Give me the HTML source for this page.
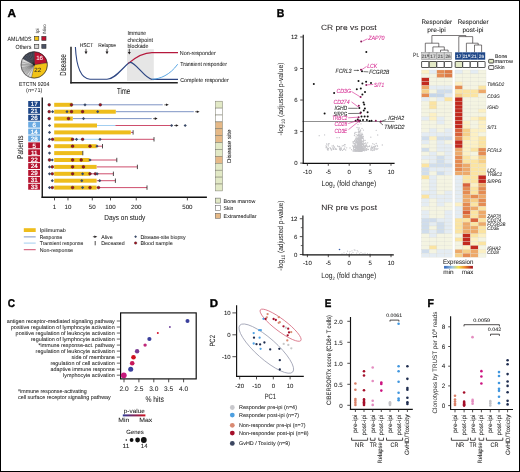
<!DOCTYPE html>
<html><head><meta charset="utf-8"><style>
html,body{margin:0;padding:0;background:#fff;}
svg{display:block;font-family:"Liberation Sans", sans-serif;will-change:transform;text-rendering:geometricPrecision;}
</style></head><body>
<svg width="520" height="472" viewBox="0 0 520 472">
<rect width="520" height="472" fill="#fff"/>
<rect x="0.5" y="0.5" width="519" height="471" fill="none" stroke="#000" stroke-width="1" />
<text x="7.4" y="16.6" font-size="11.5" fill="#000" stroke="#000" stroke-width="0.35" font-weight="bold" textLength="8.5" lengthAdjust="spacingAndGlyphs">A</text>
<text transform="translate(39.0,33.4) rotate(-90)" font-size="4.6" fill="#444" stroke="#444" stroke-width="0.05">Ipi</text>
<text transform="translate(45.6,33.4) rotate(-90)" font-size="4.6" fill="#444" stroke="#444" stroke-width="0.05">Nivo</text>
<text x="31.5" y="40.8" font-size="6.0" text-anchor="end" fill="#1a1a1a" stroke="#1a1a1a" stroke-width="0.05" textLength="24" lengthAdjust="spacingAndGlyphs">AML/MDS</text>
<text x="31.5" y="48.6" font-size="6.0" text-anchor="end" fill="#1a1a1a" stroke="#1a1a1a" stroke-width="0.05" textLength="16" lengthAdjust="spacingAndGlyphs">Others</text>
<rect x="34.6" y="36.4" width="4.2" height="4.0" fill="#f2c318" stroke="#333" stroke-width="0.6" />
<rect x="41.8" y="36.4" width="4.2" height="4.0" fill="#c0102e" stroke="#333" stroke-width="0.6" />
<rect x="34.6" y="44.3" width="4.2" height="4.0" fill="#d4d4d4" stroke="#333" stroke-width="0.6" />
<rect x="41.8" y="44.3" width="4.2" height="4.0" fill="#4b5366" stroke="#333" stroke-width="0.6" />
<path d="M34.2,64.9 L34.20,51.70 A13.2,13.2 0 0 1 47.24,62.86 Z" fill="#bb1030" stroke="#231f20" stroke-width="0.35"/>
<path d="M34.2,64.9 L47.24,62.86 A13.2,13.2 0 0 1 31.30,77.78 Z" fill="#f2c318" stroke="#231f20" stroke-width="0.35"/>
<path d="M34.2,64.9 L31.30,77.78 A13.2,13.2 0 0 1 28.03,76.57 Z" fill="#dcdcdc" stroke="#3a3a3a" stroke-width="0.25"/>
<path d="M34.2,64.9 L28.03,76.57 A13.2,13.2 0 0 1 26.07,75.30 Z" fill="#dcdcdc" stroke="#3a3a3a" stroke-width="0.25"/>
<path d="M34.2,64.9 L26.07,75.30 A13.2,13.2 0 0 1 25.18,74.54 Z" fill="#dcdcdc" stroke="#3a3a3a" stroke-width="0.25"/>
<path d="M34.2,64.9 L25.18,74.54 A13.2,13.2 0 0 1 24.36,73.70 Z" fill="#dcdcdc" stroke="#3a3a3a" stroke-width="0.25"/>
<path d="M34.2,64.9 L24.36,73.70 A13.2,13.2 0 0 1 23.62,72.80 Z" fill="#dcdcdc" stroke="#3a3a3a" stroke-width="0.25"/>
<path d="M34.2,64.9 L23.62,72.80 A13.2,13.2 0 0 1 22.97,71.83 Z" fill="#dcdcdc" stroke="#3a3a3a" stroke-width="0.25"/>
<path d="M34.2,64.9 L22.97,71.83 A13.2,13.2 0 0 1 22.40,70.81 Z" fill="#dcdcdc" stroke="#3a3a3a" stroke-width="0.25"/>
<path d="M34.2,64.9 L22.40,70.81 A13.2,13.2 0 0 1 21.92,69.75 Z" fill="#dcdcdc" stroke="#3a3a3a" stroke-width="0.25"/>
<path d="M34.2,64.9 L21.92,69.75 A13.2,13.2 0 0 1 21.54,68.64 Z" fill="#dcdcdc" stroke="#3a3a3a" stroke-width="0.25"/>
<path d="M34.2,64.9 L21.54,68.64 A13.2,13.2 0 0 1 21.26,67.51 Z" fill="#dcdcdc" stroke="#3a3a3a" stroke-width="0.25"/>
<path d="M34.2,64.9 L21.26,67.51 A13.2,13.2 0 0 1 21.00,65.19 Z" fill="#dcdcdc" stroke="#3a3a3a" stroke-width="0.25"/>
<path d="M34.2,64.9 L21.00,65.19 A13.2,13.2 0 0 1 21.03,64.02 Z" fill="#dcdcdc" stroke="#3a3a3a" stroke-width="0.25"/>
<path d="M34.2,64.9 L21.03,64.02 A13.2,13.2 0 0 1 21.39,61.72 Z" fill="#dcdcdc" stroke="#3a3a3a" stroke-width="0.25"/>
<path d="M34.2,64.9 L21.39,61.72 A13.2,13.2 0 0 1 22.67,58.47 Z" fill="#dcdcdc" stroke="#3a3a3a" stroke-width="0.25"/>
<path d="M34.2,64.9 L22.67,58.47 A13.2,13.2 0 0 1 23.98,56.54 Z" fill="#434b5c" stroke="#1a1a1a" stroke-width="0.3"/>
<path d="M34.2,64.9 L23.98,56.54 A13.2,13.2 0 0 1 25.62,54.87 Z" fill="#434b5c" stroke="#1a1a1a" stroke-width="0.3"/>
<path d="M34.2,64.9 L25.62,54.87 A13.2,13.2 0 0 1 26.54,54.15 Z" fill="#434b5c" stroke="#1a1a1a" stroke-width="0.3"/>
<path d="M34.2,64.9 L26.54,54.15 A13.2,13.2 0 0 1 28.55,52.97 Z" fill="#434b5c" stroke="#1a1a1a" stroke-width="0.3"/>
<path d="M34.2,64.9 L28.55,52.97 A13.2,13.2 0 0 1 30.74,52.16 Z" fill="#434b5c" stroke="#1a1a1a" stroke-width="0.3"/>
<path d="M34.2,64.9 L30.74,52.16 A13.2,13.2 0 0 1 33.03,51.75 Z" fill="#434b5c" stroke="#1a1a1a" stroke-width="0.3"/>
<path d="M34.2,64.9 L33.03,51.75 A13.2,13.2 0 0 1 34.20,51.70 Z" fill="#434b5c" stroke="#1a1a1a" stroke-width="0.3"/>
<circle cx="34.2" cy="64.9" r="13.2" fill="none" stroke="#231f20" stroke-width="0.5"/>
<text x="39.6" y="60.2" font-size="6.2" text-anchor="middle" fill="#fff" stroke="#fff" stroke-width="0.05">16</text>
<text x="37.8" y="72.4" font-size="6.2" text-anchor="middle" fill="#231f20" stroke="#231f20" stroke-width="0.05">22</text>
<text x="34.2" y="85.8" font-size="5.7" text-anchor="middle" fill="#1a1a1a" stroke="#1a1a1a" stroke-width="0.05" textLength="30.2" lengthAdjust="spacingAndGlyphs">ETCTN 9204</text>
<text x="34.2" y="92.2" font-size="5.6" text-anchor="middle" fill="#1a1a1a">(<tspan font-style="italic">n</tspan>=71)</text>
<rect x="127" y="49.2" width="26.8" height="31.6" fill="#e6e6e6" />
<line x1="71.0" y1="46.8" x2="71.0" y2="83.5" stroke="#222" stroke-width="1.5" />
<line x1="70.3" y1="82.8" x2="177.8" y2="82.8" stroke="#222" stroke-width="1.5" />
<text transform="translate(65.8,75.8) rotate(-90)" font-size="8.8" fill="#1a1a1a" stroke="#1a1a1a" stroke-width="0.05" textLength="21.7" lengthAdjust="spacingAndGlyphs">Disease</text>
<text x="117" y="93.6" font-size="8.6" fill="#1a1a1a" stroke="#1a1a1a" stroke-width="0.05" textLength="13.2" lengthAdjust="spacingAndGlyphs">Time</text>
<text x="79.7" y="47.1" font-size="5.6" fill="#1a1a1a" stroke="#1a1a1a" stroke-width="0.05" textLength="13.5" lengthAdjust="spacingAndGlyphs">HSCT</text>
<text x="98.2" y="47.1" font-size="5.6" fill="#1a1a1a" stroke="#1a1a1a" stroke-width="0.05" textLength="17.8" lengthAdjust="spacingAndGlyphs">Relapse</text>
<text x="127.4" y="35.2" font-size="5.9" fill="#1a1a1a" stroke="#1a1a1a" stroke-width="0.05" textLength="18.8" lengthAdjust="spacingAndGlyphs">Immune</text>
<text x="127.4" y="41.6" font-size="5.9" fill="#1a1a1a" stroke="#1a1a1a" stroke-width="0.05" textLength="25.6" lengthAdjust="spacingAndGlyphs">checkpoint</text>
<text x="127.4" y="47.9" font-size="5.9" fill="#1a1a1a" stroke="#1a1a1a" stroke-width="0.05" textLength="21.1" lengthAdjust="spacingAndGlyphs">blockade</text>
<line x1="86" y1="48.8" x2="86" y2="52.2" stroke="#231f20" stroke-width="0.8" />
<path d="M84.5,51.6 L87.5,51.6 L86,54.2 Z" fill="#231f20"/>
<line x1="107" y1="48.8" x2="107" y2="52.2" stroke="#231f20" stroke-width="0.8" />
<path d="M105.5,51.6 L108.5,51.6 L107,54.2 Z" fill="#231f20"/>
<line x1="129.3" y1="48.8" x2="129.3" y2="52.6" stroke="#231f20" stroke-width="0.8" />
<path d="M127.80000000000001,52.0 L130.8,52.0 L129.3,54.6 Z" fill="#231f20"/>
<path d="M75.4,47 C76.3,66 80,78.5 90,79.3 L107,79.3 C115,79.3 122,68 129.2,62.8" stroke="#2d4683" stroke-width="1.1" fill="none" />
<path d="M128.3,63.4 C137,56 144,52.6 152,52.6 L178,52.6" stroke="#b5183c" stroke-width="1.1" fill="none" />
<path d="M129.2,62.8 C134,59.5 145,79.3 152,79.3 L178,79.3" stroke="#2d4683" stroke-width="1.2" fill="none" />
<path d="M152,79.3 C160,79 170,75 177.7,64.2" stroke="#4a9de0" stroke-width="0.9" fill="none" />
<text x="179.8" y="54.7" font-size="5.8" fill="#1a1a1a" stroke="#1a1a1a" stroke-width="0.05" textLength="36" lengthAdjust="spacingAndGlyphs">Non-responder</text>
<text x="180.2" y="66.3" font-size="5.8" fill="#1a1a1a" stroke="#1a1a1a" stroke-width="0.05" textLength="46.8" lengthAdjust="spacingAndGlyphs">Transient responder</text>
<text x="180.2" y="82.0" font-size="5.8" fill="#1a1a1a" stroke="#1a1a1a" stroke-width="0.05" textLength="48.6" lengthAdjust="spacingAndGlyphs">Complete responder</text>
<rect x="28.2" y="101.0" width="11.8" height="5.9" fill="#1f4788" />
<text x="34.2" y="106.35" font-size="6.2" text-anchor="middle" fill="#fff" stroke="#fff" stroke-width="0.22">17</text>
<rect x="28.2" y="107.9" width="11.8" height="5.9" fill="#1f4788" />
<text x="34.2" y="113.25" font-size="6.2" text-anchor="middle" fill="#fff" stroke="#fff" stroke-width="0.22">21</text>
<rect x="28.2" y="114.8" width="11.8" height="5.9" fill="#1f4788" />
<text x="34.2" y="120.15" font-size="6.2" text-anchor="middle" fill="#fff" stroke="#fff" stroke-width="0.22">26</text>
<rect x="28.2" y="121.7" width="11.8" height="5.9" fill="#6aaae2" />
<text x="34.2" y="127.05" font-size="6.2" text-anchor="middle" fill="#fff" stroke="#fff" stroke-width="0.22">6</text>
<rect x="28.2" y="128.6" width="11.8" height="5.9" fill="#6aaae2" />
<text x="34.2" y="133.95" font-size="6.2" text-anchor="middle" fill="#fff" stroke="#fff" stroke-width="0.22">14</text>
<rect x="28.2" y="135.5" width="11.8" height="5.9" fill="#6aaae2" />
<text x="34.2" y="140.85" font-size="6.2" text-anchor="middle" fill="#fff" stroke="#fff" stroke-width="0.22">28</text>
<rect x="28.2" y="142.39999999999998" width="11.8" height="5.9" fill="#b5132f" />
<text x="34.2" y="147.75" font-size="6.2" text-anchor="middle" fill="#fff" stroke="#fff" stroke-width="0.22">5</text>
<rect x="28.2" y="149.29999999999998" width="11.8" height="5.9" fill="#b5132f" />
<text x="34.2" y="154.65" font-size="6.2" text-anchor="middle" fill="#fff" stroke="#fff" stroke-width="0.22">11</text>
<rect x="28.2" y="156.2" width="11.8" height="5.9" fill="#b5132f" />
<text x="34.2" y="161.55" font-size="6.2" text-anchor="middle" fill="#fff" stroke="#fff" stroke-width="0.22">22</text>
<rect x="28.2" y="163.1" width="11.8" height="5.9" fill="#b5132f" />
<text x="34.2" y="168.45" font-size="6.2" text-anchor="middle" fill="#fff" stroke="#fff" stroke-width="0.22">24</text>
<rect x="28.2" y="170.0" width="11.8" height="5.9" fill="#b5132f" />
<text x="34.2" y="175.35" font-size="6.2" text-anchor="middle" fill="#fff" stroke="#fff" stroke-width="0.22">29</text>
<rect x="28.2" y="176.89999999999998" width="11.8" height="5.9" fill="#b5132f" />
<text x="34.2" y="182.25" font-size="6.2" text-anchor="middle" fill="#fff" stroke="#fff" stroke-width="0.22">31</text>
<rect x="28.2" y="183.8" width="11.8" height="5.9" fill="#b5132f" />
<text x="34.2" y="189.15" font-size="6.2" text-anchor="middle" fill="#fff" stroke="#fff" stroke-width="0.22">33</text>
<line x1="42.25" y1="97.6" x2="42.25" y2="197.9" stroke="#111" stroke-width="1.35" />
<line x1="41.6" y1="197.2" x2="206.9" y2="197.2" stroke="#111" stroke-width="1.35" />
<text transform="translate(23.4,158.9) rotate(-90)" font-size="8.4" fill="#1a1a1a" stroke="#1a1a1a" stroke-width="0.05" textLength="23.3" lengthAdjust="spacingAndGlyphs">Patients</text>
<line x1="54.519999999999996" y1="197.3" x2="54.519999999999996" y2="200.4" stroke="#231f20" stroke-width="0.8" />
<text x="54.519999999999996" y="208.8" font-size="6.2" text-anchor="middle" fill="#1a1a1a" stroke="#1a1a1a" stroke-width="0.05">1</text>
<line x1="67.96936704624731" y1="197.3" x2="67.96936704624731" y2="200.4" stroke="#231f20" stroke-width="0.8" />
<text x="67.96936704624731" y="208.8" font-size="6.2" text-anchor="middle" fill="#1a1a1a" stroke="#1a1a1a" stroke-width="0.05">10</text>
<line x1="92.28204178980326" y1="197.3" x2="92.28204178980326" y2="200.4" stroke="#231f20" stroke-width="0.8" />
<text x="92.28204178980326" y="208.8" font-size="6.2" text-anchor="middle" fill="#1a1a1a" stroke="#1a1a1a" stroke-width="0.05">50</text>
<line x1="110.5" y1="197.3" x2="110.5" y2="200.4" stroke="#231f20" stroke-width="0.8" />
<text x="110.5" y="208.8" font-size="6.2" text-anchor="middle" fill="#1a1a1a" stroke="#1a1a1a" stroke-width="0.05">100</text>
<line x1="136.2640835796065" y1="197.3" x2="136.2640835796065" y2="200.4" stroke="#231f20" stroke-width="0.8" />
<text x="136.2640835796065" y="208.8" font-size="6.2" text-anchor="middle" fill="#1a1a1a" stroke="#1a1a1a" stroke-width="0.05">200</text>
<line x1="187.3834282004869" y1="197.3" x2="187.3834282004869" y2="200.4" stroke="#231f20" stroke-width="0.8" />
<text x="187.3834282004869" y="208.8" font-size="6.2" text-anchor="middle" fill="#1a1a1a" stroke="#1a1a1a" stroke-width="0.05">500</text>
<text x="104.3" y="219.6" font-size="7.4" fill="#1a1a1a" stroke="#1a1a1a" stroke-width="0.05" textLength="41" lengthAdjust="spacingAndGlyphs">Days on study</text>
<line x1="72.3" y1="104.8" x2="162.7" y2="104.8" stroke="#6f88bd" stroke-width="0.9" />
<rect x="54.2" y="102.8" width="18.099999999999994" height="4.0" fill="#eebd1c" />
<line x1="164.4" y1="104.8" x2="166.6" y2="104.8" stroke="#231f20" stroke-width="0.7" />
<path d="M166.0,103.5 L168.8,104.8 L166.0,106.1 Z" fill="#231f20"/>
<circle cx="49.2" cy="104.8" r="1.4" fill="#a3101f" stroke="#231f20" stroke-width="0.4"/>
<circle cx="71.5" cy="104.8" r="1.4" fill="#a3101f" stroke="#231f20" stroke-width="0.4"/>
<path d="M83.4,104.8 L85,103.2 L86.6,104.8 L85,106.39999999999999 Z" fill="#3b4a68"/>
<circle cx="100.3" cy="104.8" r="1.4" fill="#a3101f" stroke="#231f20" stroke-width="0.4"/>
<line x1="115.8" y1="111.7" x2="193.8" y2="111.7" stroke="#6f88bd" stroke-width="0.9" />
<rect x="54.2" y="109.7" width="61.599999999999994" height="4.0" fill="#eebd1c" />
<line x1="195.2" y1="111.7" x2="197.39999999999998" y2="111.7" stroke="#231f20" stroke-width="0.7" />
<path d="M196.79999999999998,110.4 L199.6,111.7 L196.79999999999998,113.0 Z" fill="#231f20"/>
<circle cx="49.2" cy="111.7" r="1.4" fill="#a3101f" stroke="#231f20" stroke-width="0.4"/>
<path d="M51.0,111.7 L52.6,110.10000000000001 L54.2,111.7 L52.6,113.3 Z" fill="#3b4a68"/>
<path d="M65.4,111.7 L67,110.10000000000001 L68.6,111.7 L67,113.3 Z" fill="#3b4a68"/>
<circle cx="71.5" cy="111.7" r="1.4" fill="#a3101f" stroke="#231f20" stroke-width="0.4"/>
<circle cx="82.6" cy="111.7" r="1.4" fill="#a3101f" stroke="#231f20" stroke-width="0.4"/>
<path d="M96.10000000000001,111.7 L97.7,110.10000000000001 L99.3,111.7 L97.7,113.3 Z" fill="#3b4a68"/>
<line x1="72.8" y1="118.6" x2="151.7" y2="118.6" stroke="#6f88bd" stroke-width="0.9" />
<rect x="54.2" y="116.6" width="18.599999999999994" height="4.0" fill="#eebd1c" />
<line x1="153.2" y1="118.6" x2="155.39999999999998" y2="118.6" stroke="#231f20" stroke-width="0.7" />
<path d="M154.79999999999998,117.3 L157.6,118.6 L154.79999999999998,119.89999999999999 Z" fill="#231f20"/>
<circle cx="49.2" cy="118.6" r="1.4" fill="#a3101f" stroke="#231f20" stroke-width="0.4"/>
<circle cx="68.5" cy="118.6" r="1.4" fill="#a3101f" stroke="#231f20" stroke-width="0.4"/>
<path d="M81.9,118.6 L83.5,117.0 L85.1,118.6 L83.5,120.19999999999999 Z" fill="#3b4a68"/>
<line x1="97" y1="125.5" x2="115.4" y2="125.5" stroke="#98c8ee" stroke-width="0.9" />
<line x1="115.4" y1="125.5" x2="170.8" y2="125.5" stroke="#c83a5c" stroke-width="0.9" />
<rect x="54.2" y="123.5" width="42.8" height="4.0" fill="#eebd1c" />
<path d="M47.9,125.5 L49.5,123.9 L51.1,125.5 L49.5,127.1 Z" fill="#3b4a68"/>
<path d="M170.0,125.5 L171.6,123.9 L173.2,125.5 L171.6,127.1 Z" fill="#3b4a68"/>
<line x1="174.2" y1="125.5" x2="176.39999999999998" y2="125.5" stroke="#231f20" stroke-width="0.7" />
<path d="M175.79999999999998,124.2 L178.6,125.5 L175.79999999999998,126.8 Z" fill="#231f20"/>
<path d="M183.6,125.5 L185.2,123.9 L186.79999999999998,125.5 L185.2,127.1 Z" fill="#3b4a68"/>
<line x1="130.8" y1="132.4" x2="133" y2="132.4" stroke="#c83a5c" stroke-width="0.9" />
<rect x="54.2" y="130.4" width="76.60000000000001" height="4.0" fill="#eebd1c" />
<line x1="133.1" y1="130.20000000000002" x2="133.1" y2="134.6" stroke="#231f20" stroke-width="0.8" />
<path d="M47.9,132.4 L49.5,130.8 L51.1,132.4 L49.5,134.0 Z" fill="#3b4a68"/>
<line x1="72.3" y1="139.3" x2="100" y2="139.3" stroke="#98c8ee" stroke-width="0.9" />
<line x1="100" y1="139.3" x2="154" y2="139.3" stroke="#c83a5c" stroke-width="0.9" />
<line x1="154" y1="137.10000000000002" x2="154" y2="141.5" stroke="#231f20" stroke-width="0.8" />
<rect x="54.2" y="137.3" width="18.099999999999994" height="4.0" fill="#eebd1c" />
<path d="M47.9,139.3 L49.5,137.70000000000002 L51.1,139.3 L49.5,140.9 Z" fill="#3b4a68"/>
<circle cx="52.6" cy="139.3" r="1.4" fill="#a3101f" stroke="#231f20" stroke-width="0.4"/>
<circle cx="72.6" cy="139.3" r="1.4" fill="#a3101f" stroke="#231f20" stroke-width="0.4"/>
<path d="M74.9,139.3 L76.5,137.70000000000002 L78.1,139.3 L76.5,140.9 Z" fill="#3b4a68"/>
<circle cx="82.6" cy="139.3" r="1.4" fill="#a3101f" stroke="#231f20" stroke-width="0.4"/>
<path d="M98.4,139.3 L100,137.70000000000002 L101.6,139.3 L100,140.9 Z" fill="#3b4a68"/>
<line x1="96.6" y1="146.2" x2="102.5" y2="146.2" stroke="#c83a5c" stroke-width="0.9" />
<line x1="102.5" y1="144.0" x2="102.5" y2="148.39999999999998" stroke="#231f20" stroke-width="0.8" />
<rect x="54.2" y="144.2" width="42.39999999999999" height="4.0" fill="#eebd1c" />
<circle cx="49.2" cy="146.2" r="1.4" fill="#a3101f" stroke="#231f20" stroke-width="0.4"/>
<circle cx="72.6" cy="146.2" r="1.4" fill="#a3101f" stroke="#231f20" stroke-width="0.4"/>
<circle cx="90" cy="146.2" r="1.4" fill="#a3101f" stroke="#231f20" stroke-width="0.4"/>
<path d="M95.4,146.2 L97,144.6 L98.6,146.2 L97,147.79999999999998 Z" fill="#3b4a68"/>
<rect x="54.2" y="151.1" width="28.39999999999999" height="4.0" fill="#eebd1c" />
<line x1="82.8" y1="150.9" x2="82.8" y2="155.29999999999998" stroke="#231f20" stroke-width="0.8" />
<path d="M47.9,153.1 L49.5,151.5 L51.1,153.1 L49.5,154.7 Z" fill="#3b4a68"/>
<line x1="89.5" y1="160.0" x2="116.8" y2="160.0" stroke="#c83a5c" stroke-width="0.9" />
<line x1="116.8" y1="157.8" x2="116.8" y2="162.2" stroke="#231f20" stroke-width="0.8" />
<rect x="54.2" y="158.0" width="35.3" height="4.0" fill="#eebd1c" />
<circle cx="49.5" cy="160.0" r="1.4" fill="#a3101f" stroke="#231f20" stroke-width="0.4"/>
<path d="M50.699999999999996,160.0 L52.3,158.4 L53.9,160.0 L52.3,161.6 Z" fill="#3b4a68"/>
<circle cx="72.6" cy="160.0" r="1.4" fill="#a3101f" stroke="#231f20" stroke-width="0.4"/>
<circle cx="81.2" cy="160.0" r="1.4" fill="#a3101f" stroke="#231f20" stroke-width="0.4"/>
<path d="M88.4,160.0 L90,158.4 L91.6,160.0 L90,161.6 Z" fill="#3b4a68"/>
<line x1="96.6" y1="166.9" x2="137.4" y2="166.9" stroke="#c83a5c" stroke-width="0.9" />
<line x1="137.4" y1="164.70000000000002" x2="137.4" y2="169.1" stroke="#231f20" stroke-width="0.8" />
<rect x="54.2" y="164.9" width="42.39999999999999" height="4.0" fill="#eebd1c" />
<path d="M47.9,166.9 L49.5,165.3 L51.1,166.9 L49.5,168.5 Z" fill="#3b4a68"/>
<circle cx="52.3" cy="166.9" r="1.4" fill="#a3101f" stroke="#231f20" stroke-width="0.4"/>
<circle cx="72.6" cy="166.9" r="1.4" fill="#a3101f" stroke="#231f20" stroke-width="0.4"/>
<circle cx="83.4" cy="166.9" r="1.4" fill="#a3101f" stroke="#231f20" stroke-width="0.4"/>
<line x1="90" y1="173.8" x2="113.4" y2="173.8" stroke="#c83a5c" stroke-width="0.9" />
<line x1="113.4" y1="171.60000000000002" x2="113.4" y2="176.0" stroke="#231f20" stroke-width="0.8" />
<rect x="54.2" y="171.8" width="35.8" height="4.0" fill="#eebd1c" />
<path d="M47.9,173.8 L49.5,172.20000000000002 L51.1,173.8 L49.5,175.4 Z" fill="#3b4a68"/>
<circle cx="52.3" cy="173.8" r="1.4" fill="#a3101f" stroke="#231f20" stroke-width="0.4"/>
<circle cx="72.6" cy="173.8" r="1.4" fill="#a3101f" stroke="#231f20" stroke-width="0.4"/>
<path d="M81.0,173.8 L82.6,172.20000000000002 L84.19999999999999,173.8 L82.6,175.4 Z" fill="#3b4a68"/>
<circle cx="90" cy="173.8" r="1.4" fill="#a3101f" stroke="#231f20" stroke-width="0.4"/>
<circle cx="95.4" cy="173.8" r="1.4" fill="#a3101f" stroke="#231f20" stroke-width="0.4"/>
<path d="M95.60000000000001,173.8 L97.2,172.20000000000002 L98.8,173.8 L97.2,175.4 Z" fill="#3b4a68"/>
<line x1="96.6" y1="180.7" x2="115.4" y2="180.7" stroke="#c83a5c" stroke-width="0.9" />
<line x1="115.4" y1="178.5" x2="115.4" y2="182.89999999999998" stroke="#231f20" stroke-width="0.8" />
<rect x="54.2" y="178.7" width="42.39999999999999" height="4.0" fill="#eebd1c" />
<path d="M50.699999999999996,180.7 L52.3,179.1 L53.9,180.7 L52.3,182.29999999999998 Z" fill="#3b4a68"/>
<path d="M80.2,180.7 L81.8,179.1 L83.39999999999999,180.7 L81.8,182.29999999999998 Z" fill="#3b4a68"/>
<path d="M98.10000000000001,180.7 L99.7,179.1 L101.3,180.7 L99.7,182.29999999999998 Z" fill="#3b4a68"/>
<line x1="96.6" y1="187.60000000000002" x2="147" y2="187.60000000000002" stroke="#c83a5c" stroke-width="0.9" />
<line x1="147" y1="185.40000000000003" x2="147" y2="189.8" stroke="#231f20" stroke-width="0.8" />
<rect x="54.2" y="185.60000000000002" width="42.39999999999999" height="4.0" fill="#eebd1c" />
<path d="M47.9,187.60000000000002 L49.5,186.00000000000003 L51.1,187.60000000000002 L49.5,189.20000000000002 Z" fill="#3b4a68"/>
<circle cx="52.3" cy="187.60000000000002" r="1.4" fill="#a3101f" stroke="#231f20" stroke-width="0.4"/>
<circle cx="72.6" cy="187.60000000000002" r="1.4" fill="#a3101f" stroke="#231f20" stroke-width="0.4"/>
<path d="M81.0,187.60000000000002 L82.6,186.00000000000003 L84.19999999999999,187.60000000000002 L82.6,189.20000000000002 Z" fill="#3b4a68"/>
<circle cx="90" cy="187.60000000000002" r="1.4" fill="#a3101f" stroke="#231f20" stroke-width="0.4"/>
<circle cx="98.5" cy="187.60000000000002" r="1.4" fill="#a3101f" stroke="#231f20" stroke-width="0.4"/>
<rect x="215.6" y="101.2" width="6.8" height="6.9" fill="#e2e9c6" stroke="#7a7a6a" stroke-width="0.5" />
<rect x="215.6" y="108.10000000000001" width="6.8" height="6.9" fill="#ffffff" stroke="#7a7a6a" stroke-width="0.5" />
<rect x="215.6" y="115.0" width="6.8" height="6.9" fill="#ffffff" stroke="#7a7a6a" stroke-width="0.5" />
<rect x="215.6" y="121.9" width="6.8" height="6.9" fill="#e6b987" stroke="#7a7a6a" stroke-width="0.5" />
<rect x="215.6" y="128.8" width="6.8" height="6.9" fill="#e6b987" stroke="#7a7a6a" stroke-width="0.5" />
<rect x="215.6" y="135.7" width="6.8" height="6.9" fill="#e6b987" stroke="#7a7a6a" stroke-width="0.5" />
<rect x="215.6" y="142.60000000000002" width="6.8" height="6.9" fill="#e2e9c6" stroke="#7a7a6a" stroke-width="0.5" />
<rect x="215.6" y="149.5" width="6.8" height="6.9" fill="#e2e9c6" stroke="#7a7a6a" stroke-width="0.5" />
<rect x="215.6" y="156.4" width="6.8" height="6.9" fill="#e6b987" stroke="#7a7a6a" stroke-width="0.5" />
<rect x="215.6" y="163.3" width="6.8" height="6.9" fill="#e2e9c6" stroke="#7a7a6a" stroke-width="0.5" />
<rect x="215.6" y="170.2" width="6.8" height="6.9" fill="#e2e9c6" stroke="#7a7a6a" stroke-width="0.5" />
<rect x="215.6" y="177.10000000000002" width="6.8" height="6.9" fill="#e2e9c6" stroke="#7a7a6a" stroke-width="0.5" />
<rect x="215.6" y="184.0" width="6.8" height="6.9" fill="#e2e9c6" stroke="#7a7a6a" stroke-width="0.5" />
<text transform="translate(230.9,163) rotate(-90)" font-size="5.8" fill="#1a1a1a" stroke="#1a1a1a" stroke-width="0.05" textLength="33.5" lengthAdjust="spacingAndGlyphs">Disease site</text>
<rect x="215.3" y="198.1" width="5.2" height="5.0" fill="#e2e9c6" stroke="#555" stroke-width="0.5" />
<text x="223.6" y="202.5" font-size="5.4" fill="#1a1a1a" stroke="#1a1a1a" stroke-width="0.05" textLength="31.8" lengthAdjust="spacingAndGlyphs">Bone marrow</text>
<rect x="215.3" y="205.7" width="5.2" height="5.0" fill="#ffffff" stroke="#555" stroke-width="0.5" />
<text x="223.6" y="210.1" font-size="5.4" fill="#1a1a1a" stroke="#1a1a1a" stroke-width="0.05" textLength="9.8" lengthAdjust="spacingAndGlyphs">Skin</text>
<rect x="215.3" y="213.29999999999998" width="5.2" height="5.0" fill="#e6b987" stroke="#555" stroke-width="0.5" />
<text x="223.6" y="217.7" font-size="5.4" fill="#1a1a1a" stroke="#1a1a1a" stroke-width="0.05" textLength="32.9" lengthAdjust="spacingAndGlyphs">Extramedullar</text>
<rect x="23.8" y="228.2" width="11.9" height="3.8" fill="#eebd1c" />
<line x1="23.8" y1="236.9" x2="35.7" y2="236.9" stroke="#6f88bd" stroke-width="0.9" />
<line x1="23.8" y1="243.1" x2="35.7" y2="243.1" stroke="#98c8ee" stroke-width="0.9" />
<line x1="23.8" y1="249.7" x2="35.7" y2="249.7" stroke="#c83a5c" stroke-width="0.9" />
<text x="39.7" y="231.8" font-size="5.3" fill="#1a1a1a" stroke="#1a1a1a" stroke-width="0.05" textLength="26.1" lengthAdjust="spacingAndGlyphs">Ipilimumab</text>
<text x="39.7" y="238.70000000000002" font-size="5.3" fill="#1a1a1a" stroke="#1a1a1a" stroke-width="0.05" textLength="22.6" lengthAdjust="spacingAndGlyphs">Response</text>
<text x="39.7" y="244.9" font-size="5.3" fill="#1a1a1a" stroke="#1a1a1a" stroke-width="0.05" textLength="43.7" lengthAdjust="spacingAndGlyphs">Transient response</text>
<text x="39.7" y="251.5" font-size="5.3" fill="#1a1a1a" stroke="#1a1a1a" stroke-width="0.05" textLength="33.3" lengthAdjust="spacingAndGlyphs">Non-response</text>
<line x1="92.9" y1="236.7" x2="95" y2="236.7" stroke="#231f20" stroke-width="0.7" />
<path d="M94.4,235.5 L97.3,236.7 L94.4,237.9 Z" fill="#231f20"/>
<line x1="95.2" y1="241.0" x2="95.2" y2="245.3" stroke="#231f20" stroke-width="0.8" />
<text x="101.2" y="238.5" font-size="5.3" fill="#1a1a1a" stroke="#1a1a1a" stroke-width="0.05" textLength="11.5" lengthAdjust="spacingAndGlyphs">Alive</text>
<text x="101.2" y="244.8" font-size="5.3" fill="#1a1a1a" stroke="#1a1a1a" stroke-width="0.05" textLength="23.4" lengthAdjust="spacingAndGlyphs">Deceased</text>
<path d="M134.2,236.7 L135.6,235.3 L137,236.7 L135.6,238.1 Z" fill="#3b4a68"/>
<circle cx="135.6" cy="243" r="1.3" fill="#a3101f" stroke="#231f20" stroke-width="0.3"/>
<text x="140.4" y="238.5" font-size="5.3" fill="#1a1a1a" stroke="#1a1a1a" stroke-width="0.05" textLength="45.2" lengthAdjust="spacingAndGlyphs">Disease-site biopsy</text>
<text x="140.4" y="244.8" font-size="5.3" fill="#1a1a1a" stroke="#1a1a1a" stroke-width="0.05" textLength="32.3" lengthAdjust="spacingAndGlyphs">Blood sample</text>
<text x="276.8" y="16.5" font-size="11.3" fill="#000" stroke="#000" stroke-width="0.35" font-weight="bold" textLength="7.6" lengthAdjust="spacingAndGlyphs">B</text>
<text x="320.9" y="29.5" font-size="7.6" fill="#231f20" stroke="#231f20" stroke-width="0.05" textLength="55.8" lengthAdjust="spacingAndGlyphs">CR pre vs post</text>
<circle cx="360.4" cy="149.0" r="0.65" fill="#c4c4c8"/>
<circle cx="358.2" cy="149.3" r="0.65" fill="#c4c4c8"/>
<circle cx="358.8" cy="143.3" r="0.65" fill="#c4c4c8"/>
<circle cx="360.4" cy="141.7" r="0.65" fill="#c4c4c8"/>
<circle cx="360.0" cy="142.4" r="0.65" fill="#c4c4c8"/>
<circle cx="359.6" cy="147.8" r="0.65" fill="#c4c4c8"/>
<circle cx="361.5" cy="137.0" r="0.65" fill="#c4c4c8"/>
<circle cx="360.5" cy="146.9" r="0.65" fill="#c4c4c8"/>
<circle cx="356.0" cy="136.8" r="0.65" fill="#c4c4c8"/>
<circle cx="358.2" cy="143.6" r="0.65" fill="#c4c4c8"/>
<circle cx="358.9" cy="148.6" r="0.65" fill="#c4c4c8"/>
<circle cx="357.5" cy="146.8" r="0.65" fill="#c4c4c8"/>
<circle cx="360.1" cy="148.6" r="0.65" fill="#c4c4c8"/>
<circle cx="363.6" cy="145.6" r="0.65" fill="#c4c4c8"/>
<circle cx="362.3" cy="146.5" r="0.65" fill="#c4c4c8"/>
<circle cx="357.3" cy="145.9" r="0.65" fill="#c4c4c8"/>
<circle cx="358.8" cy="148.3" r="0.65" fill="#c4c4c8"/>
<circle cx="359.8" cy="145.8" r="0.65" fill="#c4c4c8"/>
<circle cx="356.6" cy="147.4" r="0.65" fill="#c4c4c8"/>
<circle cx="362.3" cy="146.8" r="0.65" fill="#c4c4c8"/>
<circle cx="359.9" cy="144.3" r="0.65" fill="#c4c4c8"/>
<circle cx="355.2" cy="147.6" r="0.65" fill="#c4c4c8"/>
<circle cx="362.6" cy="150.8" r="0.65" fill="#c4c4c8"/>
<circle cx="359.2" cy="134.1" r="0.65" fill="#c4c4c8"/>
<circle cx="356.7" cy="150.3" r="0.65" fill="#c4c4c8"/>
<circle cx="359.0" cy="147.0" r="0.65" fill="#c4c4c8"/>
<circle cx="361.4" cy="138.8" r="0.65" fill="#c4c4c8"/>
<circle cx="361.6" cy="145.5" r="0.65" fill="#c4c4c8"/>
<circle cx="360.4" cy="139.0" r="0.65" fill="#c4c4c8"/>
<circle cx="355.4" cy="150.2" r="0.65" fill="#c4c4c8"/>
<circle cx="357.6" cy="146.0" r="0.65" fill="#c4c4c8"/>
<circle cx="355.8" cy="147.4" r="0.65" fill="#c4c4c8"/>
<circle cx="358.1" cy="143.0" r="0.65" fill="#c4c4c8"/>
<circle cx="354.9" cy="140.2" r="0.65" fill="#c4c4c8"/>
<circle cx="360.1" cy="138.8" r="0.65" fill="#c4c4c8"/>
<circle cx="360.8" cy="138.9" r="0.65" fill="#c4c4c8"/>
<circle cx="354.6" cy="135.1" r="0.65" fill="#c4c4c8"/>
<circle cx="357.1" cy="148.2" r="0.65" fill="#c4c4c8"/>
<circle cx="361.7" cy="141.7" r="0.65" fill="#c4c4c8"/>
<circle cx="359.8" cy="141.8" r="0.65" fill="#c4c4c8"/>
<circle cx="360.2" cy="149.1" r="0.65" fill="#c4c4c8"/>
<circle cx="361.0" cy="137.7" r="0.65" fill="#c4c4c8"/>
<circle cx="360.6" cy="146.8" r="0.65" fill="#c4c4c8"/>
<circle cx="362.4" cy="137.9" r="0.65" fill="#c4c4c8"/>
<circle cx="360.6" cy="143.1" r="0.65" fill="#c4c4c8"/>
<circle cx="358.5" cy="134.4" r="0.65" fill="#c4c4c8"/>
<circle cx="354.8" cy="144.0" r="0.65" fill="#c4c4c8"/>
<circle cx="361.8" cy="149.6" r="0.65" fill="#c4c4c8"/>
<circle cx="363.2" cy="140.1" r="0.65" fill="#c4c4c8"/>
<circle cx="358.8" cy="146.5" r="0.65" fill="#c4c4c8"/>
<circle cx="360.8" cy="148.4" r="0.65" fill="#c4c4c8"/>
<circle cx="362.2" cy="150.2" r="0.65" fill="#c4c4c8"/>
<circle cx="358.2" cy="145.6" r="0.65" fill="#c4c4c8"/>
<circle cx="359.4" cy="142.3" r="0.65" fill="#c4c4c8"/>
<circle cx="361.6" cy="143.7" r="0.65" fill="#c4c4c8"/>
<circle cx="358.6" cy="138.7" r="0.65" fill="#c4c4c8"/>
<circle cx="359.2" cy="139.5" r="0.65" fill="#c4c4c8"/>
<circle cx="358.2" cy="149.9" r="0.65" fill="#c4c4c8"/>
<circle cx="357.2" cy="139.3" r="0.65" fill="#c4c4c8"/>
<circle cx="356.6" cy="140.5" r="0.65" fill="#c4c4c8"/>
<circle cx="360.8" cy="144.5" r="0.65" fill="#c4c4c8"/>
<circle cx="361.4" cy="141.6" r="0.65" fill="#c4c4c8"/>
<circle cx="359.5" cy="148.3" r="0.65" fill="#c4c4c8"/>
<circle cx="360.6" cy="149.9" r="0.65" fill="#c4c4c8"/>
<circle cx="359.8" cy="149.7" r="0.65" fill="#c4c4c8"/>
<circle cx="359.2" cy="146.3" r="0.65" fill="#c4c4c8"/>
<circle cx="360.7" cy="144.7" r="0.65" fill="#c4c4c8"/>
<circle cx="360.4" cy="134.1" r="0.65" fill="#c4c4c8"/>
<circle cx="358.1" cy="147.6" r="0.65" fill="#c4c4c8"/>
<circle cx="361.5" cy="151.1" r="0.65" fill="#c4c4c8"/>
<circle cx="360.1" cy="148.3" r="0.65" fill="#c4c4c8"/>
<circle cx="354.4" cy="135.6" r="0.65" fill="#c4c4c8"/>
<circle cx="360.0" cy="141.6" r="0.65" fill="#c4c4c8"/>
<circle cx="359.7" cy="147.8" r="0.65" fill="#c4c4c8"/>
<circle cx="360.8" cy="147.5" r="0.65" fill="#c4c4c8"/>
<circle cx="357.7" cy="148.8" r="0.65" fill="#c4c4c8"/>
<circle cx="360.6" cy="130.5" r="0.65" fill="#c4c4c8"/>
<circle cx="358.9" cy="146.5" r="0.65" fill="#c4c4c8"/>
<circle cx="358.9" cy="149.3" r="0.65" fill="#c4c4c8"/>
<circle cx="359.3" cy="128.0" r="0.65" fill="#c4c4c8"/>
<circle cx="356.6" cy="142.6" r="0.65" fill="#c4c4c8"/>
<circle cx="361.6" cy="150.6" r="0.65" fill="#c4c4c8"/>
<circle cx="363.0" cy="143.9" r="0.65" fill="#c4c4c8"/>
<circle cx="358.9" cy="136.7" r="0.65" fill="#c4c4c8"/>
<circle cx="360.7" cy="148.3" r="0.65" fill="#c4c4c8"/>
<circle cx="353.1" cy="141.9" r="0.65" fill="#c4c4c8"/>
<circle cx="356.0" cy="141.9" r="0.65" fill="#c4c4c8"/>
<circle cx="355.5" cy="145.4" r="0.65" fill="#c4c4c8"/>
<circle cx="362.3" cy="149.7" r="0.65" fill="#c4c4c8"/>
<circle cx="359.5" cy="149.9" r="0.65" fill="#c4c4c8"/>
<circle cx="359.6" cy="144.4" r="0.65" fill="#c4c4c8"/>
<circle cx="363.2" cy="150.4" r="0.65" fill="#c4c4c8"/>
<circle cx="358.7" cy="142.3" r="0.65" fill="#c4c4c8"/>
<circle cx="358.2" cy="127.9" r="0.65" fill="#c4c4c8"/>
<circle cx="358.7" cy="143.4" r="0.65" fill="#c4c4c8"/>
<circle cx="360.9" cy="150.1" r="0.65" fill="#c4c4c8"/>
<circle cx="360.8" cy="149.3" r="0.65" fill="#c4c4c8"/>
<circle cx="356.3" cy="138.2" r="0.65" fill="#c4c4c8"/>
<circle cx="356.7" cy="146.0" r="0.65" fill="#c4c4c8"/>
<circle cx="355.9" cy="142.5" r="0.65" fill="#c4c4c8"/>
<circle cx="361.2" cy="140.4" r="0.65" fill="#c4c4c8"/>
<circle cx="357.5" cy="138.7" r="0.65" fill="#c4c4c8"/>
<circle cx="355.7" cy="151.2" r="0.65" fill="#c4c4c8"/>
<circle cx="363.2" cy="144.7" r="0.65" fill="#c4c4c8"/>
<circle cx="363.1" cy="143.6" r="0.65" fill="#c4c4c8"/>
<circle cx="358.9" cy="142.8" r="0.65" fill="#c4c4c8"/>
<circle cx="362.6" cy="134.4" r="0.65" fill="#c4c4c8"/>
<circle cx="357.3" cy="150.4" r="0.65" fill="#c4c4c8"/>
<circle cx="360.2" cy="147.8" r="0.65" fill="#c4c4c8"/>
<circle cx="357.3" cy="138.5" r="0.65" fill="#c4c4c8"/>
<circle cx="362.9" cy="141.5" r="0.65" fill="#c4c4c8"/>
<circle cx="359.2" cy="138.9" r="0.65" fill="#c4c4c8"/>
<circle cx="361.8" cy="144.9" r="0.65" fill="#c4c4c8"/>
<circle cx="359.3" cy="150.2" r="0.65" fill="#c4c4c8"/>
<circle cx="359.0" cy="139.1" r="0.65" fill="#c4c4c8"/>
<circle cx="359.2" cy="131.7" r="0.65" fill="#c4c4c8"/>
<circle cx="361.4" cy="135.4" r="0.65" fill="#c4c4c8"/>
<circle cx="357.4" cy="148.5" r="0.65" fill="#c4c4c8"/>
<circle cx="361.3" cy="151.1" r="0.65" fill="#c4c4c8"/>
<circle cx="362.7" cy="150.5" r="0.65" fill="#c4c4c8"/>
<circle cx="361.9" cy="150.7" r="0.65" fill="#c4c4c8"/>
<circle cx="363.1" cy="138.5" r="0.65" fill="#c4c4c8"/>
<circle cx="361.5" cy="145.5" r="0.65" fill="#c4c4c8"/>
<circle cx="357.5" cy="135.3" r="0.65" fill="#c4c4c8"/>
<circle cx="361.9" cy="134.5" r="0.65" fill="#c4c4c8"/>
<circle cx="359.4" cy="140.7" r="0.65" fill="#c4c4c8"/>
<circle cx="358.9" cy="149.6" r="0.65" fill="#c4c4c8"/>
<circle cx="359.8" cy="146.2" r="0.65" fill="#c4c4c8"/>
<circle cx="359.8" cy="136.0" r="0.65" fill="#c4c4c8"/>
<circle cx="361.8" cy="146.7" r="0.65" fill="#c4c4c8"/>
<circle cx="355.6" cy="149.5" r="0.65" fill="#c4c4c8"/>
<circle cx="361.9" cy="146.5" r="0.65" fill="#c4c4c8"/>
<circle cx="358.4" cy="137.2" r="0.65" fill="#c4c4c8"/>
<circle cx="361.3" cy="142.6" r="0.65" fill="#c4c4c8"/>
<circle cx="361.2" cy="151.1" r="0.65" fill="#c4c4c8"/>
<circle cx="355.8" cy="149.8" r="0.65" fill="#c4c4c8"/>
<circle cx="358.2" cy="137.9" r="0.65" fill="#c4c4c8"/>
<circle cx="358.0" cy="143.4" r="0.65" fill="#c4c4c8"/>
<circle cx="357.4" cy="143.5" r="0.65" fill="#c4c4c8"/>
<circle cx="359.3" cy="138.2" r="0.65" fill="#c4c4c8"/>
<circle cx="360.3" cy="141.2" r="0.65" fill="#c4c4c8"/>
<circle cx="360.5" cy="131.1" r="0.65" fill="#c4c4c8"/>
<circle cx="354.3" cy="145.7" r="0.65" fill="#c4c4c8"/>
<circle cx="358.6" cy="145.0" r="0.65" fill="#c4c4c8"/>
<circle cx="358.2" cy="132.2" r="0.65" fill="#c4c4c8"/>
<circle cx="357.8" cy="148.7" r="0.65" fill="#c4c4c8"/>
<circle cx="361.1" cy="144.6" r="0.65" fill="#c4c4c8"/>
<circle cx="360.1" cy="145.5" r="0.65" fill="#c4c4c8"/>
<circle cx="361.0" cy="139.9" r="0.65" fill="#c4c4c8"/>
<circle cx="353.7" cy="147.4" r="0.65" fill="#c4c4c8"/>
<circle cx="362.5" cy="143.6" r="0.65" fill="#c4c4c8"/>
<circle cx="357.8" cy="148.7" r="0.65" fill="#c4c4c8"/>
<circle cx="356.2" cy="134.7" r="0.65" fill="#c4c4c8"/>
<circle cx="365.5" cy="147.2" r="0.65" fill="#c4c4c8"/>
<circle cx="361.0" cy="143.3" r="0.65" fill="#c4c4c8"/>
<circle cx="359.5" cy="135.2" r="0.65" fill="#c4c4c8"/>
<circle cx="361.5" cy="146.4" r="0.65" fill="#c4c4c8"/>
<circle cx="359.1" cy="143.5" r="0.65" fill="#c4c4c8"/>
<circle cx="361.3" cy="148.7" r="0.65" fill="#c4c4c8"/>
<circle cx="358.4" cy="150.9" r="0.65" fill="#c4c4c8"/>
<circle cx="358.5" cy="142.6" r="0.65" fill="#c4c4c8"/>
<circle cx="359.6" cy="143.6" r="0.65" fill="#c4c4c8"/>
<circle cx="357.2" cy="143.9" r="0.65" fill="#c4c4c8"/>
<circle cx="362.0" cy="128.5" r="0.65" fill="#c4c4c8"/>
<circle cx="352.6" cy="145.8" r="0.65" fill="#c4c4c8"/>
<circle cx="360.4" cy="145.9" r="0.65" fill="#c4c4c8"/>
<circle cx="360.6" cy="136.9" r="0.65" fill="#c4c4c8"/>
<circle cx="360.4" cy="150.6" r="0.65" fill="#c4c4c8"/>
<circle cx="361.8" cy="134.7" r="0.65" fill="#c4c4c8"/>
<circle cx="357.2" cy="148.4" r="0.65" fill="#c4c4c8"/>
<circle cx="363.6" cy="139.9" r="0.65" fill="#c4c4c8"/>
<circle cx="358.0" cy="139.3" r="0.65" fill="#c4c4c8"/>
<circle cx="359.6" cy="148.7" r="0.65" fill="#c4c4c8"/>
<circle cx="356.5" cy="147.8" r="0.65" fill="#c4c4c8"/>
<circle cx="361.9" cy="133.2" r="0.65" fill="#c4c4c8"/>
<circle cx="356.3" cy="141.0" r="0.65" fill="#c4c4c8"/>
<circle cx="361.8" cy="136.7" r="0.65" fill="#c4c4c8"/>
<circle cx="361.4" cy="135.7" r="0.65" fill="#c4c4c8"/>
<circle cx="359.9" cy="143.8" r="0.65" fill="#c4c4c8"/>
<circle cx="358.4" cy="132.8" r="0.65" fill="#c4c4c8"/>
<circle cx="360.4" cy="150.7" r="0.65" fill="#c4c4c8"/>
<circle cx="358.9" cy="145.0" r="0.65" fill="#c4c4c8"/>
<circle cx="360.1" cy="147.3" r="0.65" fill="#c4c4c8"/>
<circle cx="359.7" cy="145.8" r="0.65" fill="#c4c4c8"/>
<circle cx="361.2" cy="148.4" r="0.65" fill="#c4c4c8"/>
<circle cx="356.7" cy="150.8" r="0.65" fill="#c4c4c8"/>
<circle cx="359.2" cy="145.9" r="0.65" fill="#c4c4c8"/>
<circle cx="359.4" cy="150.3" r="0.65" fill="#c4c4c8"/>
<circle cx="359.4" cy="151.2" r="0.65" fill="#c4c4c8"/>
<circle cx="355.5" cy="150.1" r="0.65" fill="#c4c4c8"/>
<circle cx="361.9" cy="147.6" r="0.65" fill="#c4c4c8"/>
<circle cx="358.6" cy="147.5" r="0.65" fill="#c4c4c8"/>
<circle cx="356.6" cy="147.4" r="0.65" fill="#c4c4c8"/>
<circle cx="359.9" cy="135.1" r="0.65" fill="#c4c4c8"/>
<circle cx="361.1" cy="143.3" r="0.65" fill="#c4c4c8"/>
<circle cx="353.2" cy="142.0" r="0.65" fill="#c4c4c8"/>
<circle cx="363.1" cy="142.4" r="0.65" fill="#c4c4c8"/>
<circle cx="355.5" cy="148.0" r="0.65" fill="#c4c4c8"/>
<circle cx="360.6" cy="144.7" r="0.65" fill="#c4c4c8"/>
<circle cx="359.6" cy="147.0" r="0.65" fill="#c4c4c8"/>
<circle cx="361.1" cy="138.6" r="0.65" fill="#c4c4c8"/>
<circle cx="360.6" cy="151.0" r="0.65" fill="#c4c4c8"/>
<circle cx="361.7" cy="137.1" r="0.65" fill="#c4c4c8"/>
<circle cx="356.8" cy="142.5" r="0.65" fill="#c4c4c8"/>
<circle cx="361.0" cy="149.9" r="0.65" fill="#c4c4c8"/>
<circle cx="361.9" cy="148.7" r="0.65" fill="#c4c4c8"/>
<circle cx="361.5" cy="146.1" r="0.65" fill="#c4c4c8"/>
<circle cx="366.0" cy="149.4" r="0.65" fill="#c4c4c8"/>
<circle cx="359.0" cy="140.7" r="0.65" fill="#c4c4c8"/>
<circle cx="366.2" cy="150.4" r="0.65" fill="#c4c4c8"/>
<circle cx="361.4" cy="148.3" r="0.65" fill="#c4c4c8"/>
<circle cx="359.4" cy="142.9" r="0.65" fill="#c4c4c8"/>
<circle cx="359.9" cy="141.3" r="0.65" fill="#c4c4c8"/>
<circle cx="362.1" cy="148.1" r="0.65" fill="#c4c4c8"/>
<circle cx="359.3" cy="144.5" r="0.65" fill="#c4c4c8"/>
<circle cx="360.6" cy="143.9" r="0.65" fill="#c4c4c8"/>
<circle cx="359.2" cy="149.4" r="0.65" fill="#c4c4c8"/>
<circle cx="360.9" cy="149.1" r="0.65" fill="#c4c4c8"/>
<circle cx="357.9" cy="142.2" r="0.65" fill="#c4c4c8"/>
<circle cx="354.8" cy="151.2" r="0.65" fill="#c4c4c8"/>
<circle cx="353.8" cy="147.5" r="0.65" fill="#c4c4c8"/>
<circle cx="360.7" cy="145.4" r="0.65" fill="#c4c4c8"/>
<circle cx="359.0" cy="146.4" r="0.65" fill="#c4c4c8"/>
<circle cx="355.2" cy="149.2" r="0.65" fill="#c4c4c8"/>
<circle cx="360.8" cy="135.7" r="0.65" fill="#c4c4c8"/>
<circle cx="357.3" cy="141.9" r="0.65" fill="#c4c4c8"/>
<circle cx="354.0" cy="149.6" r="0.65" fill="#c4c4c8"/>
<circle cx="361.6" cy="144.6" r="0.65" fill="#c4c4c8"/>
<circle cx="359.6" cy="135.1" r="0.65" fill="#c4c4c8"/>
<circle cx="354.7" cy="145.8" r="0.65" fill="#c4c4c8"/>
<circle cx="357.5" cy="135.7" r="0.65" fill="#c4c4c8"/>
<circle cx="355.6" cy="145.9" r="0.65" fill="#c4c4c8"/>
<circle cx="359.7" cy="150.9" r="0.65" fill="#c4c4c8"/>
<circle cx="361.0" cy="145.8" r="0.65" fill="#c4c4c8"/>
<circle cx="362.1" cy="138.4" r="0.65" fill="#c4c4c8"/>
<circle cx="358.3" cy="140.0" r="0.65" fill="#c4c4c8"/>
<circle cx="356.8" cy="142.2" r="0.65" fill="#c4c4c8"/>
<circle cx="359.0" cy="150.5" r="0.65" fill="#c4c4c8"/>
<circle cx="355.0" cy="147.0" r="0.65" fill="#c4c4c8"/>
<circle cx="359.4" cy="140.7" r="0.65" fill="#c4c4c8"/>
<circle cx="358.2" cy="149.5" r="0.65" fill="#c4c4c8"/>
<circle cx="356.9" cy="150.7" r="0.65" fill="#c4c4c8"/>
<circle cx="360.1" cy="145.2" r="0.65" fill="#c4c4c8"/>
<circle cx="357.1" cy="150.5" r="0.65" fill="#c4c4c8"/>
<circle cx="351.6" cy="149.7" r="0.65" fill="#c4c4c8"/>
<circle cx="359.4" cy="142.9" r="0.65" fill="#c4c4c8"/>
<circle cx="360.0" cy="138.4" r="0.65" fill="#c4c4c8"/>
<circle cx="355.2" cy="149.9" r="0.65" fill="#c4c4c8"/>
<circle cx="358.2" cy="149.1" r="0.65" fill="#c4c4c8"/>
<circle cx="360.7" cy="147.3" r="0.65" fill="#c4c4c8"/>
<circle cx="356.6" cy="150.9" r="0.65" fill="#c4c4c8"/>
<circle cx="358.8" cy="150.0" r="0.65" fill="#c4c4c8"/>
<circle cx="360.0" cy="145.0" r="0.65" fill="#c4c4c8"/>
<circle cx="355.8" cy="145.1" r="0.65" fill="#c4c4c8"/>
<circle cx="357.1" cy="148.0" r="0.65" fill="#c4c4c8"/>
<circle cx="359.1" cy="141.7" r="0.65" fill="#c4c4c8"/>
<circle cx="359.4" cy="147.0" r="0.65" fill="#c4c4c8"/>
<circle cx="358.1" cy="146.8" r="0.65" fill="#c4c4c8"/>
<circle cx="359.3" cy="131.4" r="0.65" fill="#c4c4c8"/>
<circle cx="359.7" cy="141.8" r="0.65" fill="#c4c4c8"/>
<circle cx="353.8" cy="141.7" r="0.65" fill="#c4c4c8"/>
<circle cx="359.9" cy="144.8" r="0.65" fill="#c4c4c8"/>
<circle cx="365.2" cy="146.1" r="0.65" fill="#c4c4c8"/>
<circle cx="362.5" cy="148.5" r="0.65" fill="#c4c4c8"/>
<circle cx="361.6" cy="144.7" r="0.65" fill="#c4c4c8"/>
<circle cx="358.8" cy="146.9" r="0.65" fill="#c4c4c8"/>
<circle cx="356.4" cy="146.9" r="0.65" fill="#c4c4c8"/>
<circle cx="357.1" cy="141.2" r="0.65" fill="#c4c4c8"/>
<circle cx="364.8" cy="149.1" r="0.65" fill="#c4c4c8"/>
<circle cx="359.1" cy="149.3" r="0.65" fill="#c4c4c8"/>
<circle cx="359.5" cy="141.3" r="0.65" fill="#c4c4c8"/>
<circle cx="359.9" cy="144.3" r="0.65" fill="#c4c4c8"/>
<circle cx="361.0" cy="146.3" r="0.65" fill="#c4c4c8"/>
<circle cx="363.6" cy="144.6" r="0.65" fill="#c4c4c8"/>
<circle cx="359.7" cy="137.0" r="0.65" fill="#c4c4c8"/>
<circle cx="357.9" cy="148.9" r="0.65" fill="#c4c4c8"/>
<circle cx="358.0" cy="139.2" r="0.65" fill="#c4c4c8"/>
<circle cx="358.0" cy="145.5" r="0.65" fill="#c4c4c8"/>
<circle cx="361.1" cy="145.3" r="0.65" fill="#c4c4c8"/>
<circle cx="359.5" cy="139.9" r="0.65" fill="#c4c4c8"/>
<circle cx="361.3" cy="145.4" r="0.65" fill="#c4c4c8"/>
<circle cx="359.8" cy="150.8" r="0.65" fill="#c4c4c8"/>
<circle cx="362.1" cy="138.3" r="0.65" fill="#c4c4c8"/>
<circle cx="365.1" cy="146.8" r="0.65" fill="#c4c4c8"/>
<circle cx="361.1" cy="151.2" r="0.65" fill="#c4c4c8"/>
<circle cx="359.1" cy="145.7" r="0.65" fill="#c4c4c8"/>
<circle cx="363.4" cy="136.3" r="0.65" fill="#c4c4c8"/>
<circle cx="356.8" cy="139.6" r="0.65" fill="#c4c4c8"/>
<circle cx="356.0" cy="138.4" r="0.65" fill="#c4c4c8"/>
<circle cx="358.4" cy="141.2" r="0.65" fill="#c4c4c8"/>
<circle cx="358.1" cy="150.7" r="0.65" fill="#c4c4c8"/>
<circle cx="356.0" cy="150.2" r="0.65" fill="#c4c4c8"/>
<circle cx="354.9" cy="151.0" r="0.65" fill="#c4c4c8"/>
<circle cx="359.8" cy="150.6" r="0.65" fill="#c4c4c8"/>
<circle cx="358.5" cy="147.2" r="0.65" fill="#c4c4c8"/>
<circle cx="359.7" cy="143.5" r="0.65" fill="#c4c4c8"/>
<circle cx="363.2" cy="147.1" r="0.65" fill="#c4c4c8"/>
<circle cx="359.0" cy="144.7" r="0.65" fill="#c4c4c8"/>
<circle cx="357.3" cy="147.2" r="0.65" fill="#c4c4c8"/>
<circle cx="358.5" cy="143.2" r="0.65" fill="#c4c4c8"/>
<circle cx="360.5" cy="148.7" r="0.65" fill="#c4c4c8"/>
<circle cx="364.6" cy="146.4" r="0.65" fill="#c4c4c8"/>
<circle cx="359.3" cy="145.2" r="0.65" fill="#c4c4c8"/>
<circle cx="357.0" cy="127.4" r="0.65" fill="#c4c4c8"/>
<circle cx="359.6" cy="146.8" r="0.65" fill="#c4c4c8"/>
<circle cx="360.1" cy="149.9" r="0.65" fill="#c4c4c8"/>
<circle cx="360.0" cy="149.2" r="0.65" fill="#c4c4c8"/>
<circle cx="361.1" cy="150.8" r="0.65" fill="#c4c4c8"/>
<circle cx="357.9" cy="135.1" r="0.65" fill="#c4c4c8"/>
<circle cx="356.0" cy="151.2" r="0.65" fill="#c4c4c8"/>
<circle cx="360.9" cy="142.3" r="0.65" fill="#c4c4c8"/>
<circle cx="360.8" cy="145.7" r="0.65" fill="#c4c4c8"/>
<circle cx="360.0" cy="144.9" r="0.65" fill="#c4c4c8"/>
<circle cx="358.9" cy="146.9" r="0.65" fill="#c4c4c8"/>
<circle cx="359.5" cy="139.2" r="0.65" fill="#c4c4c8"/>
<circle cx="357.7" cy="147.3" r="0.65" fill="#c4c4c8"/>
<circle cx="361.1" cy="150.4" r="0.65" fill="#c4c4c8"/>
<circle cx="360.9" cy="143.7" r="0.65" fill="#c4c4c8"/>
<circle cx="358.6" cy="135.4" r="0.65" fill="#c4c4c8"/>
<circle cx="358.6" cy="150.0" r="0.65" fill="#c4c4c8"/>
<circle cx="360.3" cy="138.1" r="0.65" fill="#c4c4c8"/>
<circle cx="357.6" cy="143.6" r="0.65" fill="#c4c4c8"/>
<circle cx="358.9" cy="151.1" r="0.65" fill="#c4c4c8"/>
<circle cx="362.7" cy="136.1" r="0.65" fill="#c4c4c8"/>
<circle cx="355.1" cy="143.6" r="0.65" fill="#c4c4c8"/>
<circle cx="358.9" cy="144.9" r="0.65" fill="#c4c4c8"/>
<circle cx="360.1" cy="147.4" r="0.65" fill="#c4c4c8"/>
<circle cx="359.1" cy="138.5" r="0.65" fill="#c4c4c8"/>
<circle cx="358.3" cy="138.5" r="0.65" fill="#c4c4c8"/>
<circle cx="356.1" cy="142.5" r="0.65" fill="#c4c4c8"/>
<circle cx="360.2" cy="140.8" r="0.65" fill="#c4c4c8"/>
<circle cx="360.6" cy="136.8" r="0.65" fill="#c4c4c8"/>
<circle cx="365.1" cy="149.1" r="0.65" fill="#c4c4c8"/>
<circle cx="357.4" cy="146.8" r="0.65" fill="#c4c4c8"/>
<circle cx="360.6" cy="146.7" r="0.65" fill="#c4c4c8"/>
<circle cx="356.6" cy="142.6" r="0.65" fill="#c4c4c8"/>
<circle cx="359.7" cy="148.7" r="0.65" fill="#c4c4c8"/>
<circle cx="359.0" cy="140.1" r="0.65" fill="#c4c4c8"/>
<circle cx="360.4" cy="146.6" r="0.65" fill="#c4c4c8"/>
<circle cx="358.8" cy="150.2" r="0.65" fill="#c4c4c8"/>
<circle cx="361.9" cy="148.2" r="0.65" fill="#c4c4c8"/>
<circle cx="358.7" cy="139.4" r="0.65" fill="#c4c4c8"/>
<circle cx="357.4" cy="144.0" r="0.65" fill="#c4c4c8"/>
<circle cx="361.1" cy="150.6" r="0.65" fill="#c4c4c8"/>
<circle cx="358.7" cy="138.3" r="0.65" fill="#c4c4c8"/>
<circle cx="359.5" cy="150.6" r="0.65" fill="#c4c4c8"/>
<circle cx="359.6" cy="138.5" r="0.65" fill="#c4c4c8"/>
<circle cx="360.2" cy="145.5" r="0.65" fill="#c4c4c8"/>
<circle cx="354.8" cy="141.6" r="0.65" fill="#c4c4c8"/>
<circle cx="359.7" cy="150.9" r="0.65" fill="#c4c4c8"/>
<circle cx="361.5" cy="146.5" r="0.65" fill="#c4c4c8"/>
<circle cx="357.4" cy="148.9" r="0.65" fill="#c4c4c8"/>
<circle cx="355.0" cy="147.1" r="0.65" fill="#c4c4c8"/>
<circle cx="359.2" cy="145.4" r="0.65" fill="#c4c4c8"/>
<circle cx="358.9" cy="144.0" r="0.65" fill="#c4c4c8"/>
<circle cx="357.3" cy="148.6" r="0.65" fill="#c4c4c8"/>
<circle cx="363.5" cy="148.6" r="0.65" fill="#c4c4c8"/>
<circle cx="365.2" cy="145.4" r="0.65" fill="#c4c4c8"/>
<circle cx="359.3" cy="145.7" r="0.65" fill="#c4c4c8"/>
<circle cx="361.8" cy="149.7" r="0.65" fill="#c4c4c8"/>
<circle cx="354.6" cy="140.7" r="0.65" fill="#c4c4c8"/>
<circle cx="361.2" cy="146.0" r="0.65" fill="#c4c4c8"/>
<circle cx="365.9" cy="145.9" r="0.65" fill="#c4c4c8"/>
<circle cx="359.7" cy="149.5" r="0.65" fill="#c4c4c8"/>
<circle cx="360.2" cy="143.3" r="0.65" fill="#c4c4c8"/>
<circle cx="357.0" cy="137.1" r="0.65" fill="#c4c4c8"/>
<circle cx="350.0" cy="148.0" r="0.65" fill="#c4c4c8"/>
<circle cx="358.4" cy="144.3" r="0.65" fill="#c4c4c8"/>
<circle cx="364.6" cy="143.3" r="0.65" fill="#c4c4c8"/>
<circle cx="358.2" cy="151.1" r="0.65" fill="#c4c4c8"/>
<circle cx="357.0" cy="147.0" r="0.65" fill="#c4c4c8"/>
<circle cx="360.8" cy="145.8" r="0.65" fill="#c4c4c8"/>
<circle cx="359.1" cy="150.9" r="0.65" fill="#c4c4c8"/>
<circle cx="361.5" cy="149.7" r="0.65" fill="#c4c4c8"/>
<circle cx="358.8" cy="147.0" r="0.65" fill="#c4c4c8"/>
<circle cx="358.8" cy="145.5" r="0.65" fill="#c4c4c8"/>
<circle cx="362.8" cy="141.4" r="0.65" fill="#c4c4c8"/>
<circle cx="356.6" cy="147.2" r="0.65" fill="#c4c4c8"/>
<circle cx="360.2" cy="142.0" r="0.65" fill="#c4c4c8"/>
<circle cx="363.1" cy="137.9" r="0.65" fill="#c4c4c8"/>
<circle cx="361.5" cy="148.4" r="0.65" fill="#c4c4c8"/>
<circle cx="358.6" cy="149.5" r="0.65" fill="#c4c4c8"/>
<circle cx="361.7" cy="138.0" r="0.65" fill="#c4c4c8"/>
<circle cx="358.2" cy="150.9" r="0.65" fill="#c4c4c8"/>
<circle cx="359.3" cy="148.2" r="0.65" fill="#c4c4c8"/>
<circle cx="358.3" cy="145.5" r="0.65" fill="#c4c4c8"/>
<circle cx="353.0" cy="150.9" r="0.65" fill="#c4c4c8"/>
<circle cx="360.9" cy="147.6" r="0.65" fill="#c4c4c8"/>
<circle cx="358.7" cy="139.8" r="0.65" fill="#c4c4c8"/>
<circle cx="363.4" cy="150.2" r="0.65" fill="#c4c4c8"/>
<circle cx="361.0" cy="148.4" r="0.65" fill="#c4c4c8"/>
<circle cx="359.7" cy="136.9" r="0.65" fill="#c4c4c8"/>
<circle cx="357.8" cy="140.8" r="0.65" fill="#c4c4c8"/>
<circle cx="358.8" cy="149.4" r="0.65" fill="#c4c4c8"/>
<circle cx="362.1" cy="150.2" r="0.65" fill="#c4c4c8"/>
<circle cx="358.7" cy="130.9" r="0.65" fill="#c4c4c8"/>
<circle cx="360.5" cy="146.3" r="0.65" fill="#c4c4c8"/>
<circle cx="360.6" cy="142.2" r="0.65" fill="#c4c4c8"/>
<circle cx="358.5" cy="146.3" r="0.65" fill="#c4c4c8"/>
<circle cx="355.1" cy="146.7" r="0.65" fill="#c4c4c8"/>
<circle cx="355.4" cy="144.7" r="0.65" fill="#c4c4c8"/>
<circle cx="357.8" cy="145.3" r="0.65" fill="#c4c4c8"/>
<circle cx="361.4" cy="147.8" r="0.65" fill="#c4c4c8"/>
<circle cx="357.9" cy="150.5" r="0.65" fill="#c4c4c8"/>
<circle cx="363.3" cy="146.6" r="0.65" fill="#c4c4c8"/>
<circle cx="360.0" cy="151.1" r="0.65" fill="#c4c4c8"/>
<circle cx="360.1" cy="140.7" r="0.65" fill="#c4c4c8"/>
<circle cx="365.2" cy="140.3" r="0.65" fill="#c4c4c8"/>
<circle cx="356.1" cy="132.4" r="0.65" fill="#c4c4c8"/>
<circle cx="360.1" cy="150.9" r="0.65" fill="#c4c4c8"/>
<circle cx="361.0" cy="143.0" r="0.65" fill="#c4c4c8"/>
<circle cx="356.2" cy="148.9" r="0.65" fill="#c4c4c8"/>
<circle cx="361.8" cy="150.3" r="0.65" fill="#c4c4c8"/>
<circle cx="357.0" cy="141.9" r="0.65" fill="#c4c4c8"/>
<circle cx="353.5" cy="151.0" r="0.65" fill="#c4c4c8"/>
<circle cx="357.9" cy="149.0" r="0.65" fill="#c4c4c8"/>
<circle cx="357.3" cy="147.4" r="0.65" fill="#c4c4c8"/>
<circle cx="358.3" cy="143.7" r="0.65" fill="#c4c4c8"/>
<circle cx="357.1" cy="150.8" r="0.65" fill="#c4c4c8"/>
<circle cx="361.0" cy="151.1" r="0.65" fill="#c4c4c8"/>
<circle cx="363.4" cy="141.1" r="0.65" fill="#c4c4c8"/>
<circle cx="358.2" cy="144.5" r="0.65" fill="#c4c4c8"/>
<circle cx="363.4" cy="130.1" r="0.65" fill="#c4c4c8"/>
<circle cx="359.2" cy="145.0" r="0.65" fill="#c4c4c8"/>
<circle cx="355.6" cy="146.8" r="0.65" fill="#c4c4c8"/>
<circle cx="359.1" cy="147.3" r="0.65" fill="#c4c4c8"/>
<circle cx="360.3" cy="135.7" r="0.65" fill="#c4c4c8"/>
<circle cx="355.1" cy="141.0" r="0.65" fill="#c4c4c8"/>
<circle cx="359.8" cy="144.3" r="0.65" fill="#c4c4c8"/>
<circle cx="360.3" cy="147.2" r="0.65" fill="#c4c4c8"/>
<circle cx="359.0" cy="140.1" r="0.65" fill="#c4c4c8"/>
<circle cx="358.3" cy="143.8" r="0.65" fill="#c4c4c8"/>
<circle cx="357.2" cy="145.0" r="0.65" fill="#c4c4c8"/>
<circle cx="363.8" cy="150.3" r="0.65" fill="#c4c4c8"/>
<circle cx="358.7" cy="147.4" r="0.65" fill="#c4c4c8"/>
<circle cx="357.6" cy="141.5" r="0.65" fill="#c4c4c8"/>
<circle cx="361.6" cy="149.6" r="0.65" fill="#c4c4c8"/>
<circle cx="360.5" cy="147.6" r="0.65" fill="#c4c4c8"/>
<circle cx="362.7" cy="150.8" r="0.65" fill="#c4c4c8"/>
<circle cx="357.6" cy="147.9" r="0.65" fill="#c4c4c8"/>
<circle cx="359.5" cy="143.7" r="0.65" fill="#c4c4c8"/>
<circle cx="357.5" cy="148.8" r="0.65" fill="#c4c4c8"/>
<circle cx="360.7" cy="149.0" r="0.65" fill="#c4c4c8"/>
<circle cx="355.9" cy="148.2" r="0.65" fill="#c4c4c8"/>
<circle cx="359.6" cy="147.6" r="0.65" fill="#c4c4c8"/>
<circle cx="361.2" cy="142.7" r="0.65" fill="#c4c4c8"/>
<circle cx="358.2" cy="148.8" r="0.65" fill="#c4c4c8"/>
<circle cx="362.6" cy="144.4" r="0.65" fill="#c4c4c8"/>
<circle cx="360.3" cy="145.3" r="0.65" fill="#c4c4c8"/>
<circle cx="365.0" cy="143.8" r="0.65" fill="#c4c4c8"/>
<circle cx="362.3" cy="147.0" r="0.65" fill="#c4c4c8"/>
<circle cx="361.3" cy="145.7" r="0.65" fill="#c4c4c8"/>
<circle cx="355.1" cy="132.3" r="0.65" fill="#c4c4c8"/>
<circle cx="360.4" cy="147.5" r="0.65" fill="#c4c4c8"/>
<circle cx="357.1" cy="150.4" r="0.65" fill="#c4c4c8"/>
<circle cx="360.0" cy="132.9" r="0.65" fill="#c4c4c8"/>
<circle cx="361.5" cy="137.2" r="0.65" fill="#c4c4c8"/>
<circle cx="362.1" cy="136.6" r="0.65" fill="#c4c4c8"/>
<circle cx="359.6" cy="146.3" r="0.65" fill="#c4c4c8"/>
<circle cx="359.7" cy="140.5" r="0.65" fill="#c4c4c8"/>
<circle cx="355.7" cy="139.4" r="0.65" fill="#c4c4c8"/>
<circle cx="361.2" cy="141.1" r="0.65" fill="#c4c4c8"/>
<circle cx="361.4" cy="144.3" r="0.65" fill="#c4c4c8"/>
<circle cx="360.8" cy="147.0" r="0.65" fill="#c4c4c8"/>
<circle cx="359.3" cy="132.0" r="0.65" fill="#c4c4c8"/>
<circle cx="361.1" cy="143.5" r="0.65" fill="#c4c4c8"/>
<circle cx="353.3" cy="143.7" r="0.65" fill="#c4c4c8"/>
<circle cx="360.4" cy="149.8" r="0.65" fill="#c4c4c8"/>
<circle cx="358.3" cy="129.5" r="0.65" fill="#c4c4c8"/>
<circle cx="359.2" cy="148.4" r="0.65" fill="#c4c4c8"/>
<circle cx="358.2" cy="143.7" r="0.65" fill="#c4c4c8"/>
<circle cx="357.6" cy="141.4" r="0.65" fill="#c4c4c8"/>
<circle cx="357.6" cy="148.9" r="0.65" fill="#c4c4c8"/>
<circle cx="357.1" cy="149.9" r="0.65" fill="#c4c4c8"/>
<circle cx="362.0" cy="137.6" r="0.65" fill="#c4c4c8"/>
<circle cx="357.6" cy="148.6" r="0.65" fill="#c4c4c8"/>
<circle cx="361.7" cy="149.5" r="0.65" fill="#c4c4c8"/>
<circle cx="359.1" cy="142.9" r="0.65" fill="#c4c4c8"/>
<circle cx="360.5" cy="146.6" r="0.65" fill="#c4c4c8"/>
<circle cx="353.5" cy="148.3" r="0.65" fill="#c4c4c8"/>
<circle cx="360.2" cy="140.6" r="0.65" fill="#c4c4c8"/>
<circle cx="358.2" cy="151.1" r="0.65" fill="#c4c4c8"/>
<circle cx="357.9" cy="149.0" r="0.65" fill="#c4c4c8"/>
<circle cx="357.6" cy="142.5" r="0.65" fill="#c4c4c8"/>
<circle cx="357.6" cy="146.1" r="0.65" fill="#c4c4c8"/>
<circle cx="360.9" cy="141.4" r="0.65" fill="#c4c4c8"/>
<circle cx="361.0" cy="140.1" r="0.65" fill="#c4c4c8"/>
<circle cx="360.2" cy="142.6" r="0.65" fill="#c4c4c8"/>
<circle cx="360.0" cy="139.5" r="0.65" fill="#c4c4c8"/>
<circle cx="359.4" cy="145.0" r="0.65" fill="#c4c4c8"/>
<circle cx="354.2" cy="149.9" r="0.65" fill="#c4c4c8"/>
<circle cx="359.6" cy="146.0" r="0.65" fill="#c4c4c8"/>
<circle cx="359.3" cy="147.2" r="0.65" fill="#c4c4c8"/>
<circle cx="361.2" cy="145.0" r="0.65" fill="#c4c4c8"/>
<circle cx="360.8" cy="143.5" r="0.65" fill="#c4c4c8"/>
<circle cx="359.0" cy="148.8" r="0.65" fill="#c4c4c8"/>
<circle cx="358.2" cy="148.9" r="0.65" fill="#c4c4c8"/>
<circle cx="354.3" cy="149.7" r="0.65" fill="#c4c4c8"/>
<circle cx="359.0" cy="148.4" r="0.65" fill="#c4c4c8"/>
<circle cx="359.3" cy="142.9" r="0.65" fill="#c4c4c8"/>
<circle cx="358.7" cy="146.8" r="0.65" fill="#c4c4c8"/>
<circle cx="354.7" cy="133.5" r="0.65" fill="#c4c4c8"/>
<circle cx="354.1" cy="149.4" r="0.65" fill="#c4c4c8"/>
<circle cx="365.7" cy="142.9" r="0.65" fill="#c4c4c8"/>
<circle cx="360.2" cy="129.9" r="0.65" fill="#c4c4c8"/>
<circle cx="358.4" cy="146.8" r="0.65" fill="#c4c4c8"/>
<circle cx="353.4" cy="146.5" r="0.65" fill="#c4c4c8"/>
<circle cx="360.2" cy="144.0" r="0.65" fill="#c4c4c8"/>
<circle cx="357.3" cy="151.0" r="0.65" fill="#c4c4c8"/>
<circle cx="358.0" cy="145.8" r="0.65" fill="#c4c4c8"/>
<circle cx="357.6" cy="149.3" r="0.65" fill="#c4c4c8"/>
<circle cx="359.8" cy="132.1" r="0.65" fill="#c4c4c8"/>
<circle cx="361.1" cy="149.5" r="0.65" fill="#c4c4c8"/>
<circle cx="359.2" cy="143.8" r="0.65" fill="#c4c4c8"/>
<circle cx="359.6" cy="146.0" r="0.65" fill="#c4c4c8"/>
<circle cx="364.1" cy="140.6" r="0.65" fill="#c4c4c8"/>
<circle cx="354.6" cy="143.5" r="0.65" fill="#c4c4c8"/>
<circle cx="363.1" cy="143.9" r="0.65" fill="#c4c4c8"/>
<circle cx="361.3" cy="143.4" r="0.65" fill="#c4c4c8"/>
<circle cx="357.4" cy="145.9" r="0.65" fill="#c4c4c8"/>
<circle cx="376.1" cy="148.4" r="0.65" fill="#c4c4c8"/>
<circle cx="371.7" cy="150.0" r="0.65" fill="#c4c4c8"/>
<circle cx="364.6" cy="150.8" r="0.65" fill="#c4c4c8"/>
<circle cx="372.4" cy="147.5" r="0.65" fill="#c4c4c8"/>
<circle cx="375.0" cy="146.6" r="0.65" fill="#c4c4c8"/>
<circle cx="377.9" cy="148.6" r="0.65" fill="#c4c4c8"/>
<circle cx="368.4" cy="149.5" r="0.65" fill="#c4c4c8"/>
<circle cx="369.6" cy="145.9" r="0.65" fill="#c4c4c8"/>
<circle cx="374.2" cy="144.3" r="0.65" fill="#c4c4c8"/>
<circle cx="375.3" cy="146.5" r="0.65" fill="#c4c4c8"/>
<circle cx="372.6" cy="150.6" r="0.65" fill="#c4c4c8"/>
<circle cx="371.8" cy="149.0" r="0.65" fill="#c4c4c8"/>
<circle cx="367.7" cy="142.8" r="0.65" fill="#c4c4c8"/>
<circle cx="363.5" cy="145.6" r="0.65" fill="#c4c4c8"/>
<circle cx="372.2" cy="147.7" r="0.65" fill="#c4c4c8"/>
<circle cx="370.7" cy="150.1" r="0.65" fill="#c4c4c8"/>
<circle cx="365.0" cy="146.3" r="0.65" fill="#c4c4c8"/>
<circle cx="372.8" cy="143.7" r="0.65" fill="#c4c4c8"/>
<circle cx="363.0" cy="147.3" r="0.65" fill="#c4c4c8"/>
<circle cx="364.6" cy="147.3" r="0.65" fill="#c4c4c8"/>
<circle cx="366.4" cy="148.6" r="0.65" fill="#c4c4c8"/>
<circle cx="371.8" cy="146.1" r="0.65" fill="#c4c4c8"/>
<circle cx="372.4" cy="148.0" r="0.65" fill="#c4c4c8"/>
<circle cx="365.0" cy="150.3" r="0.65" fill="#c4c4c8"/>
<circle cx="366.7" cy="145.6" r="0.65" fill="#c4c4c8"/>
<circle cx="364.4" cy="148.9" r="0.65" fill="#c4c4c8"/>
<circle cx="376.1" cy="149.6" r="0.65" fill="#c4c4c8"/>
<circle cx="369.0" cy="146.6" r="0.65" fill="#c4c4c8"/>
<circle cx="363.2" cy="148.9" r="0.65" fill="#c4c4c8"/>
<circle cx="371.4" cy="147.2" r="0.65" fill="#c4c4c8"/>
<circle cx="372.7" cy="147.8" r="0.65" fill="#c4c4c8"/>
<circle cx="377.1" cy="149.3" r="0.65" fill="#c4c4c8"/>
<circle cx="366.7" cy="150.1" r="0.65" fill="#c4c4c8"/>
<circle cx="363.7" cy="148.3" r="0.65" fill="#c4c4c8"/>
<circle cx="369.1" cy="146.4" r="0.65" fill="#c4c4c8"/>
<circle cx="363.9" cy="149.5" r="0.65" fill="#c4c4c8"/>
<circle cx="363.2" cy="148.4" r="0.65" fill="#c4c4c8"/>
<circle cx="377.1" cy="145.5" r="0.65" fill="#c4c4c8"/>
<circle cx="366.0" cy="148.7" r="0.65" fill="#c4c4c8"/>
<circle cx="370.6" cy="148.9" r="0.65" fill="#c4c4c8"/>
<circle cx="375.2" cy="145.8" r="0.65" fill="#c4c4c8"/>
<circle cx="367.6" cy="146.9" r="0.65" fill="#c4c4c8"/>
<circle cx="363.7" cy="150.0" r="0.65" fill="#c4c4c8"/>
<circle cx="374.7" cy="149.3" r="0.65" fill="#c4c4c8"/>
<circle cx="363.1" cy="149.8" r="0.65" fill="#c4c4c8"/>
<circle cx="374.2" cy="147.9" r="0.65" fill="#c4c4c8"/>
<circle cx="374.1" cy="147.9" r="0.65" fill="#c4c4c8"/>
<circle cx="366.4" cy="145.1" r="0.65" fill="#c4c4c8"/>
<circle cx="366.5" cy="144.1" r="0.65" fill="#c4c4c8"/>
<circle cx="368.0" cy="149.4" r="0.65" fill="#c4c4c8"/>
<circle cx="373.4" cy="149.8" r="0.65" fill="#c4c4c8"/>
<circle cx="373.7" cy="146.6" r="0.65" fill="#c4c4c8"/>
<circle cx="371.3" cy="147.8" r="0.65" fill="#c4c4c8"/>
<circle cx="374.8" cy="148.3" r="0.65" fill="#c4c4c8"/>
<circle cx="367.0" cy="148.9" r="0.65" fill="#c4c4c8"/>
<circle cx="377.5" cy="146.2" r="0.65" fill="#c4c4c8"/>
<circle cx="376.2" cy="143.5" r="0.65" fill="#c4c4c8"/>
<circle cx="366.9" cy="146.4" r="0.65" fill="#c4c4c8"/>
<circle cx="374.2" cy="150.3" r="0.65" fill="#c4c4c8"/>
<circle cx="374.2" cy="147.1" r="0.65" fill="#c4c4c8"/>
<circle cx="344.9" cy="146.8" r="0.65" fill="#c4c4c8"/>
<circle cx="331.1" cy="149.7" r="0.65" fill="#c4c4c8"/>
<circle cx="339.6" cy="148.7" r="0.65" fill="#c4c4c8"/>
<circle cx="340.3" cy="150.4" r="0.65" fill="#c4c4c8"/>
<circle cx="336.1" cy="149.3" r="0.65" fill="#c4c4c8"/>
<circle cx="341.0" cy="149.4" r="0.65" fill="#c4c4c8"/>
<circle cx="335.4" cy="148.8" r="0.65" fill="#c4c4c8"/>
<circle cx="338.3" cy="146.6" r="0.65" fill="#c4c4c8"/>
<circle cx="330.6" cy="148.4" r="0.65" fill="#c4c4c8"/>
<circle cx="327.7" cy="149.8" r="0.65" fill="#c4c4c8"/>
<circle cx="329.1" cy="143.7" r="0.65" fill="#c4c4c8"/>
<circle cx="328.3" cy="149.9" r="0.65" fill="#c4c4c8"/>
<circle cx="333.4" cy="145.3" r="0.65" fill="#c4c4c8"/>
<circle cx="326.6" cy="144.0" r="0.65" fill="#c4c4c8"/>
<circle cx="340.9" cy="148.4" r="0.65" fill="#c4c4c8"/>
<circle cx="341.0" cy="148.9" r="0.65" fill="#c4c4c8"/>
<circle cx="327.4" cy="148.2" r="0.65" fill="#c4c4c8"/>
<circle cx="333.8" cy="149.2" r="0.65" fill="#c4c4c8"/>
<circle cx="343.6" cy="149.6" r="0.65" fill="#c4c4c8"/>
<circle cx="327.4" cy="149.5" r="0.65" fill="#c4c4c8"/>
<circle cx="345.7" cy="150.0" r="0.65" fill="#c4c4c8"/>
<circle cx="328.3" cy="145.9" r="0.65" fill="#c4c4c8"/>
<circle cx="328.4" cy="143.9" r="0.65" fill="#c4c4c8"/>
<circle cx="344.2" cy="149.2" r="0.65" fill="#c4c4c8"/>
<circle cx="339.6" cy="149.3" r="0.65" fill="#c4c4c8"/>
<circle cx="339.6" cy="146.5" r="0.65" fill="#c4c4c8"/>
<circle cx="328.1" cy="144.8" r="0.65" fill="#c4c4c8"/>
<circle cx="342.3" cy="145.9" r="0.65" fill="#c4c4c8"/>
<circle cx="332.9" cy="147.3" r="0.65" fill="#c4c4c8"/>
<circle cx="326.4" cy="146.3" r="0.65" fill="#c4c4c8"/>
<circle cx="332.1" cy="148.8" r="0.65" fill="#c4c4c8"/>
<circle cx="333.9" cy="146.7" r="0.65" fill="#c4c4c8"/>
<circle cx="346.7" cy="147.8" r="0.65" fill="#c4c4c8"/>
<circle cx="344.3" cy="148.3" r="0.65" fill="#c4c4c8"/>
<circle cx="326.7" cy="147.3" r="0.65" fill="#c4c4c8"/>
<circle cx="335.4" cy="149.0" r="0.65" fill="#c4c4c8"/>
<circle cx="333.5" cy="148.7" r="0.65" fill="#c4c4c8"/>
<circle cx="337.6" cy="146.0" r="0.65" fill="#c4c4c8"/>
<circle cx="344.5" cy="144.7" r="0.65" fill="#c4c4c8"/>
<circle cx="343.6" cy="145.6" r="0.65" fill="#c4c4c8"/>
<circle cx="326.0" cy="145.8" r="0.65" fill="#c4c4c8"/>
<circle cx="342.4" cy="150.4" r="0.65" fill="#c4c4c8"/>
<circle cx="326.1" cy="147.7" r="0.65" fill="#c4c4c8"/>
<circle cx="336.6" cy="149.1" r="0.65" fill="#c4c4c8"/>
<circle cx="330.0" cy="147.7" r="0.65" fill="#c4c4c8"/>
<circle cx="333.5" cy="149.3" r="0.65" fill="#c4c4c8"/>
<circle cx="331.6" cy="150.0" r="0.65" fill="#c4c4c8"/>
<circle cx="332.1" cy="145.9" r="0.65" fill="#c4c4c8"/>
<circle cx="341.0" cy="147.7" r="0.65" fill="#c4c4c8"/>
<circle cx="328.4" cy="148.4" r="0.65" fill="#c4c4c8"/>
<circle cx="327.7" cy="149.1" r="0.65" fill="#c4c4c8"/>
<circle cx="341.0" cy="149.1" r="0.65" fill="#c4c4c8"/>
<circle cx="339.5" cy="146.9" r="0.65" fill="#c4c4c8"/>
<circle cx="334.6" cy="147.2" r="0.65" fill="#c4c4c8"/>
<circle cx="345.1" cy="144.7" r="0.65" fill="#c4c4c8"/>
<circle cx="319.2" cy="135.7" r="0.65" fill="#c4c4c8"/>
<circle cx="324.6" cy="134.9" r="0.65" fill="#c4c4c8"/>
<circle cx="337.0" cy="137.7" r="0.65" fill="#c4c4c8"/>
<circle cx="339.3" cy="137.7" r="0.65" fill="#c4c4c8"/>
<circle cx="370.8" cy="137.2" r="0.65" fill="#c4c4c8"/>
<circle cx="376.2" cy="130.3" r="0.65" fill="#c4c4c8"/>
<circle cx="377.7" cy="135.0" r="0.65" fill="#c4c4c8"/>
<circle cx="382.3" cy="145.0" r="0.65" fill="#c4c4c8"/>
<circle cx="358.0" cy="124.5" r="0.65" fill="#c4c4c8"/>
<circle cx="361.0" cy="123.8" r="0.65" fill="#c4c4c8"/>
<line x1="302.5" y1="121.5" x2="394.6" y2="121.5" stroke="#909090" stroke-width="1.2" />
<circle cx="366.3" cy="52.1" r="1.0" fill="#111"/>
<circle cx="362" cy="71.3" r="1.0" fill="#111"/>
<circle cx="358.5" cy="81" r="1.0" fill="#111"/>
<circle cx="362.4" cy="83.4" r="1.0" fill="#111"/>
<circle cx="366.1" cy="81.8" r="1.0" fill="#111"/>
<circle cx="371" cy="82.9" r="1.0" fill="#111"/>
<circle cx="313.8" cy="84.0" r="1.0" fill="#111"/>
<circle cx="334.1" cy="93" r="1.0" fill="#111"/>
<circle cx="356.8" cy="89.3" r="1.0" fill="#111"/>
<circle cx="360.8" cy="88.5" r="1.0" fill="#111"/>
<circle cx="365" cy="91.9" r="1.0" fill="#111"/>
<circle cx="362.4" cy="94.6" r="1.0" fill="#111"/>
<circle cx="363.5" cy="102.4" r="1.0" fill="#111"/>
<circle cx="364.2" cy="104.6" r="1.0" fill="#111"/>
<circle cx="359.3" cy="108.1" r="1.0" fill="#111"/>
<circle cx="364.9" cy="108.6" r="1.0" fill="#111"/>
<circle cx="367.6" cy="112.2" r="1.0" fill="#111"/>
<circle cx="363.8" cy="110.4" r="1.0" fill="#111"/>
<circle cx="360.8" cy="112.4" r="1.0" fill="#111"/>
<circle cx="361.5" cy="116.5" r="1.0" fill="#111"/>
<circle cx="364.6" cy="116.5" r="1.0" fill="#111"/>
<circle cx="367.7" cy="116.5" r="1.0" fill="#111"/>
<circle cx="357.7" cy="119.6" r="1.0" fill="#111"/>
<circle cx="360" cy="120.4" r="1.0" fill="#111"/>
<circle cx="363" cy="119.9" r="1.0" fill="#111"/>
<circle cx="366.9" cy="119.9" r="1.0" fill="#111"/>
<circle cx="324.6" cy="113.4" r="1.0" fill="#111"/>
<circle cx="369.5" cy="121" r="1.0" fill="#111"/>
<circle cx="371.5" cy="120.8" r="1.0" fill="#111"/>
<circle cx="355.6" cy="120.8" r="1.0" fill="#111"/>
<circle cx="361.2" cy="41.5" r="1.0" fill="#8a1a5a"/>
<circle cx="361.0" cy="69.8" r="1.0" fill="#8a1a5a"/>
<circle cx="366.3" cy="84.9" r="1.0" fill="#8a1a5a"/>
<circle cx="360.6" cy="97.1" r="1.0" fill="#8a1a5a"/>
<circle cx="358.8" cy="105.7" r="1.0" fill="#8a1a5a"/>
<circle cx="360.3" cy="113.3" r="1.0" fill="#8a1a5a"/>
<circle cx="358.6" cy="117.2" r="1.0" fill="#8a1a5a"/>
<circle cx="358.3" cy="120.6" r="1.0" fill="#8a1a5a"/>
<circle cx="359.2" cy="121.4" r="1.0" fill="#8a1a5a"/>
<circle cx="375.8" cy="120.8" r="1.0" fill="#8a1a5a"/>
<circle cx="380.8" cy="121.5" r="1.0" fill="#8a1a5a"/>
<line x1="303.25" y1="34.7" x2="303.25" y2="164.0" stroke="#111" stroke-width="1.15" />
<line x1="302.7" y1="163.4" x2="394.6" y2="163.4" stroke="#111" stroke-width="1.15" />
<line x1="300.2" y1="36.97999999999999" x2="302.9" y2="36.97999999999999" stroke="#231f20" stroke-width="0.8" />
<text x="297.6" y="39.07999999999999" font-size="6.0" text-anchor="end" fill="#1a1a1a" stroke="#1a1a1a" stroke-width="0.05">12</text>
<line x1="300.2" y1="68.50999999999999" x2="302.9" y2="68.50999999999999" stroke="#231f20" stroke-width="0.8" />
<text x="297.6" y="70.60999999999999" font-size="6.0" text-anchor="end" fill="#1a1a1a" stroke="#1a1a1a" stroke-width="0.05">9</text>
<line x1="300.2" y1="100.03999999999999" x2="302.9" y2="100.03999999999999" stroke="#231f20" stroke-width="0.8" />
<text x="297.6" y="102.13999999999999" font-size="6.0" text-anchor="end" fill="#1a1a1a" stroke="#1a1a1a" stroke-width="0.05">6</text>
<line x1="300.2" y1="131.57" x2="302.9" y2="131.57" stroke="#231f20" stroke-width="0.8" />
<text x="297.6" y="133.67" font-size="6.0" text-anchor="end" fill="#1a1a1a" stroke="#1a1a1a" stroke-width="0.05">3</text>
<line x1="300.2" y1="163.1" x2="302.9" y2="163.1" stroke="#231f20" stroke-width="0.8" />
<text x="297.6" y="165.2" font-size="6.0" text-anchor="end" fill="#1a1a1a" stroke="#1a1a1a" stroke-width="0.05">0</text>
<line x1="307.4" y1="163.1" x2="307.4" y2="165.8" stroke="#231f20" stroke-width="0.8" />
<text x="307.4" y="174.0" font-size="6.0" text-anchor="middle" fill="#1a1a1a" stroke="#1a1a1a" stroke-width="0.05">-10</text>
<line x1="328.3" y1="163.1" x2="328.3" y2="165.8" stroke="#231f20" stroke-width="0.8" />
<text x="328.3" y="174.0" font-size="6.0" text-anchor="middle" fill="#1a1a1a" stroke="#1a1a1a" stroke-width="0.05">-5</text>
<line x1="349.2" y1="163.1" x2="349.2" y2="165.8" stroke="#231f20" stroke-width="0.8" />
<text x="349.2" y="174.0" font-size="6.0" text-anchor="middle" fill="#1a1a1a" stroke="#1a1a1a" stroke-width="0.05">0</text>
<line x1="370.09999999999997" y1="163.1" x2="370.09999999999997" y2="165.8" stroke="#231f20" stroke-width="0.8" />
<text x="370.09999999999997" y="174.0" font-size="6.0" text-anchor="middle" fill="#1a1a1a" stroke="#1a1a1a" stroke-width="0.05">5</text>
<line x1="391.0" y1="163.1" x2="391.0" y2="165.8" stroke="#231f20" stroke-width="0.8" />
<text x="391.0" y="174.0" font-size="6.0" text-anchor="middle" fill="#1a1a1a" stroke="#1a1a1a" stroke-width="0.05">10</text>
<text x="321.5" y="186.2" font-size="7.8" fill="#1a1a1a" textLength="54.8" lengthAdjust="spacingAndGlyphs">Log<tspan font-size="4.8" dy="1.5">2</tspan><tspan dy="-1.5"> (fold change)</tspan></text>
<text transform="translate(283.0,135.5) rotate(-90)" font-size="7.4" fill="#1a1a1a" textLength="73" lengthAdjust="spacingAndGlyphs">-log<tspan font-size="5.0" dy="1.5">10</tspan><tspan dy="-1.5"> (adjusted p-value)</tspan></text>
<text x="368.2" y="40.2" font-size="6.1" fill="#d4208c" stroke="#d4208c" stroke-width="0.05" font-style="italic" textLength="16.4" lengthAdjust="spacingAndGlyphs">ZAP70</text>
<line x1="362.5" y1="41.2" x2="367.5" y2="38.8" stroke="#d4208c" stroke-width="0.6" />
<text x="367.2" y="67.89999999999999" font-size="6.1" fill="#d4208c" stroke="#d4208c" stroke-width="0.05" font-style="italic" textLength="10" lengthAdjust="spacingAndGlyphs">LCK</text>
<line x1="362" y1="69.5" x2="366.5" y2="66.5" stroke="#d4208c" stroke-width="0.6" />
<text x="335.6" y="72.5" font-size="6.1" fill="#1a1a1a" stroke="#1a1a1a" stroke-width="0.05" font-style="italic" textLength="15.9" lengthAdjust="spacingAndGlyphs">FCRL3</text>
<line x1="353.8" y1="70.4" x2="358.5" y2="70.4" stroke="#1a1a1a" stroke-width="0.6" />
<path d="M358.9,70.4 l-1.3,-0.8 l0,1.6 Z" fill="#1a1a1a"/>
<text x="369.2" y="74.0" font-size="6.1" fill="#1a1a1a" stroke="#1a1a1a" stroke-width="0.05" font-style="italic" textLength="20.2" lengthAdjust="spacingAndGlyphs">FCGR2B</text>
<line x1="363.5" y1="71.6" x2="368.3" y2="71.9" stroke="#1a1a1a" stroke-width="0.6" />
<text x="374.0" y="86.89999999999999" font-size="6.1" fill="#d4208c" stroke="#d4208c" stroke-width="0.05" font-style="italic" textLength="10.2" lengthAdjust="spacingAndGlyphs">SIT1</text>
<line x1="367.5" y1="84.8" x2="373.2" y2="84.5" stroke="#d4208c" stroke-width="0.6" />
<text x="336.5" y="92.69999999999999" font-size="6.1" fill="#d4208c" stroke="#d4208c" stroke-width="0.05" font-style="italic" textLength="14.5" lengthAdjust="spacingAndGlyphs">CD3G</text>
<line x1="351.5" y1="91.5" x2="359.8" y2="96.6" stroke="#d4208c" stroke-width="0.6" />
<text x="333.4" y="104.0" font-size="6.1" fill="#d4208c" stroke="#d4208c" stroke-width="0.05" font-style="italic" textLength="16.3" lengthAdjust="spacingAndGlyphs">CD274</text>
<line x1="351.5" y1="101.9" x2="358.3" y2="107.0" stroke="#d4208c" stroke-width="0.6" />
<text x="334.6" y="110.19999999999999" font-size="6.1" fill="#1a1a1a" stroke="#1a1a1a" stroke-width="0.05" font-style="italic" textLength="12.6" lengthAdjust="spacingAndGlyphs">IGHD</text>
<line x1="348.2" y1="108.3" x2="357.7" y2="108.3" stroke="#1a1a1a" stroke-width="0.6" />
<text x="333.4" y="115.6" font-size="6.1" fill="#1a1a1a" stroke="#1a1a1a" stroke-width="0.05" font-style="italic" textLength="13.8" lengthAdjust="spacingAndGlyphs">SIRPG</text>
<line x1="348.2" y1="113.5" x2="359.4" y2="113.4" stroke="#1a1a1a" stroke-width="0.6" />
<text x="332.3" y="120.19999999999999" font-size="6.1" fill="#d4208c" stroke="#d4208c" stroke-width="0.05" font-style="italic" textLength="14.9" lengthAdjust="spacingAndGlyphs">TRBC2</text>
<line x1="348.2" y1="117.8" x2="357.8" y2="117.2" stroke="#d4208c" stroke-width="0.6" />
<text x="334.6" y="126.3" font-size="6.1" fill="#d4208c" stroke="#d4208c" stroke-width="0.05" font-style="italic" textLength="12.6" lengthAdjust="spacingAndGlyphs">CD28</text>
<line x1="348.2" y1="123.5" x2="357.7" y2="120.6" stroke="#d4208c" stroke-width="0.6" />
<text x="334.6" y="133.29999999999998" font-size="6.1" fill="#d4208c" stroke="#d4208c" stroke-width="0.05" font-style="italic" textLength="12.6" lengthAdjust="spacingAndGlyphs">CD3E</text>
<line x1="348.5" y1="129.6" x2="358.5" y2="121.6" stroke="#d4208c" stroke-width="0.6" />
<text x="388.2" y="119.69999999999999" font-size="6.1" fill="#1a1a1a" stroke="#1a1a1a" stroke-width="0.05" font-style="italic" textLength="16" lengthAdjust="spacingAndGlyphs">IGHA2</text>
<line x1="386.2" y1="119.6" x2="381.8" y2="121.2" stroke="#1a1a1a" stroke-width="0.6" />
<text x="384.2" y="129.1" font-size="6.1" fill="#1a1a1a" stroke="#1a1a1a" stroke-width="0.05" font-style="italic" textLength="20.4" lengthAdjust="spacingAndGlyphs">TMIGD2</text>
<line x1="383" y1="125" x2="379.4" y2="122" stroke="#1a1a1a" stroke-width="0.6" />
<text x="321.2" y="210.2" font-size="7.6" fill="#231f20" stroke="#231f20" stroke-width="0.05" textLength="55.8" lengthAdjust="spacingAndGlyphs">NR pre vs post</text>
<circle cx="344" cy="252.8" r="0.6" fill="#c4c4c8"/>
<circle cx="346.5" cy="253.5" r="0.6" fill="#c4c4c8"/>
<circle cx="350" cy="251.5" r="0.6" fill="#c4c4c8"/>
<circle cx="351.5" cy="253.8" r="0.6" fill="#c4c4c8"/>
<circle cx="353" cy="252.6" r="0.6" fill="#c4c4c8"/>
<circle cx="355" cy="250.2" r="0.6" fill="#c4c4c8"/>
<circle cx="356.5" cy="253" r="0.6" fill="#c4c4c8"/>
<circle cx="358" cy="251.8" r="0.6" fill="#c4c4c8"/>
<circle cx="359.5" cy="253.9" r="0.6" fill="#c4c4c8"/>
<circle cx="361" cy="252.7" r="0.6" fill="#c4c4c8"/>
<circle cx="363" cy="253.6" r="0.6" fill="#c4c4c8"/>
<circle cx="365" cy="253.2" r="0.6" fill="#c4c4c8"/>
<circle cx="347.5" cy="251.2" r="0.6" fill="#c4c4c8"/>
<circle cx="349.5" cy="253.2" r="0.6" fill="#c4c4c8"/>
<circle cx="352" cy="250.8" r="0.6" fill="#c4c4c8"/>
<circle cx="354.2" cy="249.8" r="0.6" fill="#c4c4c8"/>
<circle cx="357.2" cy="250.6" r="0.6" fill="#c4c4c8"/>
<circle cx="342" cy="253.8" r="0.6" fill="#c4c4c8"/>
<circle cx="367.5" cy="253.6" r="0.6" fill="#c4c4c8"/>
<circle cx="370" cy="253.9" r="0.6" fill="#c4c4c8"/>
<circle cx="339.5" cy="249.5" r="0.8" fill="#3a5da8"/>
<line x1="302.9" y1="215.5" x2="302.9" y2="255.1" stroke="#111" stroke-width="1.15" />
<line x1="302.3" y1="254.9" x2="393.8" y2="254.9" stroke="#111" stroke-width="1.15" />
<line x1="300.8" y1="227.68" x2="302.5" y2="227.68" stroke="#231f20" stroke-width="0.7" />
<line x1="300.8" y1="245.56" x2="302.5" y2="245.56" stroke="#231f20" stroke-width="0.7" />
<line x1="299.8" y1="218.74" x2="302.5" y2="218.74" stroke="#231f20" stroke-width="0.8" />
<text x="297.4" y="220.84" font-size="6.0" text-anchor="end" fill="#1a1a1a" stroke="#1a1a1a" stroke-width="0.05">12</text>
<line x1="299.8" y1="236.62" x2="302.5" y2="236.62" stroke="#231f20" stroke-width="0.8" />
<text x="297.4" y="238.72" font-size="6.0" text-anchor="end" fill="#1a1a1a" stroke="#1a1a1a" stroke-width="0.05">6</text>
<line x1="299.8" y1="254.5" x2="302.5" y2="254.5" stroke="#231f20" stroke-width="0.8" />
<text x="297.4" y="256.6" font-size="6.0" text-anchor="end" fill="#1a1a1a" stroke="#1a1a1a" stroke-width="0.05">0</text>
<line x1="307.4" y1="254.5" x2="307.4" y2="257.2" stroke="#231f20" stroke-width="0.8" />
<text x="307.4" y="265.2" font-size="6.0" text-anchor="middle" fill="#1a1a1a" stroke="#1a1a1a" stroke-width="0.05">-10</text>
<line x1="328.3" y1="254.5" x2="328.3" y2="257.2" stroke="#231f20" stroke-width="0.8" />
<text x="328.3" y="265.2" font-size="6.0" text-anchor="middle" fill="#1a1a1a" stroke="#1a1a1a" stroke-width="0.05">-5</text>
<line x1="349.2" y1="254.5" x2="349.2" y2="257.2" stroke="#231f20" stroke-width="0.8" />
<text x="349.2" y="265.2" font-size="6.0" text-anchor="middle" fill="#1a1a1a" stroke="#1a1a1a" stroke-width="0.05">0</text>
<line x1="370.09999999999997" y1="254.5" x2="370.09999999999997" y2="257.2" stroke="#231f20" stroke-width="0.8" />
<text x="370.09999999999997" y="265.2" font-size="6.0" text-anchor="middle" fill="#1a1a1a" stroke="#1a1a1a" stroke-width="0.05">5</text>
<line x1="391.0" y1="254.5" x2="391.0" y2="257.2" stroke="#231f20" stroke-width="0.8" />
<text x="391.0" y="265.2" font-size="6.0" text-anchor="middle" fill="#1a1a1a" stroke="#1a1a1a" stroke-width="0.05">10</text>
<text x="321.2" y="278.2" font-size="7.8" fill="#1a1a1a" textLength="55" lengthAdjust="spacingAndGlyphs">Log<tspan font-size="4.8" dy="1.5">2</tspan><tspan dy="-1.5"> (fold change)</tspan></text>
<text transform="translate(283.0,270.7) rotate(-90)" font-size="7.4" fill="#1a1a1a" textLength="70.2" lengthAdjust="spacingAndGlyphs">-log<tspan font-size="5.0" dy="1.5">10</tspan><tspan dy="-1.5"> (adjusted p-value)</tspan></text>
<rect x="421.5" y="70.0" width="7.699999999999989" height="3.9" fill="#fcf0c4" stroke="#d9d9cf" stroke-width="0.25" />
<rect x="429.2" y="70.0" width="7.699999999999989" height="3.9" fill="#e4ecf3" stroke="#d9d9cf" stroke-width="0.25" />
<rect x="436.9" y="70.0" width="7.7000000000000455" height="3.9" fill="#e58b52" stroke="#d9d9cf" stroke-width="0.25" />
<rect x="444.6" y="70.0" width="7.699999999999989" height="3.9" fill="#dd7b46" stroke="#d9d9cf" stroke-width="0.25" />
<rect x="455.0" y="70.0" width="7.75" height="3.9" fill="#e4ecf3" stroke="#d9d9cf" stroke-width="0.25" />
<rect x="462.75" y="70.0" width="7.75" height="3.9" fill="#f4f4e2" stroke="#d9d9cf" stroke-width="0.25" />
<rect x="470.5" y="70.0" width="7.75" height="3.9" fill="#e4ecf3" stroke="#d9d9cf" stroke-width="0.25" />
<rect x="478.25" y="70.0" width="7.75" height="3.9" fill="#f4f4e2" stroke="#d9d9cf" stroke-width="0.25" />
<rect x="421.5" y="73.9" width="7.699999999999989" height="3.9" fill="#f4f4e2" stroke="#d9d9cf" stroke-width="0.25" />
<rect x="429.2" y="73.9" width="7.699999999999989" height="3.9" fill="#f4f4e2" stroke="#d9d9cf" stroke-width="0.25" />
<rect x="436.9" y="73.9" width="7.7000000000000455" height="3.9" fill="#e58b52" stroke="#d9d9cf" stroke-width="0.25" />
<rect x="444.6" y="73.9" width="7.699999999999989" height="3.9" fill="#dd7b46" stroke="#d9d9cf" stroke-width="0.25" />
<rect x="455.0" y="73.9" width="7.75" height="3.9" fill="#f4f4e2" stroke="#d9d9cf" stroke-width="0.25" />
<rect x="462.75" y="73.9" width="7.75" height="3.9" fill="#f4f4e2" stroke="#d9d9cf" stroke-width="0.25" />
<rect x="470.5" y="73.9" width="7.75" height="3.9" fill="#f4f4e2" stroke="#d9d9cf" stroke-width="0.25" />
<rect x="478.25" y="73.9" width="7.75" height="3.9" fill="#f4f4e2" stroke="#d9d9cf" stroke-width="0.25" />
<rect x="421.5" y="77.8" width="7.699999999999989" height="3.9" fill="#c2291f" stroke="#d9d9cf" stroke-width="0.25" />
<rect x="429.2" y="77.8" width="7.699999999999989" height="3.9" fill="#f4f4e2" stroke="#d9d9cf" stroke-width="0.25" />
<rect x="436.9" y="77.8" width="7.7000000000000455" height="3.9" fill="#f4f4e2" stroke="#d9d9cf" stroke-width="0.25" />
<rect x="444.6" y="77.8" width="7.699999999999989" height="3.9" fill="#f4f4e2" stroke="#d9d9cf" stroke-width="0.25" />
<rect x="455.0" y="77.8" width="7.75" height="3.9" fill="#f4f4e2" stroke="#d9d9cf" stroke-width="0.25" />
<rect x="462.75" y="77.8" width="7.75" height="3.9" fill="#f4f4e2" stroke="#d9d9cf" stroke-width="0.25" />
<rect x="470.5" y="77.8" width="7.75" height="3.9" fill="#f4f4e2" stroke="#d9d9cf" stroke-width="0.25" />
<rect x="478.25" y="77.8" width="7.75" height="3.9" fill="#f4f4e2" stroke="#d9d9cf" stroke-width="0.25" />
<rect x="421.5" y="81.7" width="7.699999999999989" height="3.9" fill="#c2291f" stroke="#d9d9cf" stroke-width="0.25" />
<rect x="429.2" y="81.7" width="7.699999999999989" height="3.9" fill="#f4f4e2" stroke="#d9d9cf" stroke-width="0.25" />
<rect x="436.9" y="81.7" width="7.7000000000000455" height="3.9" fill="#f4f4e2" stroke="#d9d9cf" stroke-width="0.25" />
<rect x="444.6" y="81.7" width="7.699999999999989" height="3.9" fill="#f4f4e2" stroke="#d9d9cf" stroke-width="0.25" />
<rect x="455.0" y="81.7" width="7.75" height="3.9" fill="#fcf0c4" stroke="#d9d9cf" stroke-width="0.25" />
<rect x="462.75" y="81.7" width="7.75" height="3.9" fill="#f4f4e2" stroke="#d9d9cf" stroke-width="0.25" />
<rect x="470.5" y="81.7" width="7.75" height="3.9" fill="#f4f4e2" stroke="#d9d9cf" stroke-width="0.25" />
<rect x="478.25" y="81.7" width="7.75" height="3.9" fill="#f4f4e2" stroke="#d9d9cf" stroke-width="0.25" />
<rect x="421.5" y="85.6" width="7.699999999999989" height="3.9" fill="#eda96a" stroke="#d9d9cf" stroke-width="0.25" />
<rect x="429.2" y="85.6" width="7.699999999999989" height="3.9" fill="#e4ecf3" stroke="#d9d9cf" stroke-width="0.25" />
<rect x="436.9" y="85.6" width="7.7000000000000455" height="3.9" fill="#e4ecf3" stroke="#d9d9cf" stroke-width="0.25" />
<rect x="444.6" y="85.6" width="7.699999999999989" height="3.9" fill="#e4ecf3" stroke="#d9d9cf" stroke-width="0.25" />
<rect x="455.0" y="85.6" width="7.75" height="3.9" fill="#e58b52" stroke="#d9d9cf" stroke-width="0.25" />
<rect x="462.75" y="85.6" width="7.75" height="3.9" fill="#f4f4e2" stroke="#d9d9cf" stroke-width="0.25" />
<rect x="470.5" y="85.6" width="7.75" height="3.9" fill="#f4f4e2" stroke="#d9d9cf" stroke-width="0.25" />
<rect x="478.25" y="85.6" width="7.75" height="3.9" fill="#fbe4a2" stroke="#d9d9cf" stroke-width="0.25" />
<rect x="421.5" y="89.5" width="7.699999999999989" height="3.9" fill="#f6cf88" stroke="#d9d9cf" stroke-width="0.25" />
<rect x="429.2" y="89.5" width="7.699999999999989" height="3.9" fill="#f4f4e2" stroke="#d9d9cf" stroke-width="0.25" />
<rect x="436.9" y="89.5" width="7.7000000000000455" height="3.9" fill="#d0ddec" stroke="#d9d9cf" stroke-width="0.25" />
<rect x="444.6" y="89.5" width="7.699999999999989" height="3.9" fill="#d0ddec" stroke="#d9d9cf" stroke-width="0.25" />
<rect x="455.0" y="89.5" width="7.75" height="3.9" fill="#fbe4a2" stroke="#d9d9cf" stroke-width="0.25" />
<rect x="462.75" y="89.5" width="7.75" height="3.9" fill="#fbe4a2" stroke="#d9d9cf" stroke-width="0.25" />
<rect x="470.5" y="89.5" width="7.75" height="3.9" fill="#fbe4a2" stroke="#d9d9cf" stroke-width="0.25" />
<rect x="478.25" y="89.5" width="7.75" height="3.9" fill="#eda96a" stroke="#d9d9cf" stroke-width="0.25" />
<rect x="421.5" y="93.4" width="7.699999999999989" height="3.9" fill="#e58b52" stroke="#d9d9cf" stroke-width="0.25" />
<rect x="429.2" y="93.4" width="7.699999999999989" height="3.9" fill="#c5d6e9" stroke="#d9d9cf" stroke-width="0.25" />
<rect x="436.9" y="93.4" width="7.7000000000000455" height="3.9" fill="#c5d6e9" stroke="#d9d9cf" stroke-width="0.25" />
<rect x="444.6" y="93.4" width="7.699999999999989" height="3.9" fill="#e4ecf3" stroke="#d9d9cf" stroke-width="0.25" />
<rect x="455.0" y="93.4" width="7.75" height="3.9" fill="#f6cf88" stroke="#d9d9cf" stroke-width="0.25" />
<rect x="462.75" y="93.4" width="7.75" height="3.9" fill="#fbe4a2" stroke="#d9d9cf" stroke-width="0.25" />
<rect x="470.5" y="93.4" width="7.75" height="3.9" fill="#fbe4a2" stroke="#d9d9cf" stroke-width="0.25" />
<rect x="478.25" y="93.4" width="7.75" height="3.9" fill="#f4f4e2" stroke="#d9d9cf" stroke-width="0.25" />
<rect x="421.5" y="97.3" width="7.699999999999989" height="3.9" fill="#e4ecf3" stroke="#d9d9cf" stroke-width="0.25" />
<rect x="429.2" y="97.3" width="7.699999999999989" height="3.9" fill="#f4f4e2" stroke="#d9d9cf" stroke-width="0.25" />
<rect x="436.9" y="97.3" width="7.7000000000000455" height="3.9" fill="#e4ecf3" stroke="#d9d9cf" stroke-width="0.25" />
<rect x="444.6" y="97.3" width="7.699999999999989" height="3.9" fill="#fbe4a2" stroke="#d9d9cf" stroke-width="0.25" />
<rect x="455.0" y="97.3" width="7.75" height="3.9" fill="#c2291f" stroke="#d9d9cf" stroke-width="0.25" />
<rect x="462.75" y="97.3" width="7.75" height="3.9" fill="#f4f4e2" stroke="#d9d9cf" stroke-width="0.25" />
<rect x="470.5" y="97.3" width="7.75" height="3.9" fill="#f4f4e2" stroke="#d9d9cf" stroke-width="0.25" />
<rect x="478.25" y="97.3" width="7.75" height="3.9" fill="#f4f4e2" stroke="#d9d9cf" stroke-width="0.25" />
<rect x="421.5" y="101.2" width="7.699999999999989" height="3.9" fill="#f4f4e2" stroke="#d9d9cf" stroke-width="0.25" />
<rect x="429.2" y="101.2" width="7.699999999999989" height="3.9" fill="#fbe4a2" stroke="#d9d9cf" stroke-width="0.25" />
<rect x="436.9" y="101.2" width="7.7000000000000455" height="3.9" fill="#f4f4e2" stroke="#d9d9cf" stroke-width="0.25" />
<rect x="444.6" y="101.2" width="7.699999999999989" height="3.9" fill="#f4f4e2" stroke="#d9d9cf" stroke-width="0.25" />
<rect x="455.0" y="101.2" width="7.75" height="3.9" fill="#c2291f" stroke="#d9d9cf" stroke-width="0.25" />
<rect x="462.75" y="101.2" width="7.75" height="3.9" fill="#f4f4e2" stroke="#d9d9cf" stroke-width="0.25" />
<rect x="470.5" y="101.2" width="7.75" height="3.9" fill="#f4f4e2" stroke="#d9d9cf" stroke-width="0.25" />
<rect x="478.25" y="101.2" width="7.75" height="3.9" fill="#f4f4e2" stroke="#d9d9cf" stroke-width="0.25" />
<rect x="421.5" y="105.1" width="7.699999999999989" height="3.9" fill="#f4f4e2" stroke="#d9d9cf" stroke-width="0.25" />
<rect x="429.2" y="105.1" width="7.699999999999989" height="3.9" fill="#fbe4a2" stroke="#d9d9cf" stroke-width="0.25" />
<rect x="436.9" y="105.1" width="7.7000000000000455" height="3.9" fill="#f4f4e2" stroke="#d9d9cf" stroke-width="0.25" />
<rect x="444.6" y="105.1" width="7.699999999999989" height="3.9" fill="#f4f4e2" stroke="#d9d9cf" stroke-width="0.25" />
<rect x="455.0" y="105.1" width="7.75" height="3.9" fill="#c2291f" stroke="#d9d9cf" stroke-width="0.25" />
<rect x="462.75" y="105.1" width="7.75" height="3.9" fill="#f4f4e2" stroke="#d9d9cf" stroke-width="0.25" />
<rect x="470.5" y="105.1" width="7.75" height="3.9" fill="#f4f4e2" stroke="#d9d9cf" stroke-width="0.25" />
<rect x="478.25" y="105.1" width="7.75" height="3.9" fill="#f4f4e2" stroke="#d9d9cf" stroke-width="0.25" />
<rect x="421.5" y="109.0" width="7.699999999999989" height="3.9" fill="#f4f4e2" stroke="#d9d9cf" stroke-width="0.25" />
<rect x="429.2" y="109.0" width="7.699999999999989" height="3.9" fill="#f4f4e2" stroke="#d9d9cf" stroke-width="0.25" />
<rect x="436.9" y="109.0" width="7.7000000000000455" height="3.9" fill="#f4f4e2" stroke="#d9d9cf" stroke-width="0.25" />
<rect x="444.6" y="109.0" width="7.699999999999989" height="3.9" fill="#f4f4e2" stroke="#d9d9cf" stroke-width="0.25" />
<rect x="455.0" y="109.0" width="7.75" height="3.9" fill="#c2291f" stroke="#d9d9cf" stroke-width="0.25" />
<rect x="462.75" y="109.0" width="7.75" height="3.9" fill="#f4f4e2" stroke="#d9d9cf" stroke-width="0.25" />
<rect x="470.5" y="109.0" width="7.75" height="3.9" fill="#f4f4e2" stroke="#d9d9cf" stroke-width="0.25" />
<rect x="478.25" y="109.0" width="7.75" height="3.9" fill="#fcf0c4" stroke="#d9d9cf" stroke-width="0.25" />
<rect x="421.5" y="112.9" width="7.699999999999989" height="3.9" fill="#f4f4e2" stroke="#d9d9cf" stroke-width="0.25" />
<rect x="429.2" y="112.9" width="7.699999999999989" height="3.9" fill="#fcf0c4" stroke="#d9d9cf" stroke-width="0.25" />
<rect x="436.9" y="112.9" width="7.7000000000000455" height="3.9" fill="#f4f4e2" stroke="#d9d9cf" stroke-width="0.25" />
<rect x="444.6" y="112.9" width="7.699999999999989" height="3.9" fill="#f4f4e2" stroke="#d9d9cf" stroke-width="0.25" />
<rect x="455.0" y="112.9" width="7.75" height="3.9" fill="#c2291f" stroke="#d9d9cf" stroke-width="0.25" />
<rect x="462.75" y="112.9" width="7.75" height="3.9" fill="#f4f4e2" stroke="#d9d9cf" stroke-width="0.25" />
<rect x="470.5" y="112.9" width="7.75" height="3.9" fill="#f4f4e2" stroke="#d9d9cf" stroke-width="0.25" />
<rect x="478.25" y="112.9" width="7.75" height="3.9" fill="#f4f4e2" stroke="#d9d9cf" stroke-width="0.25" />
<rect x="421.5" y="116.8" width="7.699999999999989" height="3.9" fill="#e4ecf3" stroke="#d9d9cf" stroke-width="0.25" />
<rect x="429.2" y="116.8" width="7.699999999999989" height="3.9" fill="#fcf0c4" stroke="#d9d9cf" stroke-width="0.25" />
<rect x="436.9" y="116.8" width="7.7000000000000455" height="3.9" fill="#e4ecf3" stroke="#d9d9cf" stroke-width="0.25" />
<rect x="444.6" y="116.8" width="7.699999999999989" height="3.9" fill="#f4f4e2" stroke="#d9d9cf" stroke-width="0.25" />
<rect x="455.0" y="116.8" width="7.75" height="3.9" fill="#c2291f" stroke="#d9d9cf" stroke-width="0.25" />
<rect x="462.75" y="116.8" width="7.75" height="3.9" fill="#f4f4e2" stroke="#d9d9cf" stroke-width="0.25" />
<rect x="470.5" y="116.8" width="7.75" height="3.9" fill="#fcf0c4" stroke="#d9d9cf" stroke-width="0.25" />
<rect x="478.25" y="116.8" width="7.75" height="3.9" fill="#fbe4a2" stroke="#d9d9cf" stroke-width="0.25" />
<rect x="421.5" y="120.7" width="7.699999999999989" height="3.9" fill="#f4f4e2" stroke="#d9d9cf" stroke-width="0.25" />
<rect x="429.2" y="120.7" width="7.699999999999989" height="3.9" fill="#f4f4e2" stroke="#d9d9cf" stroke-width="0.25" />
<rect x="436.9" y="120.7" width="7.7000000000000455" height="3.9" fill="#e4ecf3" stroke="#d9d9cf" stroke-width="0.25" />
<rect x="444.6" y="120.7" width="7.699999999999989" height="3.9" fill="#f4f4e2" stroke="#d9d9cf" stroke-width="0.25" />
<rect x="455.0" y="120.7" width="7.75" height="3.9" fill="#c2291f" stroke="#d9d9cf" stroke-width="0.25" />
<rect x="462.75" y="120.7" width="7.75" height="3.9" fill="#fcf0c4" stroke="#d9d9cf" stroke-width="0.25" />
<rect x="470.5" y="120.7" width="7.75" height="3.9" fill="#f4f4e2" stroke="#d9d9cf" stroke-width="0.25" />
<rect x="478.25" y="120.7" width="7.75" height="3.9" fill="#fcf0c4" stroke="#d9d9cf" stroke-width="0.25" />
<rect x="421.5" y="124.6" width="7.699999999999989" height="3.9" fill="#f4f4e2" stroke="#d9d9cf" stroke-width="0.25" />
<rect x="429.2" y="124.6" width="7.699999999999989" height="3.9" fill="#f4f4e2" stroke="#d9d9cf" stroke-width="0.25" />
<rect x="436.9" y="124.6" width="7.7000000000000455" height="3.9" fill="#f4f4e2" stroke="#d9d9cf" stroke-width="0.25" />
<rect x="444.6" y="124.6" width="7.699999999999989" height="3.9" fill="#f4f4e2" stroke="#d9d9cf" stroke-width="0.25" />
<rect x="455.0" y="124.6" width="7.75" height="3.9" fill="#c2291f" stroke="#d9d9cf" stroke-width="0.25" />
<rect x="462.75" y="124.6" width="7.75" height="3.9" fill="#fcf0c4" stroke="#d9d9cf" stroke-width="0.25" />
<rect x="470.5" y="124.6" width="7.75" height="3.9" fill="#f4f4e2" stroke="#d9d9cf" stroke-width="0.25" />
<rect x="478.25" y="124.6" width="7.75" height="3.9" fill="#fcf0c4" stroke="#d9d9cf" stroke-width="0.25" />
<rect x="421.5" y="128.5" width="7.699999999999989" height="3.9" fill="#f4f4e2" stroke="#d9d9cf" stroke-width="0.25" />
<rect x="429.2" y="128.5" width="7.699999999999989" height="3.9" fill="#e4ecf3" stroke="#d9d9cf" stroke-width="0.25" />
<rect x="436.9" y="128.5" width="7.7000000000000455" height="3.9" fill="#f4f4e2" stroke="#d9d9cf" stroke-width="0.25" />
<rect x="444.6" y="128.5" width="7.699999999999989" height="3.9" fill="#e4ecf3" stroke="#d9d9cf" stroke-width="0.25" />
<rect x="455.0" y="128.5" width="7.75" height="3.9" fill="#d9623b" stroke="#d9d9cf" stroke-width="0.25" />
<rect x="462.75" y="128.5" width="7.75" height="3.9" fill="#f6cf88" stroke="#d9d9cf" stroke-width="0.25" />
<rect x="470.5" y="128.5" width="7.75" height="3.9" fill="#fcf0c4" stroke="#d9d9cf" stroke-width="0.25" />
<rect x="478.25" y="128.5" width="7.75" height="3.9" fill="#fcf0c4" stroke="#d9d9cf" stroke-width="0.25" />
<rect x="421.5" y="132.4" width="7.699999999999989" height="3.9" fill="#e4ecf3" stroke="#d9d9cf" stroke-width="0.25" />
<rect x="429.2" y="132.4" width="7.699999999999989" height="3.9" fill="#e4ecf3" stroke="#d9d9cf" stroke-width="0.25" />
<rect x="436.9" y="132.4" width="7.7000000000000455" height="3.9" fill="#e4ecf3" stroke="#d9d9cf" stroke-width="0.25" />
<rect x="444.6" y="132.4" width="7.699999999999989" height="3.9" fill="#e4ecf3" stroke="#d9d9cf" stroke-width="0.25" />
<rect x="455.0" y="132.4" width="7.75" height="3.9" fill="#d9623b" stroke="#d9d9cf" stroke-width="0.25" />
<rect x="462.75" y="132.4" width="7.75" height="3.9" fill="#f6cf88" stroke="#d9d9cf" stroke-width="0.25" />
<rect x="470.5" y="132.4" width="7.75" height="3.9" fill="#fcf0c4" stroke="#d9d9cf" stroke-width="0.25" />
<rect x="478.25" y="132.4" width="7.75" height="3.9" fill="#f4f4e2" stroke="#d9d9cf" stroke-width="0.25" />
<rect x="421.5" y="136.3" width="7.699999999999989" height="3.9" fill="#d0ddec" stroke="#d9d9cf" stroke-width="0.25" />
<rect x="429.2" y="136.3" width="7.699999999999989" height="3.9" fill="#fcf0c4" stroke="#d9d9cf" stroke-width="0.25" />
<rect x="436.9" y="136.3" width="7.7000000000000455" height="3.9" fill="#d0ddec" stroke="#d9d9cf" stroke-width="0.25" />
<rect x="444.6" y="136.3" width="7.699999999999989" height="3.9" fill="#d0ddec" stroke="#d9d9cf" stroke-width="0.25" />
<rect x="455.0" y="136.3" width="7.75" height="3.9" fill="#e58b52" stroke="#d9d9cf" stroke-width="0.25" />
<rect x="462.75" y="136.3" width="7.75" height="3.9" fill="#fbe4a2" stroke="#d9d9cf" stroke-width="0.25" />
<rect x="470.5" y="136.3" width="7.75" height="3.9" fill="#fcf0c4" stroke="#d9d9cf" stroke-width="0.25" />
<rect x="478.25" y="136.3" width="7.75" height="3.9" fill="#fbe4a2" stroke="#d9d9cf" stroke-width="0.25" />
<rect x="421.5" y="140.2" width="7.699999999999989" height="3.9" fill="#e4ecf3" stroke="#d9d9cf" stroke-width="0.25" />
<rect x="429.2" y="140.2" width="7.699999999999989" height="3.9" fill="#f4f4e2" stroke="#d9d9cf" stroke-width="0.25" />
<rect x="436.9" y="140.2" width="7.7000000000000455" height="3.9" fill="#e4ecf3" stroke="#d9d9cf" stroke-width="0.25" />
<rect x="444.6" y="140.2" width="7.699999999999989" height="3.9" fill="#f4f4e2" stroke="#d9d9cf" stroke-width="0.25" />
<rect x="455.0" y="140.2" width="7.75" height="3.9" fill="#c2291f" stroke="#d9d9cf" stroke-width="0.25" />
<rect x="462.75" y="140.2" width="7.75" height="3.9" fill="#fcf0c4" stroke="#d9d9cf" stroke-width="0.25" />
<rect x="470.5" y="140.2" width="7.75" height="3.9" fill="#fcf0c4" stroke="#d9d9cf" stroke-width="0.25" />
<rect x="478.25" y="140.2" width="7.75" height="3.9" fill="#fbe4a2" stroke="#d9d9cf" stroke-width="0.25" />
<rect x="421.5" y="144.1" width="7.699999999999989" height="3.9" fill="#f4f4e2" stroke="#d9d9cf" stroke-width="0.25" />
<rect x="429.2" y="144.1" width="7.699999999999989" height="3.9" fill="#f4f4e2" stroke="#d9d9cf" stroke-width="0.25" />
<rect x="436.9" y="144.1" width="7.7000000000000455" height="3.9" fill="#e4ecf3" stroke="#d9d9cf" stroke-width="0.25" />
<rect x="444.6" y="144.1" width="7.699999999999989" height="3.9" fill="#e4ecf3" stroke="#d9d9cf" stroke-width="0.25" />
<rect x="455.0" y="144.1" width="7.75" height="3.9" fill="#c2291f" stroke="#d9d9cf" stroke-width="0.25" />
<rect x="462.75" y="144.1" width="7.75" height="3.9" fill="#fcf0c4" stroke="#d9d9cf" stroke-width="0.25" />
<rect x="470.5" y="144.1" width="7.75" height="3.9" fill="#fcf0c4" stroke="#d9d9cf" stroke-width="0.25" />
<rect x="478.25" y="144.1" width="7.75" height="3.9" fill="#fbe4a2" stroke="#d9d9cf" stroke-width="0.25" />
<rect x="421.5" y="148.0" width="7.699999999999989" height="3.9" fill="#d0ddec" stroke="#d9d9cf" stroke-width="0.25" />
<rect x="429.2" y="148.0" width="7.699999999999989" height="3.9" fill="#f4f4e2" stroke="#d9d9cf" stroke-width="0.25" />
<rect x="436.9" y="148.0" width="7.7000000000000455" height="3.9" fill="#e4ecf3" stroke="#d9d9cf" stroke-width="0.25" />
<rect x="444.6" y="148.0" width="7.699999999999989" height="3.9" fill="#e4ecf3" stroke="#d9d9cf" stroke-width="0.25" />
<rect x="455.0" y="148.0" width="7.75" height="3.9" fill="#eda96a" stroke="#d9d9cf" stroke-width="0.25" />
<rect x="462.75" y="148.0" width="7.75" height="3.9" fill="#fcf0c4" stroke="#d9d9cf" stroke-width="0.25" />
<rect x="470.5" y="148.0" width="7.75" height="3.9" fill="#fbe4a2" stroke="#d9d9cf" stroke-width="0.25" />
<rect x="478.25" y="148.0" width="7.75" height="3.9" fill="#e58b52" stroke="#d9d9cf" stroke-width="0.25" />
<rect x="421.5" y="151.9" width="7.699999999999989" height="3.9" fill="#f4f4e2" stroke="#d9d9cf" stroke-width="0.25" />
<rect x="429.2" y="151.9" width="7.699999999999989" height="3.9" fill="#e4ecf3" stroke="#d9d9cf" stroke-width="0.25" />
<rect x="436.9" y="151.9" width="7.7000000000000455" height="3.9" fill="#f4f4e2" stroke="#d9d9cf" stroke-width="0.25" />
<rect x="444.6" y="151.9" width="7.699999999999989" height="3.9" fill="#e4ecf3" stroke="#d9d9cf" stroke-width="0.25" />
<rect x="455.0" y="151.9" width="7.75" height="3.9" fill="#eda96a" stroke="#d9d9cf" stroke-width="0.25" />
<rect x="462.75" y="151.9" width="7.75" height="3.9" fill="#fcf0c4" stroke="#d9d9cf" stroke-width="0.25" />
<rect x="470.5" y="151.9" width="7.75" height="3.9" fill="#f4f4e2" stroke="#d9d9cf" stroke-width="0.25" />
<rect x="478.25" y="151.9" width="7.75" height="3.9" fill="#e58b52" stroke="#d9d9cf" stroke-width="0.25" />
<rect x="421.5" y="155.8" width="7.699999999999989" height="3.9" fill="#e4ecf3" stroke="#d9d9cf" stroke-width="0.25" />
<rect x="429.2" y="155.8" width="7.699999999999989" height="3.9" fill="#e4ecf3" stroke="#d9d9cf" stroke-width="0.25" />
<rect x="436.9" y="155.8" width="7.7000000000000455" height="3.9" fill="#d0ddec" stroke="#d9d9cf" stroke-width="0.25" />
<rect x="444.6" y="155.8" width="7.699999999999989" height="3.9" fill="#e4ecf3" stroke="#d9d9cf" stroke-width="0.25" />
<rect x="455.0" y="155.8" width="7.75" height="3.9" fill="#e58b52" stroke="#d9d9cf" stroke-width="0.25" />
<rect x="462.75" y="155.8" width="7.75" height="3.9" fill="#fbe4a2" stroke="#d9d9cf" stroke-width="0.25" />
<rect x="470.5" y="155.8" width="7.75" height="3.9" fill="#fcf0c4" stroke="#d9d9cf" stroke-width="0.25" />
<rect x="478.25" y="155.8" width="7.75" height="3.9" fill="#f6cf88" stroke="#d9d9cf" stroke-width="0.25" />
<rect x="421.5" y="159.7" width="7.699999999999989" height="3.9" fill="#f4f4e2" stroke="#d9d9cf" stroke-width="0.25" />
<rect x="429.2" y="159.7" width="7.699999999999989" height="3.9" fill="#e4ecf3" stroke="#d9d9cf" stroke-width="0.25" />
<rect x="436.9" y="159.7" width="7.7000000000000455" height="3.9" fill="#d0ddec" stroke="#d9d9cf" stroke-width="0.25" />
<rect x="444.6" y="159.7" width="7.699999999999989" height="3.9" fill="#e4ecf3" stroke="#d9d9cf" stroke-width="0.25" />
<rect x="455.0" y="159.7" width="7.75" height="3.9" fill="#e58b52" stroke="#d9d9cf" stroke-width="0.25" />
<rect x="462.75" y="159.7" width="7.75" height="3.9" fill="#fbe4a2" stroke="#d9d9cf" stroke-width="0.25" />
<rect x="470.5" y="159.7" width="7.75" height="3.9" fill="#fbe4a2" stroke="#d9d9cf" stroke-width="0.25" />
<rect x="478.25" y="159.7" width="7.75" height="3.9" fill="#f6cf88" stroke="#d9d9cf" stroke-width="0.25" />
<rect x="421.5" y="163.6" width="7.699999999999989" height="3.9" fill="#fbe4a2" stroke="#d9d9cf" stroke-width="0.25" />
<rect x="429.2" y="163.6" width="7.699999999999989" height="3.9" fill="#d0ddec" stroke="#d9d9cf" stroke-width="0.25" />
<rect x="436.9" y="163.6" width="7.7000000000000455" height="3.9" fill="#d0ddec" stroke="#d9d9cf" stroke-width="0.25" />
<rect x="444.6" y="163.6" width="7.699999999999989" height="3.9" fill="#d0ddec" stroke="#d9d9cf" stroke-width="0.25" />
<rect x="455.0" y="163.6" width="7.75" height="3.9" fill="#e58b52" stroke="#d9d9cf" stroke-width="0.25" />
<rect x="462.75" y="163.6" width="7.75" height="3.9" fill="#eda96a" stroke="#d9d9cf" stroke-width="0.25" />
<rect x="470.5" y="163.6" width="7.75" height="3.9" fill="#fbe4a2" stroke="#d9d9cf" stroke-width="0.25" />
<rect x="478.25" y="163.6" width="7.75" height="3.9" fill="#fbe4a2" stroke="#d9d9cf" stroke-width="0.25" />
<rect x="421.5" y="167.5" width="7.699999999999989" height="3.9" fill="#d0ddec" stroke="#d9d9cf" stroke-width="0.25" />
<rect x="429.2" y="167.5" width="7.699999999999989" height="3.9" fill="#e4ecf3" stroke="#d9d9cf" stroke-width="0.25" />
<rect x="436.9" y="167.5" width="7.7000000000000455" height="3.9" fill="#e4ecf3" stroke="#d9d9cf" stroke-width="0.25" />
<rect x="444.6" y="167.5" width="7.699999999999989" height="3.9" fill="#e4ecf3" stroke="#d9d9cf" stroke-width="0.25" />
<rect x="455.0" y="167.5" width="7.75" height="3.9" fill="#e58b52" stroke="#d9d9cf" stroke-width="0.25" />
<rect x="462.75" y="167.5" width="7.75" height="3.9" fill="#eda96a" stroke="#d9d9cf" stroke-width="0.25" />
<rect x="470.5" y="167.5" width="7.75" height="3.9" fill="#fbe4a2" stroke="#d9d9cf" stroke-width="0.25" />
<rect x="478.25" y="167.5" width="7.75" height="3.9" fill="#fbe4a2" stroke="#d9d9cf" stroke-width="0.25" />
<rect x="421.5" y="171.4" width="7.699999999999989" height="3.9" fill="#d0ddec" stroke="#d9d9cf" stroke-width="0.25" />
<rect x="429.2" y="171.4" width="7.699999999999989" height="3.9" fill="#f4f4e2" stroke="#d9d9cf" stroke-width="0.25" />
<rect x="436.9" y="171.4" width="7.7000000000000455" height="3.9" fill="#d0ddec" stroke="#d9d9cf" stroke-width="0.25" />
<rect x="444.6" y="171.4" width="7.699999999999989" height="3.9" fill="#e4ecf3" stroke="#d9d9cf" stroke-width="0.25" />
<rect x="455.0" y="171.4" width="7.75" height="3.9" fill="#eda96a" stroke="#d9d9cf" stroke-width="0.25" />
<rect x="462.75" y="171.4" width="7.75" height="3.9" fill="#eda96a" stroke="#d9d9cf" stroke-width="0.25" />
<rect x="470.5" y="171.4" width="7.75" height="3.9" fill="#fbe4a2" stroke="#d9d9cf" stroke-width="0.25" />
<rect x="478.25" y="171.4" width="7.75" height="3.9" fill="#fbe4a2" stroke="#d9d9cf" stroke-width="0.25" />
<rect x="421.5" y="175.3" width="7.699999999999989" height="3.9" fill="#fbe4a2" stroke="#d9d9cf" stroke-width="0.25" />
<rect x="429.2" y="175.3" width="7.699999999999989" height="3.9" fill="#e4ecf3" stroke="#d9d9cf" stroke-width="0.25" />
<rect x="436.9" y="175.3" width="7.7000000000000455" height="3.9" fill="#f4f4e2" stroke="#d9d9cf" stroke-width="0.25" />
<rect x="444.6" y="175.3" width="7.699999999999989" height="3.9" fill="#f4f4e2" stroke="#d9d9cf" stroke-width="0.25" />
<rect x="455.0" y="175.3" width="7.75" height="3.9" fill="#e4ecf3" stroke="#d9d9cf" stroke-width="0.25" />
<rect x="462.75" y="175.3" width="7.75" height="3.9" fill="#fbe4a2" stroke="#d9d9cf" stroke-width="0.25" />
<rect x="470.5" y="175.3" width="7.75" height="3.9" fill="#fbe4a2" stroke="#d9d9cf" stroke-width="0.25" />
<rect x="478.25" y="175.3" width="7.75" height="3.9" fill="#c2291f" stroke="#d9d9cf" stroke-width="0.25" />
<rect x="421.5" y="179.2" width="7.699999999999989" height="3.9" fill="#f4f4e2" stroke="#d9d9cf" stroke-width="0.25" />
<rect x="429.2" y="179.2" width="7.699999999999989" height="3.9" fill="#e4ecf3" stroke="#d9d9cf" stroke-width="0.25" />
<rect x="436.9" y="179.2" width="7.7000000000000455" height="3.9" fill="#f4f4e2" stroke="#d9d9cf" stroke-width="0.25" />
<rect x="444.6" y="179.2" width="7.699999999999989" height="3.9" fill="#f4f4e2" stroke="#d9d9cf" stroke-width="0.25" />
<rect x="455.0" y="179.2" width="7.75" height="3.9" fill="#e4ecf3" stroke="#d9d9cf" stroke-width="0.25" />
<rect x="462.75" y="179.2" width="7.75" height="3.9" fill="#fbe4a2" stroke="#d9d9cf" stroke-width="0.25" />
<rect x="470.5" y="179.2" width="7.75" height="3.9" fill="#fbe4a2" stroke="#d9d9cf" stroke-width="0.25" />
<rect x="478.25" y="179.2" width="7.75" height="3.9" fill="#c2291f" stroke="#d9d9cf" stroke-width="0.25" />
<rect x="421.5" y="183.1" width="7.699999999999989" height="3.9" fill="#f4f4e2" stroke="#d9d9cf" stroke-width="0.25" />
<rect x="429.2" y="183.1" width="7.699999999999989" height="3.9" fill="#e4ecf3" stroke="#d9d9cf" stroke-width="0.25" />
<rect x="436.9" y="183.1" width="7.7000000000000455" height="3.9" fill="#f4f4e2" stroke="#d9d9cf" stroke-width="0.25" />
<rect x="444.6" y="183.1" width="7.699999999999989" height="3.9" fill="#f4f4e2" stroke="#d9d9cf" stroke-width="0.25" />
<rect x="455.0" y="183.1" width="7.75" height="3.9" fill="#e4ecf3" stroke="#d9d9cf" stroke-width="0.25" />
<rect x="462.75" y="183.1" width="7.75" height="3.9" fill="#d9623b" stroke="#d9d9cf" stroke-width="0.25" />
<rect x="470.5" y="183.1" width="7.75" height="3.9" fill="#fcf0c4" stroke="#d9d9cf" stroke-width="0.25" />
<rect x="478.25" y="183.1" width="7.75" height="3.9" fill="#eda96a" stroke="#d9d9cf" stroke-width="0.25" />
<rect x="421.5" y="187.0" width="7.699999999999989" height="3.9" fill="#f4f4e2" stroke="#d9d9cf" stroke-width="0.25" />
<rect x="429.2" y="187.0" width="7.699999999999989" height="3.9" fill="#e4ecf3" stroke="#d9d9cf" stroke-width="0.25" />
<rect x="436.9" y="187.0" width="7.7000000000000455" height="3.9" fill="#f4f4e2" stroke="#d9d9cf" stroke-width="0.25" />
<rect x="444.6" y="187.0" width="7.699999999999989" height="3.9" fill="#f4f4e2" stroke="#d9d9cf" stroke-width="0.25" />
<rect x="455.0" y="187.0" width="7.75" height="3.9" fill="#e4ecf3" stroke="#d9d9cf" stroke-width="0.25" />
<rect x="462.75" y="187.0" width="7.75" height="3.9" fill="#e58b52" stroke="#d9d9cf" stroke-width="0.25" />
<rect x="470.5" y="187.0" width="7.75" height="3.9" fill="#fbe4a2" stroke="#d9d9cf" stroke-width="0.25" />
<rect x="478.25" y="187.0" width="7.75" height="3.9" fill="#e58b52" stroke="#d9d9cf" stroke-width="0.25" />
<rect x="421.5" y="190.9" width="7.699999999999989" height="3.9" fill="#e4ecf3" stroke="#d9d9cf" stroke-width="0.25" />
<rect x="429.2" y="190.9" width="7.699999999999989" height="3.9" fill="#e4ecf3" stroke="#d9d9cf" stroke-width="0.25" />
<rect x="436.9" y="190.9" width="7.7000000000000455" height="3.9" fill="#f4f4e2" stroke="#d9d9cf" stroke-width="0.25" />
<rect x="444.6" y="190.9" width="7.699999999999989" height="3.9" fill="#e4ecf3" stroke="#d9d9cf" stroke-width="0.25" />
<rect x="455.0" y="190.9" width="7.75" height="3.9" fill="#e4ecf3" stroke="#d9d9cf" stroke-width="0.25" />
<rect x="462.75" y="190.9" width="7.75" height="3.9" fill="#e58b52" stroke="#d9d9cf" stroke-width="0.25" />
<rect x="470.5" y="190.9" width="7.75" height="3.9" fill="#fbe4a2" stroke="#d9d9cf" stroke-width="0.25" />
<rect x="478.25" y="190.9" width="7.75" height="3.9" fill="#e58b52" stroke="#d9d9cf" stroke-width="0.25" />
<rect x="421.5" y="194.8" width="7.699999999999989" height="3.9" fill="#fbe4a2" stroke="#d9d9cf" stroke-width="0.25" />
<rect x="429.2" y="194.8" width="7.699999999999989" height="3.9" fill="#e4ecf3" stroke="#d9d9cf" stroke-width="0.25" />
<rect x="436.9" y="194.8" width="7.7000000000000455" height="3.9" fill="#e4ecf3" stroke="#d9d9cf" stroke-width="0.25" />
<rect x="444.6" y="194.8" width="7.699999999999989" height="3.9" fill="#e4ecf3" stroke="#d9d9cf" stroke-width="0.25" />
<rect x="455.0" y="194.8" width="7.75" height="3.9" fill="#e4ecf3" stroke="#d9d9cf" stroke-width="0.25" />
<rect x="462.75" y="194.8" width="7.75" height="3.9" fill="#eda96a" stroke="#d9d9cf" stroke-width="0.25" />
<rect x="470.5" y="194.8" width="7.75" height="3.9" fill="#e58b52" stroke="#d9d9cf" stroke-width="0.25" />
<rect x="478.25" y="194.8" width="7.75" height="3.9" fill="#eda96a" stroke="#d9d9cf" stroke-width="0.25" />
<rect x="421.5" y="198.7" width="7.699999999999989" height="3.9" fill="#e4ecf3" stroke="#d9d9cf" stroke-width="0.25" />
<rect x="429.2" y="198.7" width="7.699999999999989" height="3.9" fill="#f4f4e2" stroke="#d9d9cf" stroke-width="0.25" />
<rect x="436.9" y="198.7" width="7.7000000000000455" height="3.9" fill="#e4ecf3" stroke="#d9d9cf" stroke-width="0.25" />
<rect x="444.6" y="198.7" width="7.699999999999989" height="3.9" fill="#e4ecf3" stroke="#d9d9cf" stroke-width="0.25" />
<rect x="455.0" y="198.7" width="7.75" height="3.9" fill="#e4ecf3" stroke="#d9d9cf" stroke-width="0.25" />
<rect x="462.75" y="198.7" width="7.75" height="3.9" fill="#eda96a" stroke="#d9d9cf" stroke-width="0.25" />
<rect x="470.5" y="198.7" width="7.75" height="3.9" fill="#f6cf88" stroke="#d9d9cf" stroke-width="0.25" />
<rect x="478.25" y="198.7" width="7.75" height="3.9" fill="#e58b52" stroke="#d9d9cf" stroke-width="0.25" />
<rect x="421.5" y="202.6" width="7.699999999999989" height="3.9" fill="#e4ecf3" stroke="#d9d9cf" stroke-width="0.25" />
<rect x="429.2" y="202.6" width="7.699999999999989" height="3.9" fill="#f4f4e2" stroke="#d9d9cf" stroke-width="0.25" />
<rect x="436.9" y="202.6" width="7.7000000000000455" height="3.9" fill="#e4ecf3" stroke="#d9d9cf" stroke-width="0.25" />
<rect x="444.6" y="202.6" width="7.699999999999989" height="3.9" fill="#f4f4e2" stroke="#d9d9cf" stroke-width="0.25" />
<rect x="455.0" y="202.6" width="7.75" height="3.9" fill="#fcf0c4" stroke="#d9d9cf" stroke-width="0.25" />
<rect x="462.75" y="202.6" width="7.75" height="3.9" fill="#e58b52" stroke="#d9d9cf" stroke-width="0.25" />
<rect x="470.5" y="202.6" width="7.75" height="3.9" fill="#fbe4a2" stroke="#d9d9cf" stroke-width="0.25" />
<rect x="478.25" y="202.6" width="7.75" height="3.9" fill="#e58b52" stroke="#d9d9cf" stroke-width="0.25" />
<rect x="421.5" y="206.5" width="7.699999999999989" height="3.9" fill="#f4f4e2" stroke="#d9d9cf" stroke-width="0.25" />
<rect x="429.2" y="206.5" width="7.699999999999989" height="3.9" fill="#f4f4e2" stroke="#d9d9cf" stroke-width="0.25" />
<rect x="436.9" y="206.5" width="7.7000000000000455" height="3.9" fill="#f4f4e2" stroke="#d9d9cf" stroke-width="0.25" />
<rect x="444.6" y="206.5" width="7.699999999999989" height="3.9" fill="#f4f4e2" stroke="#d9d9cf" stroke-width="0.25" />
<rect x="455.0" y="206.5" width="7.75" height="3.9" fill="#e4ecf3" stroke="#d9d9cf" stroke-width="0.25" />
<rect x="462.75" y="206.5" width="7.75" height="3.9" fill="#e58b52" stroke="#d9d9cf" stroke-width="0.25" />
<rect x="470.5" y="206.5" width="7.75" height="3.9" fill="#eda96a" stroke="#d9d9cf" stroke-width="0.25" />
<rect x="478.25" y="206.5" width="7.75" height="3.9" fill="#fbe4a2" stroke="#d9d9cf" stroke-width="0.25" />
<rect x="421.5" y="210.4" width="7.699999999999989" height="3.9" fill="#e4ecf3" stroke="#d9d9cf" stroke-width="0.25" />
<rect x="429.2" y="210.4" width="7.699999999999989" height="3.9" fill="#f4f4e2" stroke="#d9d9cf" stroke-width="0.25" />
<rect x="436.9" y="210.4" width="7.7000000000000455" height="3.9" fill="#f4f4e2" stroke="#d9d9cf" stroke-width="0.25" />
<rect x="444.6" y="210.4" width="7.699999999999989" height="3.9" fill="#e4ecf3" stroke="#d9d9cf" stroke-width="0.25" />
<rect x="455.0" y="210.4" width="7.75" height="3.9" fill="#e4ecf3" stroke="#d9d9cf" stroke-width="0.25" />
<rect x="462.75" y="210.4" width="7.75" height="3.9" fill="#d9623b" stroke="#d9d9cf" stroke-width="0.25" />
<rect x="470.5" y="210.4" width="7.75" height="3.9" fill="#fbe4a2" stroke="#d9d9cf" stroke-width="0.25" />
<rect x="478.25" y="210.4" width="7.75" height="3.9" fill="#eda96a" stroke="#d9d9cf" stroke-width="0.25" />
<rect x="421.5" y="214.3" width="7.699999999999989" height="3.9" fill="#e4ecf3" stroke="#d9d9cf" stroke-width="0.25" />
<rect x="429.2" y="214.3" width="7.699999999999989" height="3.9" fill="#f4f4e2" stroke="#d9d9cf" stroke-width="0.25" />
<rect x="436.9" y="214.3" width="7.7000000000000455" height="3.9" fill="#f4f4e2" stroke="#d9d9cf" stroke-width="0.25" />
<rect x="444.6" y="214.3" width="7.699999999999989" height="3.9" fill="#e4ecf3" stroke="#d9d9cf" stroke-width="0.25" />
<rect x="455.0" y="214.3" width="7.75" height="3.9" fill="#e4ecf3" stroke="#d9d9cf" stroke-width="0.25" />
<rect x="462.75" y="214.3" width="7.75" height="3.9" fill="#e58b52" stroke="#d9d9cf" stroke-width="0.25" />
<rect x="470.5" y="214.3" width="7.75" height="3.9" fill="#fbe4a2" stroke="#d9d9cf" stroke-width="0.25" />
<rect x="478.25" y="214.3" width="7.75" height="3.9" fill="#eda96a" stroke="#d9d9cf" stroke-width="0.25" />
<rect x="421.5" y="218.2" width="7.699999999999989" height="3.9" fill="#d0ddec" stroke="#d9d9cf" stroke-width="0.25" />
<rect x="429.2" y="218.2" width="7.699999999999989" height="3.9" fill="#d0ddec" stroke="#d9d9cf" stroke-width="0.25" />
<rect x="436.9" y="218.2" width="7.7000000000000455" height="3.9" fill="#e4ecf3" stroke="#d9d9cf" stroke-width="0.25" />
<rect x="444.6" y="218.2" width="7.699999999999989" height="3.9" fill="#e4ecf3" stroke="#d9d9cf" stroke-width="0.25" />
<rect x="455.0" y="218.2" width="7.75" height="3.9" fill="#fbe4a2" stroke="#d9d9cf" stroke-width="0.25" />
<rect x="462.75" y="218.2" width="7.75" height="3.9" fill="#fbe4a2" stroke="#d9d9cf" stroke-width="0.25" />
<rect x="470.5" y="218.2" width="7.75" height="3.9" fill="#d9623b" stroke="#d9d9cf" stroke-width="0.25" />
<rect x="478.25" y="218.2" width="7.75" height="3.9" fill="#fbe4a2" stroke="#d9d9cf" stroke-width="0.25" />
<rect x="421.5" y="222.1" width="7.699999999999989" height="3.9" fill="#d0ddec" stroke="#d9d9cf" stroke-width="0.25" />
<rect x="429.2" y="222.1" width="7.699999999999989" height="3.9" fill="#e4ecf3" stroke="#d9d9cf" stroke-width="0.25" />
<rect x="436.9" y="222.1" width="7.7000000000000455" height="3.9" fill="#d0ddec" stroke="#d9d9cf" stroke-width="0.25" />
<rect x="444.6" y="222.1" width="7.699999999999989" height="3.9" fill="#e4ecf3" stroke="#d9d9cf" stroke-width="0.25" />
<rect x="455.0" y="222.1" width="7.75" height="3.9" fill="#fbe4a2" stroke="#d9d9cf" stroke-width="0.25" />
<rect x="462.75" y="222.1" width="7.75" height="3.9" fill="#eda96a" stroke="#d9d9cf" stroke-width="0.25" />
<rect x="470.5" y="222.1" width="7.75" height="3.9" fill="#fbe4a2" stroke="#d9d9cf" stroke-width="0.25" />
<rect x="478.25" y="222.1" width="7.75" height="3.9" fill="#eda96a" stroke="#d9d9cf" stroke-width="0.25" />
<rect x="421.5" y="226.0" width="7.699999999999989" height="3.9" fill="#d0ddec" stroke="#d9d9cf" stroke-width="0.25" />
<rect x="429.2" y="226.0" width="7.699999999999989" height="3.9" fill="#f4f4e2" stroke="#d9d9cf" stroke-width="0.25" />
<rect x="436.9" y="226.0" width="7.7000000000000455" height="3.9" fill="#d0ddec" stroke="#d9d9cf" stroke-width="0.25" />
<rect x="444.6" y="226.0" width="7.699999999999989" height="3.9" fill="#e4ecf3" stroke="#d9d9cf" stroke-width="0.25" />
<rect x="455.0" y="226.0" width="7.75" height="3.9" fill="#fbe4a2" stroke="#d9d9cf" stroke-width="0.25" />
<rect x="462.75" y="226.0" width="7.75" height="3.9" fill="#eda96a" stroke="#d9d9cf" stroke-width="0.25" />
<rect x="470.5" y="226.0" width="7.75" height="3.9" fill="#eda96a" stroke="#d9d9cf" stroke-width="0.25" />
<rect x="478.25" y="226.0" width="7.75" height="3.9" fill="#fbe4a2" stroke="#d9d9cf" stroke-width="0.25" />
<rect x="421.5" y="229.9" width="7.699999999999989" height="3.9" fill="#d0ddec" stroke="#d9d9cf" stroke-width="0.25" />
<rect x="429.2" y="229.9" width="7.699999999999989" height="3.9" fill="#e4ecf3" stroke="#d9d9cf" stroke-width="0.25" />
<rect x="436.9" y="229.9" width="7.7000000000000455" height="3.9" fill="#d0ddec" stroke="#d9d9cf" stroke-width="0.25" />
<rect x="444.6" y="229.9" width="7.699999999999989" height="3.9" fill="#e4ecf3" stroke="#d9d9cf" stroke-width="0.25" />
<rect x="455.0" y="229.9" width="7.75" height="3.9" fill="#fbe4a2" stroke="#d9d9cf" stroke-width="0.25" />
<rect x="462.75" y="229.9" width="7.75" height="3.9" fill="#eda96a" stroke="#d9d9cf" stroke-width="0.25" />
<rect x="470.5" y="229.9" width="7.75" height="3.9" fill="#eda96a" stroke="#d9d9cf" stroke-width="0.25" />
<rect x="478.25" y="229.9" width="7.75" height="3.9" fill="#fbe4a2" stroke="#d9d9cf" stroke-width="0.25" />
<rect x="421.5" y="233.8" width="7.699999999999989" height="3.9" fill="#f4f4e2" stroke="#d9d9cf" stroke-width="0.25" />
<rect x="429.2" y="233.8" width="7.699999999999989" height="3.9" fill="#e4ecf3" stroke="#d9d9cf" stroke-width="0.25" />
<rect x="436.9" y="233.8" width="7.7000000000000455" height="3.9" fill="#f4f4e2" stroke="#d9d9cf" stroke-width="0.25" />
<rect x="444.6" y="233.8" width="7.699999999999989" height="3.9" fill="#f4f4e2" stroke="#d9d9cf" stroke-width="0.25" />
<rect x="455.0" y="233.8" width="7.75" height="3.9" fill="#f4f4e2" stroke="#d9d9cf" stroke-width="0.25" />
<rect x="462.75" y="233.8" width="7.75" height="3.9" fill="#c2291f" stroke="#d9d9cf" stroke-width="0.25" />
<rect x="470.5" y="233.8" width="7.75" height="3.9" fill="#fbe4a2" stroke="#d9d9cf" stroke-width="0.25" />
<rect x="478.25" y="233.8" width="7.75" height="3.9" fill="#fcf0c4" stroke="#d9d9cf" stroke-width="0.25" />
<rect x="421.5" y="237.7" width="7.699999999999989" height="3.9" fill="#f4f4e2" stroke="#d9d9cf" stroke-width="0.25" />
<rect x="429.2" y="237.7" width="7.699999999999989" height="3.9" fill="#f4f4e2" stroke="#d9d9cf" stroke-width="0.25" />
<rect x="436.9" y="237.7" width="7.7000000000000455" height="3.9" fill="#f4f4e2" stroke="#d9d9cf" stroke-width="0.25" />
<rect x="444.6" y="237.7" width="7.699999999999989" height="3.9" fill="#f4f4e2" stroke="#d9d9cf" stroke-width="0.25" />
<rect x="455.0" y="237.7" width="7.75" height="3.9" fill="#fbe4a2" stroke="#d9d9cf" stroke-width="0.25" />
<rect x="462.75" y="237.7" width="7.75" height="3.9" fill="#c2291f" stroke="#d9d9cf" stroke-width="0.25" />
<rect x="470.5" y="237.7" width="7.75" height="3.9" fill="#fcf0c4" stroke="#d9d9cf" stroke-width="0.25" />
<rect x="478.25" y="237.7" width="7.75" height="3.9" fill="#f4f4e2" stroke="#d9d9cf" stroke-width="0.25" />
<rect x="421.5" y="241.6" width="7.699999999999989" height="3.9" fill="#f4f4e2" stroke="#d9d9cf" stroke-width="0.25" />
<rect x="429.2" y="241.6" width="7.699999999999989" height="3.9" fill="#f4f4e2" stroke="#d9d9cf" stroke-width="0.25" />
<rect x="436.9" y="241.6" width="7.7000000000000455" height="3.9" fill="#f4f4e2" stroke="#d9d9cf" stroke-width="0.25" />
<rect x="444.6" y="241.6" width="7.699999999999989" height="3.9" fill="#f4f4e2" stroke="#d9d9cf" stroke-width="0.25" />
<rect x="455.0" y="241.6" width="7.75" height="3.9" fill="#f4f4e2" stroke="#d9d9cf" stroke-width="0.25" />
<rect x="462.75" y="241.6" width="7.75" height="3.9" fill="#c2291f" stroke="#d9d9cf" stroke-width="0.25" />
<rect x="470.5" y="241.6" width="7.75" height="3.9" fill="#fcf0c4" stroke="#d9d9cf" stroke-width="0.25" />
<rect x="478.25" y="241.6" width="7.75" height="3.9" fill="#fbe4a2" stroke="#d9d9cf" stroke-width="0.25" />
<rect x="421.5" y="245.5" width="7.699999999999989" height="3.9" fill="#f4f4e2" stroke="#d9d9cf" stroke-width="0.25" />
<rect x="429.2" y="245.5" width="7.699999999999989" height="3.9" fill="#fbe4a2" stroke="#d9d9cf" stroke-width="0.25" />
<rect x="436.9" y="245.5" width="7.7000000000000455" height="3.9" fill="#f4f4e2" stroke="#d9d9cf" stroke-width="0.25" />
<rect x="444.6" y="245.5" width="7.699999999999989" height="3.9" fill="#f4f4e2" stroke="#d9d9cf" stroke-width="0.25" />
<rect x="455.0" y="245.5" width="7.75" height="3.9" fill="#f4f4e2" stroke="#d9d9cf" stroke-width="0.25" />
<rect x="462.75" y="245.5" width="7.75" height="3.9" fill="#fcf0c4" stroke="#d9d9cf" stroke-width="0.25" />
<rect x="470.5" y="245.5" width="7.75" height="3.9" fill="#c2291f" stroke="#d9d9cf" stroke-width="0.25" />
<rect x="478.25" y="245.5" width="7.75" height="3.9" fill="#f4f4e2" stroke="#d9d9cf" stroke-width="0.25" />
<rect x="421.5" y="249.4" width="7.699999999999989" height="3.9" fill="#d0ddec" stroke="#d9d9cf" stroke-width="0.25" />
<rect x="429.2" y="249.4" width="7.699999999999989" height="3.9" fill="#f4f4e2" stroke="#d9d9cf" stroke-width="0.25" />
<rect x="436.9" y="249.4" width="7.7000000000000455" height="3.9" fill="#e4ecf3" stroke="#d9d9cf" stroke-width="0.25" />
<rect x="444.6" y="249.4" width="7.699999999999989" height="3.9" fill="#e4ecf3" stroke="#d9d9cf" stroke-width="0.25" />
<rect x="455.0" y="249.4" width="7.75" height="3.9" fill="#eda96a" stroke="#d9d9cf" stroke-width="0.25" />
<rect x="462.75" y="249.4" width="7.75" height="3.9" fill="#f6cf88" stroke="#d9d9cf" stroke-width="0.25" />
<rect x="470.5" y="249.4" width="7.75" height="3.9" fill="#eda96a" stroke="#d9d9cf" stroke-width="0.25" />
<rect x="478.25" y="249.4" width="7.75" height="3.9" fill="#fcf0c4" stroke="#d9d9cf" stroke-width="0.25" />
<rect x="421.5" y="253.3" width="7.699999999999989" height="3.9" fill="#e4ecf3" stroke="#d9d9cf" stroke-width="0.25" />
<rect x="429.2" y="253.3" width="7.699999999999989" height="3.9" fill="#e4ecf3" stroke="#d9d9cf" stroke-width="0.25" />
<rect x="436.9" y="253.3" width="7.7000000000000455" height="3.9" fill="#e4ecf3" stroke="#d9d9cf" stroke-width="0.25" />
<rect x="444.6" y="253.3" width="7.699999999999989" height="3.9" fill="#e4ecf3" stroke="#d9d9cf" stroke-width="0.25" />
<rect x="455.0" y="253.3" width="7.75" height="3.9" fill="#f6cf88" stroke="#d9d9cf" stroke-width="0.25" />
<rect x="462.75" y="253.3" width="7.75" height="3.9" fill="#e58b52" stroke="#d9d9cf" stroke-width="0.25" />
<rect x="470.5" y="253.3" width="7.75" height="3.9" fill="#eda96a" stroke="#d9d9cf" stroke-width="0.25" />
<rect x="478.25" y="253.3" width="7.75" height="3.9" fill="#f4f4e2" stroke="#d9d9cf" stroke-width="0.25" />
<g transform="translate(487.2,0) scale(0.9,1) translate(-487.2,0)">
<text x="487.2" y="85.8" font-size="5.0" fill="#1a1a1a" stroke="#1a1a1a" stroke-width="0.05" font-style="italic">TMIGD2</text>
<text x="487.2" y="97.5" font-size="5.0" fill="#1a1a1a" stroke="#1a1a1a" stroke-width="0.05" font-style="italic">CD3G</text>
<text x="487.2" y="109.2" font-size="5.0" fill="#1a1a1a" stroke="#1a1a1a" stroke-width="0.05" font-style="italic">IGHD</text>
<text x="487.2" y="128.7" font-size="5.0" fill="#1a1a1a" stroke="#1a1a1a" stroke-width="0.05" font-style="italic">SIT1</text>
<text x="487.2" y="152.1" font-size="5.0" fill="#1a1a1a" stroke="#1a1a1a" stroke-width="0.05" font-style="italic">FCRL3</text>
<text x="487.2" y="171.6" font-size="5.0" fill="#1a1a1a" stroke="#1a1a1a" stroke-width="0.05" font-style="italic">LCK</text>
<text x="487.2" y="175.5" font-size="5.0" fill="#1a1a1a" stroke="#1a1a1a" stroke-width="0.05" font-style="italic">TRBC2</text>
<text x="487.2" y="183.3" font-size="5.0" fill="#1a1a1a" stroke="#1a1a1a" stroke-width="0.05" font-style="italic">SIRPG</text>
<text x="487.2" y="218.4" font-size="5.0" fill="#1a1a1a" stroke="#1a1a1a" stroke-width="0.05" font-style="italic">ZAP70</text>
<text x="487.2" y="222.3" font-size="5.0" fill="#1a1a1a" stroke="#1a1a1a" stroke-width="0.05" font-style="italic">CD274</text>
<text x="487.2" y="226.2" font-size="5.0" fill="#1a1a1a" stroke="#1a1a1a" stroke-width="0.05" font-style="italic">FCGR2B</text>
<text x="487.2" y="230.1" font-size="5.0" fill="#1a1a1a" stroke="#1a1a1a" stroke-width="0.05" font-style="italic">CD3E</text>
<text x="487.2" y="249.6" font-size="5.0" fill="#1a1a1a" stroke="#1a1a1a" stroke-width="0.05" font-style="italic">IGHA2</text>
<text x="487.2" y="253.5" font-size="5.0" fill="#1a1a1a" stroke="#1a1a1a" stroke-width="0.05" font-style="italic">CD28</text>
</g>
<text x="421.5" y="23.8" font-size="6.4" fill="#1a1a1a" stroke="#1a1a1a" stroke-width="0.05" textLength="30.7" lengthAdjust="spacingAndGlyphs">Responder</text>
<text x="427.3" y="31.8" font-size="6.4" fill="#1a1a1a" stroke="#1a1a1a" stroke-width="0.05" textLength="18.5" lengthAdjust="spacingAndGlyphs">pre-ipi</text>
<text x="457.8" y="23.8" font-size="6.4" fill="#1a1a1a" stroke="#1a1a1a" stroke-width="0.05" textLength="30.7" lengthAdjust="spacingAndGlyphs">Responder</text>
<text x="462.4" y="31.8" font-size="6.4" fill="#1a1a1a" stroke="#1a1a1a" stroke-width="0.05" textLength="21.1" lengthAdjust="spacingAndGlyphs">post-ipi</text>
<path d="M431.9,43.2 V35.5 H465.8 V36.6" stroke="#231f20" stroke-width="0.6" fill="none" />
<path d="M425.3,52.2 V43.2 H438.8 V46.9" stroke="#231f20" stroke-width="0.6" fill="none" />
<path d="M432.9,52.2 V46.9 H444.3 V50.1" stroke="#231f20" stroke-width="0.6" fill="none" />
<path d="M440.5,52.2 V50.1 H448.1 V52.2" stroke="#231f20" stroke-width="0.6" fill="none" />
<path d="M458.8,52.2 V36.6 H472.7 V43.2" stroke="#231f20" stroke-width="0.6" fill="none" />
<path d="M466.4,52.2 V43.2 H478.2 V45" stroke="#231f20" stroke-width="0.6" fill="none" />
<path d="M474.5,52.2 V45 H481.6 V52.2" stroke="#231f20" stroke-width="0.6" fill="none" />
<rect x="421.7" y="52.3" width="7.200000000000022" height="7.4" fill="#d3d3d3" stroke="#8a8a8a" stroke-width="0.5" />
<text x="425.3" y="57.8" font-size="4.8" text-anchor="middle" fill="#444" stroke="#444" stroke-width="0.05">21ᴿ</text>
<rect x="429.3" y="52.3" width="7.1999999999999655" height="7.4" fill="#d3d3d3" stroke="#8a8a8a" stroke-width="0.5" />
<text x="432.9" y="57.8" font-size="4.8" text-anchor="middle" fill="#444" stroke="#444" stroke-width="0.05">17</text>
<rect x="436.9" y="52.3" width="7.200000000000022" height="7.4" fill="#d3d3d3" stroke="#8a8a8a" stroke-width="0.5" />
<text x="440.5" y="57.8" font-size="4.8" text-anchor="middle" fill="#444" stroke="#444" stroke-width="0.05">21</text>
<rect x="444.5" y="52.3" width="7.1999999999999655" height="7.4" fill="#d3d3d3" stroke="#8a8a8a" stroke-width="0.5" />
<text x="448.1" y="57.8" font-size="4.8" text-anchor="middle" fill="#444" stroke="#444" stroke-width="0.05">26</text>
<rect x="455.1" y="52.3" width="7.5" height="7.4" fill="#1f4788" />
<text x="458.85" y="57.8" font-size="4.8" text-anchor="middle" fill="#fff" stroke="#fff" stroke-width="0.05">17</text>
<rect x="462.6" y="52.3" width="7.599999999999966" height="7.4" fill="#1f4788" />
<text x="466.4" y="57.8" font-size="4.8" text-anchor="middle" fill="#fff" stroke="#fff" stroke-width="0.05">21ᴿ</text>
<rect x="470.2" y="52.3" width="7.5" height="7.4" fill="#1f4788" />
<text x="473.95" y="57.8" font-size="4.8" text-anchor="middle" fill="#fff" stroke="#fff" stroke-width="0.05">21</text>
<rect x="477.7" y="52.3" width="7.5" height="7.4" fill="#1f4788" />
<text x="481.45" y="57.8" font-size="4.8" text-anchor="middle" fill="#fff" stroke="#fff" stroke-width="0.05">26</text>
<text x="413.1" y="57.3" font-size="6.0" fill="#333" stroke="#333" stroke-width="0.05" textLength="6.2" lengthAdjust="spacingAndGlyphs">Pt.</text>
<rect x="421.6" y="61.5" width="7.400000000000023" height="6.0" fill="#fff" stroke="#2a2a2a" stroke-width="0.8" rx="0.35" />
<rect x="455.20000000000005" y="61.5" width="7.3" height="6.0" fill="#e2e9c6" stroke="#2a2a2a" stroke-width="0.8" rx="0.35" />
<rect x="429.20000000000005" y="61.5" width="7.399999999999966" height="6.0" fill="#e2e9c6" stroke="#2a2a2a" stroke-width="0.8" rx="0.35" />
<rect x="462.70000000000005" y="61.5" width="7.399999999999966" height="6.0" fill="#fff" stroke="#2a2a2a" stroke-width="0.8" rx="0.35" />
<rect x="436.8" y="61.5" width="7.400000000000023" height="6.0" fill="#fff" stroke="#2a2a2a" stroke-width="0.8" rx="0.35" />
<rect x="470.3" y="61.5" width="7.3" height="6.0" fill="#fff" stroke="#2a2a2a" stroke-width="0.8" rx="0.35" />
<rect x="444.40000000000003" y="61.5" width="7.399999999999966" height="6.0" fill="#fff" stroke="#2a2a2a" stroke-width="0.8" rx="0.35" />
<rect x="477.8" y="61.5" width="7.3" height="6.0" fill="#fff" stroke="#2a2a2a" stroke-width="0.8" rx="0.35" />
<rect x="488.7" y="59.4" width="5.0" height="3.6" fill="#e2e9c6" stroke="#231f20" stroke-width="0.8" rx="0.6" />
<rect x="488.7" y="65.6" width="5.2" height="3.8" fill="#fff" stroke="#231f20" stroke-width="0.8" rx="0.6" />
<text x="495" y="58.4" font-size="5.4" fill="#1a1a1a" stroke="#1a1a1a" stroke-width="0.05" textLength="12.3" lengthAdjust="spacingAndGlyphs">Bone</text>
<text x="494.4" y="63.2" font-size="5.4" fill="#1a1a1a" stroke="#1a1a1a" stroke-width="0.05" textLength="18.6" lengthAdjust="spacingAndGlyphs">marrow</text>
<text x="494.8" y="69.2" font-size="5.4" fill="#1a1a1a" stroke="#1a1a1a" stroke-width="0.05" textLength="9.8" lengthAdjust="spacingAndGlyphs">Skin</text>
<text x="442.9" y="263.8" font-size="6.5" fill="#1a1a1a" stroke="#1a1a1a" stroke-width="0.05" textLength="30.5" lengthAdjust="spacingAndGlyphs">Expression</text>
<defs><linearGradient id="expg" x1="0" x2="1" y1="0" y2="0"><stop offset="0" stop-color="#2c62b8"/><stop offset="0.28" stop-color="#9ec6e6"/><stop offset="0.5" stop-color="#f5e24c"/><stop offset="0.72" stop-color="#ec8a2c"/><stop offset="1" stop-color="#9e0d1a"/></linearGradient><linearGradient id="pvg" x1="0" x2="1" y1="0" y2="0"><stop offset="0" stop-color="#2e3a9a"/><stop offset="1" stop-color="#d0101e"/></linearGradient></defs>
<rect x="444.1" y="265.9" width="28.8" height="2.7" fill="url(#expg)" />
<text x="443.3" y="273.6" font-size="6.2" fill="#1a1a1a" stroke="#1a1a1a" stroke-width="0.05" textLength="10.4" lengthAdjust="spacingAndGlyphs">min</text>
<text x="462.0" y="273.6" font-size="6.2" fill="#1a1a1a" stroke="#1a1a1a" stroke-width="0.05" textLength="11.4" lengthAdjust="spacingAndGlyphs">max</text>
<text x="7.8" y="307.4" font-size="11.3" fill="#000" stroke="#000" stroke-width="0.35" font-weight="bold" textLength="7.3" lengthAdjust="spacingAndGlyphs">C</text>
<text x="114.7" y="322.8" font-size="5.4" text-anchor="end" fill="#1a1a1a" stroke="#1a1a1a" stroke-width="0.05" textLength="108.0" lengthAdjust="spacingAndGlyphs">antigen receptor-mediated signaling pathway</text>
<line x1="116.8" y1="321.0" x2="120.4" y2="321.0" stroke="#231f20" stroke-width="0.7" />
<text x="114.7" y="328.82" font-size="5.4" text-anchor="end" fill="#1a1a1a" stroke="#1a1a1a" stroke-width="0.05" textLength="103.9" lengthAdjust="spacingAndGlyphs">positive regulation of lymphocyte activation</text>
<line x1="116.8" y1="327.02" x2="120.4" y2="327.02" stroke="#231f20" stroke-width="0.7" />
<text x="114.7" y="334.84" font-size="5.4" text-anchor="end" fill="#1a1a1a" stroke="#1a1a1a" stroke-width="0.05" textLength="99.1" lengthAdjust="spacingAndGlyphs">positive regulation of leukocyte activation</text>
<line x1="116.8" y1="333.04" x2="120.4" y2="333.04" stroke="#231f20" stroke-width="0.7" />
<text x="114.7" y="340.86" font-size="5.4" text-anchor="end" fill="#1a1a1a" stroke="#1a1a1a" stroke-width="0.05" textLength="83.9" lengthAdjust="spacingAndGlyphs">regulation of lymphocyte activation</text>
<line x1="116.8" y1="339.06" x2="120.4" y2="339.06" stroke="#231f20" stroke-width="0.7" />
<text x="114.7" y="346.88" font-size="5.4" text-anchor="end" fill="#1a1a1a" stroke="#1a1a1a" stroke-width="0.05" textLength="76.2" lengthAdjust="spacingAndGlyphs">*immune response-act. pathway</text>
<line x1="116.8" y1="345.08" x2="120.4" y2="345.08" stroke="#231f20" stroke-width="0.7" />
<text x="114.7" y="352.9" font-size="5.4" text-anchor="end" fill="#1a1a1a" stroke="#1a1a1a" stroke-width="0.05" textLength="79.1" lengthAdjust="spacingAndGlyphs">regulation of leukocyte activation</text>
<line x1="116.8" y1="351.1" x2="120.4" y2="351.1" stroke="#231f20" stroke-width="0.7" />
<text x="114.7" y="358.92" font-size="5.4" text-anchor="end" fill="#1a1a1a" stroke="#1a1a1a" stroke-width="0.05" textLength="43.1" lengthAdjust="spacingAndGlyphs">side of membrane</text>
<line x1="116.8" y1="357.12" x2="120.4" y2="357.12" stroke="#231f20" stroke-width="0.7" />
<text x="114.7" y="364.94" font-size="5.4" text-anchor="end" fill="#1a1a1a" stroke="#1a1a1a" stroke-width="0.05" textLength="64.2" lengthAdjust="spacingAndGlyphs">regulation of cell activation</text>
<line x1="116.8" y1="363.14" x2="120.4" y2="363.14" stroke="#231f20" stroke-width="0.7" />
<text x="114.7" y="370.96" font-size="5.4" text-anchor="end" fill="#1a1a1a" stroke="#1a1a1a" stroke-width="0.05" textLength="64.2" lengthAdjust="spacingAndGlyphs">adaptive immune response</text>
<line x1="116.8" y1="369.15999999999997" x2="120.4" y2="369.15999999999997" stroke="#231f20" stroke-width="0.7" />
<text x="114.7" y="376.98" font-size="5.4" text-anchor="end" fill="#1a1a1a" stroke="#1a1a1a" stroke-width="0.05" textLength="51.7" lengthAdjust="spacingAndGlyphs">lymphocyte activation</text>
<line x1="116.8" y1="375.18" x2="120.4" y2="375.18" stroke="#231f20" stroke-width="0.7" />
<rect x="120.6" y="312.9" width="75.6" height="66" fill="none" stroke="#111" stroke-width="1.2" />
<line x1="124.0" y1="378.9" x2="124.0" y2="382.3" stroke="#231f20" stroke-width="0.8" />
<text x="124.0" y="390.6" font-size="6.6" text-anchor="middle" fill="#1a1a1a" stroke="#1a1a1a" stroke-width="0.05">2.0</text>
<line x1="138.9" y1="378.9" x2="138.9" y2="382.3" stroke="#231f20" stroke-width="0.8" />
<text x="138.9" y="390.6" font-size="6.6" text-anchor="middle" fill="#1a1a1a" stroke="#1a1a1a" stroke-width="0.05">2.5</text>
<line x1="153.8" y1="378.9" x2="153.8" y2="382.3" stroke="#231f20" stroke-width="0.8" />
<text x="153.8" y="390.6" font-size="6.6" text-anchor="middle" fill="#1a1a1a" stroke="#1a1a1a" stroke-width="0.05">3.0</text>
<line x1="168.7" y1="378.9" x2="168.7" y2="382.3" stroke="#231f20" stroke-width="0.8" />
<text x="168.7" y="390.6" font-size="6.6" text-anchor="middle" fill="#1a1a1a" stroke="#1a1a1a" stroke-width="0.05">3.5</text>
<line x1="183.6" y1="378.9" x2="183.6" y2="382.3" stroke="#231f20" stroke-width="0.8" />
<text x="183.6" y="390.6" font-size="6.6" text-anchor="middle" fill="#1a1a1a" stroke="#1a1a1a" stroke-width="0.05">4.0</text>
<text x="145.4" y="402.0" font-size="8.2" fill="#1a1a1a" stroke="#1a1a1a" stroke-width="0.05" textLength="18.4" lengthAdjust="spacingAndGlyphs">% hits</text>
<circle cx="187.5" cy="321" r="2.0" fill="#3a3f9c"/>
<circle cx="169.9" cy="327" r="0.9" fill="#6a3a9a"/>
<circle cx="157.8" cy="333" r="1.0" fill="#d2102a"/>
<circle cx="149.4" cy="339" r="2.1" fill="#3a3f9c"/>
<circle cx="145.1" cy="345.1" r="1.7" fill="#c0287a"/>
<circle cx="137.1" cy="351.2" r="2.2" fill="#7a3a92"/>
<circle cx="133.5" cy="357.2" r="2.3" fill="#d0101e"/>
<circle cx="132.2" cy="363.2" r="2.3" fill="#c8185a"/>
<circle cx="130.7" cy="369.3" r="2.5" fill="#3a3f9c"/>
<circle cx="123.8" cy="375.3" r="2.9" fill="#c4187a"/>
<text x="18" y="392.7" font-size="5.5" fill="#1a1a1a" stroke="#1a1a1a" stroke-width="0.05" textLength="68.8" lengthAdjust="spacingAndGlyphs">*immune response-activating</text>
<text x="18" y="398.9" font-size="5.5" fill="#1a1a1a" stroke="#1a1a1a" stroke-width="0.05" textLength="92.8" lengthAdjust="spacingAndGlyphs">cell surface receptor signaling pathway</text>
<text x="123.8" y="412.6" font-size="6.0" fill="#1a1a1a" stroke="#1a1a1a" stroke-width="0.05" textLength="21.0" lengthAdjust="spacingAndGlyphs">p-value</text>
<rect x="122.8" y="414.4" width="22.6" height="2.0" fill="url(#pvg)" />
<text x="118.3" y="422.4" font-size="6.0" fill="#1a1a1a" stroke="#1a1a1a" stroke-width="0.05" textLength="11.1" lengthAdjust="spacingAndGlyphs">Min</text>
<text x="139.2" y="422.4" font-size="6.0" fill="#1a1a1a" stroke="#1a1a1a" stroke-width="0.05" textLength="13.0" lengthAdjust="spacingAndGlyphs">Max</text>
<text x="126.3" y="434.3" font-size="6.0" fill="#1a1a1a" stroke="#1a1a1a" stroke-width="0.05" textLength="17.5" lengthAdjust="spacingAndGlyphs">Genes</text>
<circle cx="126.3" cy="440" r="0.8" fill="#111"/>
<circle cx="131.6" cy="440" r="1.9" fill="#111"/>
<circle cx="137.6" cy="440" r="2.4" fill="#111"/>
<circle cx="143.8" cy="440" r="2.9" fill="#111"/>
<text x="122.6" y="448.0" font-size="6.0" fill="#1a1a1a" stroke="#1a1a1a" stroke-width="0.05" textLength="6.8" lengthAdjust="spacingAndGlyphs">11</text>
<text x="140.8" y="448.0" font-size="6.0" fill="#1a1a1a" stroke="#1a1a1a" stroke-width="0.05" textLength="6.7" lengthAdjust="spacingAndGlyphs">14</text>
<text x="209.7" y="306.8" font-size="11.3" fill="#000" stroke="#000" stroke-width="0.35" font-weight="bold" textLength="8.3" lengthAdjust="spacingAndGlyphs">D</text>
<ellipse cx="280.6" cy="325.2" rx="25.4" ry="6.0" transform="rotate(37.2 280.6 325.2)" fill="none" stroke="#d6647a" stroke-width="0.75"/>
<ellipse cx="266.3" cy="348.6" rx="35.3" ry="10.4" transform="rotate(41.5 266.3 348.6)" fill="none" stroke="#9a9eb0" stroke-width="0.8"/>
<circle cx="267.6" cy="314.1" r="1.15" fill="#d98a72"/>
<circle cx="266.8" cy="317.3" r="1.15" fill="#d98a72"/>
<circle cx="263.5" cy="318.8" r="1.15" fill="#4da0e4"/>
<circle cx="265.6" cy="319" r="1.15" fill="#a50f2a"/>
<circle cx="273.6" cy="319" r="1.15" fill="#a50f2a"/>
<circle cx="275.8" cy="320" r="1.15" fill="#a50f2a"/>
<circle cx="278.8" cy="317.2" r="1.15" fill="#d98a72"/>
<circle cx="278.7" cy="322.8" r="1.15" fill="#d98a72"/>
<circle cx="279.8" cy="322.2" r="1.15" fill="#d98a72"/>
<circle cx="283.5" cy="326.3" r="1.15" fill="#a50f2a"/>
<circle cx="285.8" cy="327.7" r="1.15" fill="#c8c8c8"/>
<circle cx="288.2" cy="328.7" r="1.15" fill="#a50f2a"/>
<circle cx="289" cy="332.4" r="1.15" fill="#a50f2a"/>
<circle cx="291.2" cy="332.1" r="1.15" fill="#d98a72"/>
<circle cx="287.7" cy="335.3" r="1.15" fill="#a50f2a"/>
<circle cx="287.3" cy="340.4" r="1.15" fill="#d98a72"/>
<circle cx="283.7" cy="343.9" r="1.15" fill="#c8c8c8"/>
<circle cx="288.3" cy="344.9" r="1.15" fill="#c8c8c8"/>
<circle cx="291.3" cy="348.3" r="1.15" fill="#c8c8c8"/>
<circle cx="259.2" cy="330.2" r="1.15" fill="#4da0e4"/>
<circle cx="260.8" cy="330.2" r="1.15" fill="#4da0e4"/>
<circle cx="253.7" cy="333.1" r="1.15" fill="#4da0e4"/>
<circle cx="254" cy="337.7" r="1.15" fill="#1f2d4f"/>
<circle cx="259.6" cy="337.7" r="1.15" fill="#4da0e4"/>
<circle cx="264.4" cy="342.5" r="1.15" fill="#1f2d4f"/>
<circle cx="253.7" cy="343.5" r="1.15" fill="#4da0e4"/>
<circle cx="256.5" cy="344.2" r="1.15" fill="#1f2d4f"/>
<circle cx="260.1" cy="344.4" r="1.15" fill="#1f2d4f"/>
<circle cx="260.6" cy="348.8" r="1.15" fill="#4da0e4"/>
<circle cx="270.2" cy="349.4" r="1.15" fill="#1f2d4f"/>
<circle cx="279.3" cy="348.8" r="1.15" fill="#1f2d4f"/>
<circle cx="279.8" cy="360.2" r="1.15" fill="#1f2d4f"/>
<circle cx="279.8" cy="369.5" r="1.15" fill="#1f2d4f"/>
<line x1="236.6" y1="305.2" x2="236.6" y2="376.9" stroke="#111" stroke-width="1.15" />
<line x1="236.0" y1="376.35" x2="303.8" y2="376.35" stroke="#111" stroke-width="1.15" />
<line x1="232.4" y1="312.90000000000003" x2="236.6" y2="312.90000000000003" stroke="#231f20" stroke-width="0.8" />
<text x="230.6" y="315.00000000000006" font-size="6.0" text-anchor="end" fill="#1a1a1a" stroke="#1a1a1a" stroke-width="0.05">10</text>
<line x1="232.4" y1="334.8" x2="236.6" y2="334.8" stroke="#231f20" stroke-width="0.8" />
<text x="230.6" y="336.90000000000003" font-size="6.0" text-anchor="end" fill="#1a1a1a" stroke="#1a1a1a" stroke-width="0.05">0</text>
<line x1="232.4" y1="356.7" x2="236.6" y2="356.7" stroke="#231f20" stroke-width="0.8" />
<text x="230.6" y="358.8" font-size="6.0" text-anchor="end" fill="#1a1a1a" stroke="#1a1a1a" stroke-width="0.05">-10</text>
<line x1="239.70000000000002" y1="376.2" x2="239.70000000000002" y2="379.4" stroke="#231f20" stroke-width="0.8" />
<text x="239.70000000000002" y="387.9" font-size="6.0" text-anchor="middle" fill="#1a1a1a" stroke="#1a1a1a" stroke-width="0.05">-20</text>
<line x1="256.5" y1="376.2" x2="256.5" y2="379.4" stroke="#231f20" stroke-width="0.8" />
<text x="256.5" y="387.9" font-size="6.0" text-anchor="middle" fill="#1a1a1a" stroke="#1a1a1a" stroke-width="0.05">-10</text>
<line x1="273.3" y1="376.2" x2="273.3" y2="379.4" stroke="#231f20" stroke-width="0.8" />
<text x="273.3" y="387.9" font-size="6.0" text-anchor="middle" fill="#1a1a1a" stroke="#1a1a1a" stroke-width="0.05">0</text>
<line x1="290.1" y1="376.2" x2="290.1" y2="379.4" stroke="#231f20" stroke-width="0.8" />
<text x="290.1" y="387.9" font-size="6.0" text-anchor="middle" fill="#1a1a1a" stroke="#1a1a1a" stroke-width="0.05">10</text>
<text transform="translate(215.2,346.6) rotate(-90)" font-size="7.6" fill="#1a1a1a" stroke="#1a1a1a" stroke-width="0.05" textLength="11.6" lengthAdjust="spacingAndGlyphs">PC2</text>
<text x="264.7" y="399.2" font-size="7.6" fill="#1a1a1a" stroke="#1a1a1a" stroke-width="0.05" textLength="11.3" lengthAdjust="spacingAndGlyphs">PC1</text>
<circle cx="232.3" cy="407.5" r="2.4" fill="#c8c8cc"/>
<text x="239" y="409.4" font-size="5.4" fill="#1a1a1a" stroke="#1a1a1a" stroke-width="0.05" textLength="58" lengthAdjust="spacingAndGlyphs">Responder pre-ipi (n=4)</text>
<circle cx="232.3" cy="415.1" r="2.4" fill="#4d9fe0"/>
<text x="239" y="417.0" font-size="5.4" fill="#1a1a1a" stroke="#1a1a1a" stroke-width="0.05" textLength="60" lengthAdjust="spacingAndGlyphs">Responder post-ipi (n=7)</text>
<circle cx="232.3" cy="425.3" r="2.4" fill="#d98a72"/>
<text x="239" y="427.2" font-size="5.4" fill="#1a1a1a" stroke="#1a1a1a" stroke-width="0.05" textLength="66.5" lengthAdjust="spacingAndGlyphs">Non-responder pre-ipi (n=7)</text>
<circle cx="232.3" cy="433.1" r="2.4" fill="#a50f2a"/>
<text x="239" y="435.0" font-size="5.4" fill="#1a1a1a" stroke="#1a1a1a" stroke-width="0.05" textLength="69.5" lengthAdjust="spacingAndGlyphs">Non-responder post-ipi (n=8)</text>
<circle cx="232.3" cy="443.4" r="2.4" fill="#3b4660"/>
<text x="239" y="445.29999999999995" font-size="5.4" fill="#1a1a1a" stroke="#1a1a1a" stroke-width="0.05" textLength="51" lengthAdjust="spacingAndGlyphs">GvHD / Toxicity (n=9)</text>
<text x="324.8" y="306.8" font-size="11.3" fill="#000" stroke="#000" stroke-width="0.35" font-weight="bold" textLength="6.6" lengthAdjust="spacingAndGlyphs">E</text>
<line x1="350.5" y1="317" x2="350.5" y2="409.9" stroke="#111" stroke-width="1.15" />
<line x1="349.9" y1="409.3" x2="412.8" y2="409.3" stroke="#111" stroke-width="1.15" />
<line x1="347.3" y1="405.3" x2="350.6" y2="405.3" stroke="#231f20" stroke-width="0.8" />
<text x="342.6" y="407.5" font-size="6.2" text-anchor="end" fill="#1a1a1a" stroke="#1a1a1a" stroke-width="0.05">0</text>
<line x1="347.3" y1="384.3" x2="350.6" y2="384.3" stroke="#231f20" stroke-width="0.8" />
<text x="342.6" y="386.5" font-size="6.2" text-anchor="end" fill="#1a1a1a" stroke="#1a1a1a" stroke-width="0.05">0.5</text>
<line x1="347.3" y1="363.3" x2="350.6" y2="363.3" stroke="#231f20" stroke-width="0.8" />
<text x="342.6" y="365.5" font-size="6.2" text-anchor="end" fill="#1a1a1a" stroke="#1a1a1a" stroke-width="0.05">1.0</text>
<line x1="347.3" y1="342.3" x2="350.6" y2="342.3" stroke="#231f20" stroke-width="0.8" />
<text x="342.6" y="344.5" font-size="6.2" text-anchor="end" fill="#1a1a1a" stroke="#1a1a1a" stroke-width="0.05">1.5</text>
<line x1="347.3" y1="321.3" x2="350.6" y2="321.3" stroke="#231f20" stroke-width="0.8" />
<text x="342.6" y="323.5" font-size="6.2" text-anchor="end" fill="#1a1a1a" stroke="#1a1a1a" stroke-width="0.05">2.0</text>
<line x1="355.4" y1="409.2" x2="355.4" y2="412" stroke="#231f20" stroke-width="0.8" />
<line x1="364.0" y1="409.2" x2="364.0" y2="412" stroke="#231f20" stroke-width="0.8" />
<line x1="372.7" y1="409.2" x2="372.7" y2="412" stroke="#231f20" stroke-width="0.8" />
<line x1="381.3" y1="409.2" x2="381.3" y2="412" stroke="#231f20" stroke-width="0.8" />
<line x1="390.0" y1="409.2" x2="390.0" y2="412" stroke="#231f20" stroke-width="0.8" />
<line x1="398.6" y1="409.2" x2="398.6" y2="412" stroke="#231f20" stroke-width="0.8" />
<line x1="407.4" y1="409.2" x2="407.4" y2="412" stroke="#231f20" stroke-width="0.8" />
<text transform="translate(331.3,405) rotate(-90)" font-size="6.4" fill="#1a1a1a" stroke="#1a1a1a" stroke-width="0.05" textLength="90" lengthAdjust="spacingAndGlyphs">CIBERSORTx score (CD8+ T cells)</text>
<circle cx="355.4" cy="383.46000000000004" r="1.3" fill="#d98068"/>
<circle cx="355.4" cy="389.76" r="1.3" fill="#d98068"/>
<circle cx="355.4" cy="399.0" r="1.3" fill="#d98068"/>
<circle cx="355.4" cy="400.68" r="1.3" fill="#d98068"/>
<circle cx="355.4" cy="402.78000000000003" r="1.3" fill="#d98068"/>
<circle cx="355.4" cy="404.88" r="1.3" fill="#d98068"/>
<circle cx="364.0" cy="371.28000000000003" r="1.3" fill="#a50f2a"/>
<circle cx="364.0" cy="375.48" r="1.3" fill="#a50f2a"/>
<circle cx="364.0" cy="390.18" r="1.3" fill="#a50f2a"/>
<circle cx="364.0" cy="399.42" r="1.3" fill="#a50f2a"/>
<circle cx="364.0" cy="401.1" r="1.3" fill="#a50f2a"/>
<circle cx="364.0" cy="402.36" r="1.3" fill="#a50f2a"/>
<circle cx="364.0" cy="403.62" r="1.3" fill="#a50f2a"/>
<circle cx="364.0" cy="404.88" r="1.3" fill="#a50f2a"/>
<circle cx="372.7" cy="367.5" r="1.3" fill="#e48cc0"/>
<circle cx="372.7" cy="380.94" r="1.3" fill="#e48cc0"/>
<circle cx="372.7" cy="400.68" r="1.3" fill="#e48cc0"/>
<circle cx="372.7" cy="404.88" r="1.3" fill="#e48cc0"/>
<circle cx="381.3" cy="382.62" r="1.3" fill="#cc1480"/>
<circle cx="381.3" cy="383.88" r="1.3" fill="#cc1480"/>
<circle cx="381.3" cy="390.6" r="1.3" fill="#cc1480"/>
<circle cx="390.0" cy="402.36" r="1.3" fill="#c4c4c8"/>
<circle cx="390.0" cy="403.2" r="1.3" fill="#c4c4c8"/>
<circle cx="390.0" cy="404.04" r="1.3" fill="#c4c4c8"/>
<circle cx="390.0" cy="404.88" r="1.3" fill="#c4c4c8"/>
<circle cx="398.6" cy="323.82" r="1.3" fill="#4096de"/>
<circle cx="398.6" cy="366.24" r="1.3" fill="#4096de"/>
<circle cx="398.6" cy="371.28000000000003" r="1.3" fill="#4096de"/>
<circle cx="398.6" cy="381.78000000000003" r="1.3" fill="#4096de"/>
<circle cx="398.6" cy="392.7" r="1.3" fill="#4096de"/>
<circle cx="398.6" cy="398.58" r="1.3" fill="#4096de"/>
<circle cx="398.6" cy="400.26" r="1.3" fill="#4096de"/>
<circle cx="407.4" cy="366.24" r="1.3" fill="#1f2d4f"/>
<circle cx="407.4" cy="378.84000000000003" r="1.3" fill="#1f2d4f"/>
<circle cx="407.4" cy="388.08000000000004" r="1.3" fill="#1f2d4f"/>
<circle cx="407.4" cy="389.76" r="1.3" fill="#1f2d4f"/>
<circle cx="407.4" cy="397.74" r="1.3" fill="#1f2d4f"/>
<circle cx="407.4" cy="402.36" r="1.3" fill="#1f2d4f"/>
<circle cx="407.4" cy="404.04" r="1.3" fill="#1f2d4f"/>
<text x="394.2" y="317.4" font-size="5.0" text-anchor="middle" fill="#1a1a1a" stroke="#1a1a1a" stroke-width="0.05" textLength="15.8" lengthAdjust="spacingAndGlyphs">0.0061</text>
<path d="M390,321.6 V320.1 H398.9 V321.6" stroke="#231f20" stroke-width="0.8" fill="none" />
<text transform="translate(357.4,414.6) rotate(-90)" font-size="6.2" text-anchor="end" fill="#1a1a1a" stroke="#1a1a1a" stroke-width="0.05" textLength="18.3" lengthAdjust="spacingAndGlyphs">pre-ipi</text>
<text transform="translate(366.0,414.6) rotate(-90)" font-size="6.2" text-anchor="end" fill="#1a1a1a" stroke="#1a1a1a" stroke-width="0.05" textLength="20.8" lengthAdjust="spacingAndGlyphs">post-ipi</text>
<text transform="translate(374.7,414.6) rotate(-90)" font-size="6.2" text-anchor="end" fill="#1a1a1a" stroke="#1a1a1a" stroke-width="0.05" textLength="18.3" lengthAdjust="spacingAndGlyphs">pre-ipi</text>
<text transform="translate(383.3,414.6) rotate(-90)" font-size="6.2" text-anchor="end" fill="#1a1a1a" stroke="#1a1a1a" stroke-width="0.05" textLength="20.8" lengthAdjust="spacingAndGlyphs">post-ipi</text>
<text transform="translate(392.0,414.6) rotate(-90)" font-size="6.2" text-anchor="end" fill="#1a1a1a" stroke="#1a1a1a" stroke-width="0.05" textLength="18.3" lengthAdjust="spacingAndGlyphs">pre-ipi</text>
<text transform="translate(400.6,414.6) rotate(-90)" font-size="6.2" text-anchor="end" fill="#1a1a1a" stroke="#1a1a1a" stroke-width="0.05" textLength="20.8" lengthAdjust="spacingAndGlyphs">post-ipi</text>
<text transform="translate(409.4,414.6) rotate(-90)" font-size="6.2" text-anchor="end" fill="#1a1a1a" stroke="#1a1a1a" stroke-width="0.05" textLength="40.5" lengthAdjust="spacingAndGlyphs">GvHD/Toxicity</text>
<path d="M351.6,437.7 V440.3 H367.6 V437.7" stroke="#231f20" stroke-width="0.8" fill="none" />
<text x="359.5" y="446.8" font-size="6.4" text-anchor="middle" fill="#1a1a1a" stroke="#1a1a1a" stroke-width="0.05" textLength="8.8" lengthAdjust="spacingAndGlyphs">NR</text>
<path d="M370.4,437.7 V440.3 H375.0 V437.7" stroke="#231f20" stroke-width="0.8" fill="none" />
<text x="373.2" y="446.8" font-size="6.4" text-anchor="middle" fill="#1a1a1a" stroke="#1a1a1a" stroke-width="0.05" textLength="7.0" lengthAdjust="spacingAndGlyphs">TR</text>
<path d="M378.8,437.7 V440.3 H383.5 V437.7" stroke="#231f20" stroke-width="0.8" fill="none" />
<path d="M386.5,437.7 V440.3 H402.6 V437.7" stroke="#231f20" stroke-width="0.8" fill="none" />
<text x="394.4" y="446.8" font-size="6.4" text-anchor="middle" fill="#1a1a1a" stroke="#1a1a1a" stroke-width="0.05" textLength="7.8" lengthAdjust="spacingAndGlyphs">CR</text>
<text transform="translate(381.6,463.4) rotate(-90)" font-size="6.2" fill="#1a1a1a" stroke="#1a1a1a" stroke-width="0.05" textLength="21" lengthAdjust="spacingAndGlyphs">Relapse</text>
<text x="427.5" y="306.8" font-size="11.3" fill="#000" stroke="#000" stroke-width="0.35" font-weight="bold" textLength="6.4" lengthAdjust="spacingAndGlyphs">F</text>
<line x1="450.6" y1="316.2" x2="450.6" y2="410.1" stroke="#111" stroke-width="1.15" />
<line x1="450.0" y1="409.5" x2="513" y2="409.5" stroke="#111" stroke-width="1.15" />
<line x1="448.2" y1="405.6" x2="450.6" y2="405.6" stroke="#231f20" stroke-width="0.8" />
<text x="445.2" y="407.8" font-size="6.3" text-anchor="end" fill="#1a1a1a" stroke="#1a1a1a" stroke-width="0.05">0</text>
<line x1="448.2" y1="385.90000000000003" x2="450.6" y2="385.90000000000003" stroke="#231f20" stroke-width="0.8" />
<text x="445.2" y="388.1" font-size="6.3" text-anchor="end" fill="#1a1a1a" stroke="#1a1a1a" stroke-width="0.05">2</text>
<line x1="448.2" y1="366.20000000000005" x2="450.6" y2="366.20000000000005" stroke="#231f20" stroke-width="0.8" />
<text x="445.2" y="368.40000000000003" font-size="6.3" text-anchor="end" fill="#1a1a1a" stroke="#1a1a1a" stroke-width="0.05">4</text>
<line x1="448.2" y1="346.5" x2="450.6" y2="346.5" stroke="#231f20" stroke-width="0.8" />
<text x="445.2" y="348.7" font-size="6.3" text-anchor="end" fill="#1a1a1a" stroke="#1a1a1a" stroke-width="0.05">6</text>
<line x1="448.2" y1="326.8" x2="450.6" y2="326.8" stroke="#231f20" stroke-width="0.8" />
<text x="445.2" y="329.0" font-size="6.3" text-anchor="end" fill="#1a1a1a" stroke="#1a1a1a" stroke-width="0.05">8</text>
<line x1="455.0" y1="409.5" x2="455.0" y2="412.3" stroke="#231f20" stroke-width="0.8" />
<line x1="464.1" y1="409.5" x2="464.1" y2="412.3" stroke="#231f20" stroke-width="0.8" />
<line x1="472.6" y1="409.5" x2="472.6" y2="412.3" stroke="#231f20" stroke-width="0.8" />
<line x1="481.4" y1="409.5" x2="481.4" y2="412.3" stroke="#231f20" stroke-width="0.8" />
<line x1="490.3" y1="409.5" x2="490.3" y2="412.3" stroke="#231f20" stroke-width="0.8" />
<line x1="499.0" y1="409.5" x2="499.0" y2="412.3" stroke="#231f20" stroke-width="0.8" />
<line x1="507.6" y1="409.5" x2="507.6" y2="412.3" stroke="#231f20" stroke-width="0.8" />
<text transform="translate(437.0,413.5) rotate(-90)" font-size="6.4" fill="#1a1a1a" textLength="102" lengthAdjust="spacingAndGlyphs">Clonotypes by TRUST per 10<tspan font-size="4.2" dy="-2.2">6</tspan><tspan dy="2.2"> reads</tspan></text>
<circle cx="455.0" cy="395.75" r="1.3" fill="#d98068"/>
<circle cx="455.0" cy="399.49300000000005" r="1.3" fill="#d98068"/>
<circle cx="455.0" cy="401.463" r="1.3" fill="#d98068"/>
<circle cx="455.0" cy="403.63" r="1.3" fill="#d98068"/>
<circle cx="455.0" cy="405.009" r="1.3" fill="#d98068"/>
<circle cx="464.1" cy="392.4995" r="1.3" fill="#a50f2a"/>
<circle cx="464.1" cy="401.66" r="1.3" fill="#a50f2a"/>
<circle cx="464.1" cy="402.64500000000004" r="1.3" fill="#a50f2a"/>
<circle cx="464.1" cy="403.63" r="1.3" fill="#a50f2a"/>
<circle cx="464.1" cy="404.615" r="1.3" fill="#a50f2a"/>
<circle cx="464.1" cy="405.1075" r="1.3" fill="#a50f2a"/>
<circle cx="464.1" cy="405.6" r="1.3" fill="#a50f2a"/>
<circle cx="472.6" cy="399.887" r="1.3" fill="#e48cc0"/>
<circle cx="472.6" cy="401.463" r="1.3" fill="#e48cc0"/>
<circle cx="472.6" cy="403.63" r="1.3" fill="#e48cc0"/>
<circle cx="481.4" cy="371.125" r="1.3" fill="#cc1480"/>
<circle cx="481.4" cy="376.5425" r="1.3" fill="#cc1480"/>
<circle cx="481.4" cy="383.4375" r="1.3" fill="#cc1480"/>
<circle cx="490.3" cy="401.1675" r="1.3" fill="#c4c4c8"/>
<circle cx="490.3" cy="403.13750000000005" r="1.3" fill="#c4c4c8"/>
<circle cx="490.3" cy="405.403" r="1.3" fill="#c4c4c8"/>
<circle cx="499.0" cy="372.11" r="1.3" fill="#4096de"/>
<circle cx="499.0" cy="376.05" r="1.3" fill="#4096de"/>
<circle cx="499.0" cy="382.94500000000005" r="1.3" fill="#4096de"/>
<circle cx="499.0" cy="388.855" r="1.3" fill="#4096de"/>
<circle cx="499.0" cy="390.82500000000005" r="1.3" fill="#4096de"/>
<circle cx="499.0" cy="396.735" r="1.3" fill="#4096de"/>
<circle cx="499.0" cy="403.13750000000005" r="1.3" fill="#4096de"/>
<circle cx="507.6" cy="360.29" r="1.3" fill="#1f2d4f"/>
<circle cx="507.6" cy="364.23" r="1.3" fill="#1f2d4f"/>
<circle cx="507.6" cy="374.08000000000004" r="1.3" fill="#1f2d4f"/>
<circle cx="507.6" cy="381.46750000000003" r="1.3" fill="#1f2d4f"/>
<circle cx="507.6" cy="385.90000000000003" r="1.3" fill="#1f2d4f"/>
<circle cx="507.6" cy="392.3025" r="1.3" fill="#1f2d4f"/>
<circle cx="507.6" cy="400.872" r="1.3" fill="#1f2d4f"/>
<circle cx="507.6" cy="404.418" r="1.3" fill="#1f2d4f"/>
<circle cx="472.5" cy="337.14250000000004" r="1.3" fill="#e48cc0"/>
<text x="481.7" y="321.6" font-size="5.0" text-anchor="middle" fill="#1a1a1a" stroke="#1a1a1a" stroke-width="0.05" textLength="17" lengthAdjust="spacingAndGlyphs">0.0059</text>
<path d="M464,326.4 V324.7 H499.4 V326.4" stroke="#231f20" stroke-width="0.8" fill="none" />
<text x="494.5" y="331.2" font-size="5.0" text-anchor="middle" fill="#1a1a1a" stroke="#1a1a1a" stroke-width="0.05" textLength="13.3" lengthAdjust="spacingAndGlyphs">0.042</text>
<path d="M490.5,335.9 V334.2 H499.4 V335.9" stroke="#231f20" stroke-width="0.8" fill="none" />
<text transform="translate(457.0,414.6) rotate(-90)" font-size="6.2" text-anchor="end" fill="#1a1a1a" stroke="#1a1a1a" stroke-width="0.05" textLength="18.3" lengthAdjust="spacingAndGlyphs">pre-ipi</text>
<text transform="translate(466.1,414.6) rotate(-90)" font-size="6.2" text-anchor="end" fill="#1a1a1a" stroke="#1a1a1a" stroke-width="0.05" textLength="20.8" lengthAdjust="spacingAndGlyphs">post-ipi</text>
<text transform="translate(474.6,414.6) rotate(-90)" font-size="6.2" text-anchor="end" fill="#1a1a1a" stroke="#1a1a1a" stroke-width="0.05" textLength="18.3" lengthAdjust="spacingAndGlyphs">pre-ipi</text>
<text transform="translate(483.4,414.6) rotate(-90)" font-size="6.2" text-anchor="end" fill="#1a1a1a" stroke="#1a1a1a" stroke-width="0.05" textLength="20.8" lengthAdjust="spacingAndGlyphs">post-ipi</text>
<text transform="translate(492.3,414.6) rotate(-90)" font-size="6.2" text-anchor="end" fill="#1a1a1a" stroke="#1a1a1a" stroke-width="0.05" textLength="18.3" lengthAdjust="spacingAndGlyphs">pre-ipi</text>
<text transform="translate(501.0,414.6) rotate(-90)" font-size="6.2" text-anchor="end" fill="#1a1a1a" stroke="#1a1a1a" stroke-width="0.05" textLength="20.8" lengthAdjust="spacingAndGlyphs">post-ipi</text>
<text transform="translate(509.6,414.6) rotate(-90)" font-size="6.2" text-anchor="end" fill="#1a1a1a" stroke="#1a1a1a" stroke-width="0.05" textLength="40.5" lengthAdjust="spacingAndGlyphs">GvHD/Toxicity</text>
<path d="M451.4,437.7 V440.3 H468.2 V437.7" stroke="#231f20" stroke-width="0.8" fill="none" />
<text x="460.1" y="446.8" font-size="6.4" text-anchor="middle" fill="#1a1a1a" stroke="#1a1a1a" stroke-width="0.05" textLength="8.4" lengthAdjust="spacingAndGlyphs">NR</text>
<path d="M470.5,437.7 V440.3 H475.2 V437.7" stroke="#231f20" stroke-width="0.8" fill="none" />
<text x="473.1" y="446.8" font-size="6.4" text-anchor="middle" fill="#1a1a1a" stroke="#1a1a1a" stroke-width="0.05" textLength="7.0" lengthAdjust="spacingAndGlyphs">TR</text>
<path d="M479.1,437.7 V440.3 H483.7 V437.7" stroke="#231f20" stroke-width="0.8" fill="none" />
<path d="M486.4,437.7 V440.3 H502.8 V437.7" stroke="#231f20" stroke-width="0.8" fill="none" />
<text x="494.6" y="446.8" font-size="6.4" text-anchor="middle" fill="#1a1a1a" stroke="#1a1a1a" stroke-width="0.05" textLength="8.0" lengthAdjust="spacingAndGlyphs">CR</text>
<text transform="translate(482.2,463.4) rotate(-90)" font-size="6.2" fill="#1a1a1a" stroke="#1a1a1a" stroke-width="0.05" textLength="21" lengthAdjust="spacingAndGlyphs">Relapse</text>
</svg></body></html>
